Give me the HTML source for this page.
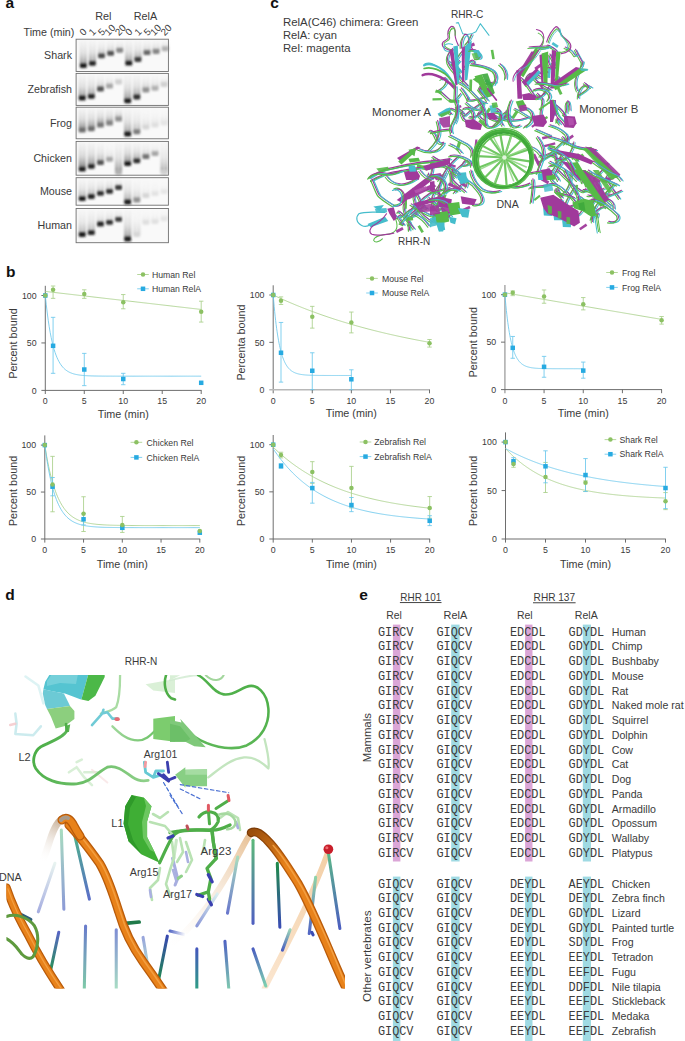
<!DOCTYPE html>
<html><head><meta charset="utf-8"><title>Figure</title><style>
html,body{margin:0;padding:0;background:#fff;}
body{width:685px;height:1041px;overflow:hidden;position:relative;font-family:"Liberation Sans", sans-serif;}
svg{position:absolute;left:0;top:0;display:block;}
svg text{font-family:"Liberation Sans", sans-serif;}
svg text.mono{font-family:"Liberation Mono",monospace;}
</style></head><body>
<svg width="685" height="1041" viewBox="0 0 685 1041">
<defs>
<filter id="gblur" x="-20%" y="-20%" width="140%" height="140%"><feGaussianBlur stdDeviation="0.8"/></filter>
<linearGradient id="smear" x1="0" y1="0" x2="0" y2="1"><stop offset="0" stop-color="#e0e0e0" stop-opacity="0.2"/><stop offset="0.5" stop-color="#c4c4c4" stop-opacity="0.55"/><stop offset="0.85" stop-color="#8c8c8c" stop-opacity="0.85"/><stop offset="1" stop-color="#555" stop-opacity="1"/></linearGradient>
</defs>
<text x="5.60" y="7.90" font-size="15.5" text-anchor="start" fill="#111" font-weight="bold" >a</text>
<text x="103.30" y="19.60" font-size="10.8" text-anchor="middle" fill="#3a3a3a" font-weight="normal" >Rel</text>
<text x="145.40" y="19.60" font-size="10.8" text-anchor="middle" fill="#3a3a3a" font-weight="normal" >RelA</text>
<text x="23.50" y="35.60" font-size="10.7" text-anchor="start" fill="#3a3a3a" font-weight="normal" textLength="50.8" lengthAdjust="spacingAndGlyphs">Time (min)</text>
<text transform="translate(83.60,36.2) rotate(-45)" font-size="9.8" fill="#3a3a3a">0</text>
<text transform="translate(92.75,36.2) rotate(-45)" font-size="9.8" fill="#3a3a3a">1</text>
<text transform="translate(101.90,36.2) rotate(-45)" font-size="9.8" fill="#3a3a3a">5</text>
<text transform="translate(108.45,36.2) rotate(-45)" font-size="9.8" fill="#3a3a3a">10</text>
<text transform="translate(119.00,36.2) rotate(-45)" font-size="9.8" fill="#3a3a3a">20</text>
<text transform="translate(129.35,36.2) rotate(-45)" font-size="9.8" fill="#3a3a3a">0</text>
<text transform="translate(138.50,36.2) rotate(-45)" font-size="9.8" fill="#3a3a3a">1</text>
<text transform="translate(147.65,36.2) rotate(-45)" font-size="9.8" fill="#3a3a3a">5</text>
<text transform="translate(154.20,36.2) rotate(-45)" font-size="9.8" fill="#3a3a3a">10</text>
<text transform="translate(164.75,36.2) rotate(-45)" font-size="9.8" fill="#3a3a3a">20</text>
<rect x="76.1" y="39.2" width="92.30000000000001" height="32.30" fill="#f9f9f9"/>
<g filter="url(#gblur)">
<rect x="79.90" y="40.20" width="6.8" height="25.35" fill="url(#smear)" opacity="0.75"/>
<rect x="79.90" y="40.20" width="1.3" height="25.35" fill="url(#smear)" opacity="0.75"/>
<rect x="85.40" y="40.20" width="1.3" height="25.35" fill="url(#smear)" opacity="0.75"/>
<rect x="79.90" y="63.15" width="6.8" height="4.8" rx="1.2" fill="rgb(30,30,30)"/>
<rect x="89.00" y="40.20" width="6.8" height="23.20" fill="url(#smear)" opacity="0.68"/>
<rect x="89.00" y="40.20" width="1.3" height="23.20" fill="url(#smear)" opacity="0.68"/>
<rect x="94.50" y="40.20" width="1.3" height="23.20" fill="url(#smear)" opacity="0.68"/>
<rect x="89.00" y="61.00" width="6.8" height="4.8" rx="1.2" fill="rgb(40,40,40)"/>
<rect x="98.10" y="40.20" width="6.8" height="15.70" fill="url(#smear)" opacity="0.48"/>
<rect x="98.10" y="40.20" width="1.3" height="15.70" fill="url(#smear)" opacity="0.48"/>
<rect x="103.60" y="40.20" width="1.3" height="15.70" fill="url(#smear)" opacity="0.48"/>
<rect x="98.10" y="53.50" width="6.8" height="4.8" rx="1.2" fill="rgb(72,72,72)"/>
<rect x="107.20" y="40.20" width="6.8" height="13.10" fill="url(#smear)" opacity="0.48"/>
<rect x="107.20" y="40.20" width="1.3" height="13.10" fill="url(#smear)" opacity="0.48"/>
<rect x="112.70" y="40.20" width="1.3" height="13.10" fill="url(#smear)" opacity="0.48"/>
<rect x="107.20" y="50.90" width="6.8" height="4.8" rx="1.2" fill="rgb(82,82,82)"/>
<rect x="116.30" y="40.20" width="6.8" height="10.20" fill="url(#smear)" opacity="0.38"/>
<rect x="116.30" y="40.20" width="1.3" height="10.20" fill="url(#smear)" opacity="0.38"/>
<rect x="121.80" y="40.20" width="1.3" height="10.20" fill="url(#smear)" opacity="0.38"/>
<rect x="116.30" y="48.00" width="6.8" height="4.8" rx="1.2" fill="rgb(135,135,135)"/>
<rect x="125.40" y="40.20" width="6.8" height="23.00" fill="url(#smear)" opacity="0.75"/>
<rect x="125.40" y="40.20" width="1.3" height="23.00" fill="url(#smear)" opacity="0.75"/>
<rect x="130.90" y="40.20" width="1.3" height="23.00" fill="url(#smear)" opacity="0.75"/>
<rect x="125.40" y="60.80" width="6.8" height="4.8" rx="1.2" fill="rgb(30,30,30)"/>
<rect x="134.50" y="40.20" width="6.8" height="19.30" fill="url(#smear)" opacity="0.63"/>
<rect x="134.50" y="40.20" width="1.3" height="19.30" fill="url(#smear)" opacity="0.63"/>
<rect x="140.00" y="40.20" width="1.3" height="19.30" fill="url(#smear)" opacity="0.63"/>
<rect x="134.50" y="57.10" width="6.8" height="4.8" rx="1.2" fill="rgb(61,61,61)"/>
<rect x="143.60" y="40.20" width="6.8" height="12.50" fill="url(#smear)" opacity="0.45"/>
<rect x="143.60" y="40.20" width="1.3" height="12.50" fill="url(#smear)" opacity="0.45"/>
<rect x="149.10" y="40.20" width="1.3" height="12.50" fill="url(#smear)" opacity="0.45"/>
<rect x="143.60" y="50.30" width="6.8" height="4.8" rx="1.2" fill="rgb(103,103,103)"/>
<rect x="152.70" y="40.20" width="6.8" height="11.30" fill="url(#smear)" opacity="0.45"/>
<rect x="152.70" y="40.20" width="1.3" height="11.30" fill="url(#smear)" opacity="0.45"/>
<rect x="158.20" y="40.20" width="1.3" height="11.30" fill="url(#smear)" opacity="0.45"/>
<rect x="152.70" y="49.10" width="6.8" height="4.8" rx="1.2" fill="rgb(135,135,135)"/>
<rect x="161.80" y="40.20" width="6.8" height="8.60" fill="url(#smear)" opacity="0.38"/>
<rect x="161.80" y="40.20" width="1.3" height="8.60" fill="url(#smear)" opacity="0.38"/>
<rect x="167.30" y="40.20" width="1.3" height="8.60" fill="url(#smear)" opacity="0.38"/>
<rect x="161.80" y="46.40" width="6.8" height="4.8" rx="1.2" fill="rgb(177,177,177)"/>
</g>
<rect x="76.1" y="39.2" width="92.30000000000001" height="32.30" fill="none" stroke="#6f6f6f" stroke-width="0.9"/>
<text x="72.00" y="59.05" font-size="10.7" text-anchor="end" fill="#3a3a3a" font-weight="normal" >Shark</text>
<rect x="76.1" y="73.4" width="92.30000000000001" height="32.00" fill="#f9f9f9"/>
<g filter="url(#gblur)">
<rect x="78.80" y="74.40" width="6.8" height="23.60" fill="url(#smear)" opacity="0.75"/>
<rect x="78.80" y="74.40" width="1.3" height="23.60" fill="url(#smear)" opacity="0.75"/>
<rect x="84.30" y="74.40" width="1.3" height="23.60" fill="url(#smear)" opacity="0.75"/>
<rect x="78.80" y="95.60" width="6.8" height="4.8" rx="1.2" fill="rgb(30,30,30)"/>
<rect x="87.90" y="74.40" width="6.8" height="21.90" fill="url(#smear)" opacity="0.68"/>
<rect x="87.90" y="74.40" width="1.3" height="21.90" fill="url(#smear)" opacity="0.68"/>
<rect x="93.40" y="74.40" width="1.3" height="21.90" fill="url(#smear)" opacity="0.68"/>
<rect x="87.90" y="93.90" width="6.8" height="4.8" rx="1.2" fill="rgb(40,40,40)"/>
<rect x="97.00" y="74.40" width="6.8" height="14.60" fill="url(#smear)" opacity="0.45"/>
<rect x="97.00" y="74.40" width="1.3" height="14.60" fill="url(#smear)" opacity="0.45"/>
<rect x="102.50" y="74.40" width="1.3" height="14.60" fill="url(#smear)" opacity="0.45"/>
<rect x="97.00" y="86.60" width="6.8" height="4.8" rx="1.2" fill="rgb(82,82,82)"/>
<rect x="106.10" y="74.40" width="6.8" height="11.80" fill="url(#smear)" opacity="0.30"/>
<rect x="106.10" y="74.40" width="1.3" height="11.80" fill="url(#smear)" opacity="0.30"/>
<rect x="111.60" y="74.40" width="1.3" height="11.80" fill="url(#smear)" opacity="0.30"/>
<rect x="106.10" y="83.80" width="6.8" height="4.8" rx="1.2" fill="rgb(166,166,166)"/>
<rect x="115.20" y="74.40" width="6.8" height="7.60" fill="url(#smear)" opacity="0.22"/>
<rect x="115.20" y="74.40" width="1.3" height="7.60" fill="url(#smear)" opacity="0.22"/>
<rect x="120.70" y="74.40" width="1.3" height="7.60" fill="url(#smear)" opacity="0.22"/>
<rect x="115.20" y="79.60" width="6.8" height="4.8" rx="1.2" fill="rgb(208,208,208)"/>
<rect x="124.30" y="74.40" width="6.8" height="26.40" fill="url(#smear)" opacity="0.75"/>
<rect x="124.30" y="74.40" width="1.3" height="26.40" fill="url(#smear)" opacity="0.75"/>
<rect x="129.80" y="74.40" width="1.3" height="26.40" fill="url(#smear)" opacity="0.75"/>
<rect x="124.30" y="98.40" width="6.8" height="4.8" rx="1.2" fill="rgb(30,30,30)"/>
<rect x="133.40" y="74.40" width="6.8" height="22.60" fill="url(#smear)" opacity="0.68"/>
<rect x="133.40" y="74.40" width="1.3" height="22.60" fill="url(#smear)" opacity="0.68"/>
<rect x="138.90" y="74.40" width="1.3" height="22.60" fill="url(#smear)" opacity="0.68"/>
<rect x="133.40" y="94.60" width="6.8" height="4.8" rx="1.2" fill="rgb(46,46,46)"/>
<rect x="142.50" y="74.40" width="6.8" height="15.60" fill="url(#smear)" opacity="0.38"/>
<rect x="142.50" y="74.40" width="1.3" height="15.60" fill="url(#smear)" opacity="0.38"/>
<rect x="148.00" y="74.40" width="1.3" height="15.60" fill="url(#smear)" opacity="0.38"/>
<rect x="142.50" y="87.60" width="6.8" height="4.8" rx="1.2" fill="rgb(145,145,145)"/>
<rect x="151.60" y="74.40" width="6.8" height="13.90" fill="url(#smear)" opacity="0.30"/>
<rect x="151.60" y="74.40" width="1.3" height="13.90" fill="url(#smear)" opacity="0.30"/>
<rect x="157.10" y="74.40" width="1.3" height="13.90" fill="url(#smear)" opacity="0.30"/>
<rect x="151.60" y="85.90" width="6.8" height="4.8" rx="1.2" fill="rgb(177,177,177)"/>
<rect x="160.70" y="74.40" width="6.8" height="10.10" fill="url(#smear)" opacity="0.22"/>
<rect x="160.70" y="74.40" width="1.3" height="10.10" fill="url(#smear)" opacity="0.22"/>
<rect x="166.20" y="74.40" width="1.3" height="10.10" fill="url(#smear)" opacity="0.22"/>
<rect x="160.70" y="82.10" width="6.8" height="4.8" rx="1.2" fill="rgb(208,208,208)"/>
</g>
<rect x="76.1" y="73.4" width="92.30000000000001" height="32.00" fill="none" stroke="#6f6f6f" stroke-width="0.9"/>
<text x="72.00" y="93.10" font-size="10.7" text-anchor="end" fill="#3a3a3a" font-weight="normal" >Zebrafish</text>
<rect x="76.1" y="107.2" width="92.30000000000001" height="31.60" fill="#f9f9f9"/>
<g filter="url(#gblur)">
<rect x="78.80" y="108.20" width="6.8" height="22.00" fill="url(#smear)" opacity="0.90"/>
<rect x="78.80" y="108.20" width="1.3" height="22.00" fill="url(#smear)" opacity="0.90"/>
<rect x="84.30" y="108.20" width="1.3" height="22.00" fill="url(#smear)" opacity="0.90"/>
<rect x="78.80" y="127.80" width="6.8" height="4.8" rx="1.2" fill="rgb(109,109,109)"/>
<rect x="87.90" y="108.20" width="6.8" height="20.60" fill="url(#smear)" opacity="0.83"/>
<rect x="87.90" y="108.20" width="1.3" height="20.60" fill="url(#smear)" opacity="0.83"/>
<rect x="93.40" y="108.20" width="1.3" height="20.60" fill="url(#smear)" opacity="0.83"/>
<rect x="87.90" y="126.40" width="6.8" height="4.8" rx="1.2" fill="rgb(109,109,109)"/>
<rect x="97.00" y="108.20" width="6.8" height="17.00" fill="url(#smear)" opacity="0.83"/>
<rect x="97.00" y="108.20" width="1.3" height="17.00" fill="url(#smear)" opacity="0.83"/>
<rect x="102.50" y="108.20" width="1.3" height="17.00" fill="url(#smear)" opacity="0.83"/>
<rect x="97.00" y="122.80" width="6.8" height="4.8" rx="1.2" fill="rgb(118,118,118)"/>
<rect x="106.10" y="108.20" width="6.8" height="15.00" fill="url(#smear)" opacity="0.75"/>
<rect x="106.10" y="108.20" width="1.3" height="15.00" fill="url(#smear)" opacity="0.75"/>
<rect x="111.60" y="108.20" width="1.3" height="15.00" fill="url(#smear)" opacity="0.75"/>
<rect x="106.10" y="120.80" width="6.8" height="4.8" rx="1.2" fill="rgb(130,130,130)"/>
<rect x="115.20" y="108.20" width="6.8" height="11.00" fill="url(#smear)" opacity="0.68"/>
<rect x="115.20" y="108.20" width="1.3" height="11.00" fill="url(#smear)" opacity="0.68"/>
<rect x="120.70" y="108.20" width="1.3" height="11.00" fill="url(#smear)" opacity="0.68"/>
<rect x="115.20" y="116.80" width="6.8" height="4.8" rx="1.2" fill="rgb(145,145,145)"/>
<rect x="124.30" y="108.20" width="6.8" height="25.80" fill="url(#smear)" opacity="0.68"/>
<rect x="124.30" y="108.20" width="1.3" height="25.80" fill="url(#smear)" opacity="0.68"/>
<rect x="129.80" y="108.20" width="1.3" height="25.80" fill="url(#smear)" opacity="0.68"/>
<rect x="124.30" y="131.60" width="6.8" height="4.8" rx="1.2" fill="rgb(30,30,30)"/>
<rect x="133.40" y="108.20" width="6.8" height="23.70" fill="url(#smear)" opacity="0.45"/>
<rect x="133.40" y="108.20" width="1.3" height="23.70" fill="url(#smear)" opacity="0.45"/>
<rect x="138.90" y="108.20" width="1.3" height="23.70" fill="url(#smear)" opacity="0.45"/>
<rect x="133.40" y="129.50" width="6.8" height="4.8" rx="1.2" fill="rgb(124,124,124)"/>
<rect x="142.50" y="108.20" width="6.8" height="19.00" fill="url(#smear)" opacity="0.18"/>
<rect x="142.50" y="108.20" width="1.3" height="19.00" fill="url(#smear)" opacity="0.18"/>
<rect x="148.00" y="108.20" width="1.3" height="19.00" fill="url(#smear)" opacity="0.18"/>
<rect x="142.50" y="124.80" width="6.8" height="4.8" rx="1.2" fill="rgb(214,214,214)"/>
<rect x="151.60" y="108.20" width="6.8" height="17.00" fill="url(#smear)" opacity="0.15"/>
<rect x="151.60" y="108.20" width="1.3" height="17.00" fill="url(#smear)" opacity="0.15"/>
<rect x="157.10" y="108.20" width="1.3" height="17.00" fill="url(#smear)" opacity="0.15"/>
<rect x="151.60" y="122.80" width="6.8" height="4.8" rx="1.2" fill="rgb(223,223,223)"/>
<rect x="160.70" y="108.20" width="6.8" height="15.00" fill="url(#smear)" opacity="0.15"/>
<rect x="160.70" y="108.20" width="1.3" height="15.00" fill="url(#smear)" opacity="0.15"/>
<rect x="166.20" y="108.20" width="1.3" height="15.00" fill="url(#smear)" opacity="0.15"/>
<rect x="160.70" y="120.80" width="6.8" height="4.8" rx="1.2" fill="rgb(229,229,229)"/>
</g>
<rect x="76.1" y="107.2" width="92.30000000000001" height="31.60" fill="none" stroke="#6f6f6f" stroke-width="0.9"/>
<text x="72.00" y="126.70" font-size="10.7" text-anchor="end" fill="#3a3a3a" font-weight="normal" >Frog</text>
<rect x="76.1" y="141.4" width="92.30000000000001" height="33.80" fill="#f9f9f9"/>
<g filter="url(#gblur)">
<rect x="78.80" y="142.40" width="6.8" height="26.70" fill="url(#smear)" opacity="1.00"/>
<rect x="78.80" y="142.40" width="1.3" height="26.70" fill="url(#smear)" opacity="1.00"/>
<rect x="84.30" y="142.40" width="1.3" height="26.70" fill="url(#smear)" opacity="1.00"/>
<rect x="78.80" y="166.70" width="6.8" height="4.8" rx="1.2" fill="rgb(30,30,30)"/>
<rect x="87.90" y="142.40" width="6.8" height="23.90" fill="url(#smear)" opacity="0.83"/>
<rect x="87.90" y="142.40" width="1.3" height="23.90" fill="url(#smear)" opacity="0.83"/>
<rect x="93.40" y="142.40" width="1.3" height="23.90" fill="url(#smear)" opacity="0.83"/>
<rect x="87.90" y="163.90" width="6.8" height="4.8" rx="1.2" fill="rgb(40,40,40)"/>
<rect x="97.00" y="142.40" width="6.8" height="20.20" fill="url(#smear)" opacity="0.52"/>
<rect x="97.00" y="142.40" width="1.3" height="20.20" fill="url(#smear)" opacity="0.52"/>
<rect x="102.50" y="142.40" width="1.3" height="20.20" fill="url(#smear)" opacity="0.52"/>
<rect x="97.00" y="160.20" width="6.8" height="4.8" rx="1.2" fill="rgb(82,82,82)"/>
<rect x="106.10" y="142.40" width="6.8" height="17.00" fill="url(#smear)" opacity="0.22"/>
<rect x="106.10" y="142.40" width="1.3" height="17.00" fill="url(#smear)" opacity="0.22"/>
<rect x="111.60" y="142.40" width="1.3" height="17.00" fill="url(#smear)" opacity="0.22"/>
<rect x="106.10" y="157.00" width="6.8" height="4.8" rx="1.2" fill="rgb(166,166,166)"/>
<rect x="115.20" y="142.40" width="6.8" height="30.00" fill="url(#smear)" opacity="0.68"/>
<rect x="115.20" y="142.40" width="1.3" height="30.00" fill="url(#smear)" opacity="0.68"/>
<rect x="120.70" y="142.40" width="1.3" height="30.00" fill="url(#smear)" opacity="0.68"/>
<rect x="115.20" y="170.00" width="6.8" height="4.8" rx="1.2" fill="rgb(177,177,177)"/>
<rect x="124.30" y="142.40" width="6.8" height="21.20" fill="url(#smear)" opacity="0.90"/>
<rect x="124.30" y="142.40" width="1.3" height="21.20" fill="url(#smear)" opacity="0.90"/>
<rect x="129.80" y="142.40" width="1.3" height="21.20" fill="url(#smear)" opacity="0.90"/>
<rect x="124.30" y="161.20" width="6.8" height="4.8" rx="1.2" fill="rgb(30,30,30)"/>
<rect x="133.40" y="142.40" width="6.8" height="18.40" fill="url(#smear)" opacity="0.68"/>
<rect x="133.40" y="142.40" width="1.3" height="18.40" fill="url(#smear)" opacity="0.68"/>
<rect x="138.90" y="142.40" width="1.3" height="18.40" fill="url(#smear)" opacity="0.68"/>
<rect x="133.40" y="158.40" width="6.8" height="4.8" rx="1.2" fill="rgb(46,46,46)"/>
<rect x="142.50" y="142.40" width="6.8" height="14.30" fill="url(#smear)" opacity="0.38"/>
<rect x="142.50" y="142.40" width="1.3" height="14.30" fill="url(#smear)" opacity="0.38"/>
<rect x="148.00" y="142.40" width="1.3" height="14.30" fill="url(#smear)" opacity="0.38"/>
<rect x="142.50" y="154.30" width="6.8" height="4.8" rx="1.2" fill="rgb(114,114,114)"/>
<rect x="151.60" y="142.40" width="6.8" height="11.20" fill="url(#smear)" opacity="0.22"/>
<rect x="151.60" y="142.40" width="1.3" height="11.20" fill="url(#smear)" opacity="0.22"/>
<rect x="157.10" y="142.40" width="1.3" height="11.20" fill="url(#smear)" opacity="0.22"/>
<rect x="151.60" y="151.20" width="6.8" height="4.8" rx="1.2" fill="rgb(166,166,166)"/>
<rect x="160.70" y="142.40" width="6.8" height="30.00" fill="url(#smear)" opacity="0.52"/>
<rect x="160.70" y="142.40" width="1.3" height="30.00" fill="url(#smear)" opacity="0.52"/>
<rect x="166.20" y="142.40" width="1.3" height="30.00" fill="url(#smear)" opacity="0.52"/>
<rect x="160.70" y="170.00" width="6.8" height="4.8" rx="1.2" fill="rgb(208,208,208)"/>
</g>
<rect x="76.1" y="141.4" width="92.30000000000001" height="33.80" fill="none" stroke="#6f6f6f" stroke-width="0.9"/>
<text x="72.00" y="162.00" font-size="10.7" text-anchor="end" fill="#3a3a3a" font-weight="normal" >Chicken</text>
<rect x="76.1" y="177.7" width="92.30000000000001" height="27.50" fill="#f9f9f9"/>
<g filter="url(#gblur)">
<rect x="78.80" y="178.70" width="6.8" height="19.90" fill="url(#smear)" opacity="0.60"/>
<rect x="78.80" y="178.70" width="1.3" height="19.90" fill="url(#smear)" opacity="0.60"/>
<rect x="84.30" y="178.70" width="1.3" height="19.90" fill="url(#smear)" opacity="0.60"/>
<rect x="78.80" y="196.20" width="6.8" height="4.8" rx="1.2" fill="rgb(30,30,30)"/>
<rect x="87.90" y="178.70" width="6.8" height="17.80" fill="url(#smear)" opacity="0.57"/>
<rect x="87.90" y="178.70" width="1.3" height="17.80" fill="url(#smear)" opacity="0.57"/>
<rect x="93.40" y="178.70" width="1.3" height="17.80" fill="url(#smear)" opacity="0.57"/>
<rect x="87.90" y="194.10" width="6.8" height="4.8" rx="1.2" fill="rgb(40,40,40)"/>
<rect x="97.00" y="178.70" width="6.8" height="14.70" fill="url(#smear)" opacity="0.52"/>
<rect x="97.00" y="178.70" width="1.3" height="14.70" fill="url(#smear)" opacity="0.52"/>
<rect x="102.50" y="178.70" width="1.3" height="14.70" fill="url(#smear)" opacity="0.52"/>
<rect x="97.00" y="191.00" width="6.8" height="4.8" rx="1.2" fill="rgb(46,46,46)"/>
<rect x="106.10" y="178.70" width="6.8" height="12.60" fill="url(#smear)" opacity="0.52"/>
<rect x="106.10" y="178.70" width="1.3" height="12.60" fill="url(#smear)" opacity="0.52"/>
<rect x="111.60" y="178.70" width="1.3" height="12.60" fill="url(#smear)" opacity="0.52"/>
<rect x="106.10" y="188.90" width="6.8" height="4.8" rx="1.2" fill="rgb(46,46,46)"/>
<rect x="115.20" y="178.70" width="6.8" height="8.80" fill="url(#smear)" opacity="0.45"/>
<rect x="115.20" y="178.70" width="1.3" height="8.80" fill="url(#smear)" opacity="0.45"/>
<rect x="120.70" y="178.70" width="1.3" height="8.80" fill="url(#smear)" opacity="0.45"/>
<rect x="115.20" y="185.10" width="6.8" height="4.8" rx="1.2" fill="rgb(61,61,61)"/>
<rect x="124.30" y="178.70" width="6.8" height="23.30" fill="url(#smear)" opacity="0.60"/>
<rect x="124.30" y="178.70" width="1.3" height="23.30" fill="url(#smear)" opacity="0.60"/>
<rect x="129.80" y="178.70" width="1.3" height="23.30" fill="url(#smear)" opacity="0.60"/>
<rect x="124.30" y="199.60" width="6.8" height="4.8" rx="1.2" fill="rgb(30,30,30)"/>
<rect x="133.40" y="178.70" width="6.8" height="21.30" fill="url(#smear)" opacity="0.30"/>
<rect x="133.40" y="178.70" width="1.3" height="21.30" fill="url(#smear)" opacity="0.30"/>
<rect x="138.90" y="178.70" width="1.3" height="21.30" fill="url(#smear)" opacity="0.30"/>
<rect x="133.40" y="197.60" width="6.8" height="4.8" rx="1.2" fill="rgb(145,145,145)"/>
<rect x="142.50" y="178.70" width="6.8" height="17.00" fill="url(#smear)" opacity="0.12"/>
<rect x="142.50" y="178.70" width="1.3" height="17.00" fill="url(#smear)" opacity="0.12"/>
<rect x="148.00" y="178.70" width="1.3" height="17.00" fill="url(#smear)" opacity="0.12"/>
<rect x="142.50" y="193.30" width="6.8" height="4.8" rx="1.2" fill="rgb(214,214,214)"/>
<rect x="151.60" y="178.70" width="6.8" height="15.00" fill="url(#smear)" opacity="0.08"/>
<rect x="151.60" y="178.70" width="1.3" height="15.00" fill="url(#smear)" opacity="0.08"/>
<rect x="157.10" y="178.70" width="1.3" height="15.00" fill="url(#smear)" opacity="0.08"/>
<rect x="151.60" y="191.30" width="6.8" height="4.8" rx="1.2" fill="rgb(227,227,227)"/>
<rect x="160.70" y="178.70" width="6.8" height="13.00" fill="url(#smear)" opacity="0.08"/>
<rect x="160.70" y="178.70" width="1.3" height="13.00" fill="url(#smear)" opacity="0.08"/>
<rect x="166.20" y="178.70" width="1.3" height="13.00" fill="url(#smear)" opacity="0.08"/>
<rect x="160.70" y="189.30" width="6.8" height="4.8" rx="1.2" fill="rgb(231,231,231)"/>
</g>
<rect x="76.1" y="177.7" width="92.30000000000001" height="27.50" fill="none" stroke="#6f6f6f" stroke-width="0.9"/>
<text x="72.00" y="195.15" font-size="10.7" text-anchor="end" fill="#3a3a3a" font-weight="normal" >Mouse</text>
<rect x="76.1" y="208.5" width="92.30000000000001" height="34.20" fill="#f9f9f9"/>
<g filter="url(#gblur)">
<rect x="78.80" y="209.50" width="6.8" height="25.00" fill="url(#smear)" opacity="0.52"/>
<rect x="78.80" y="209.50" width="1.3" height="25.00" fill="url(#smear)" opacity="0.52"/>
<rect x="84.30" y="209.50" width="1.3" height="25.00" fill="url(#smear)" opacity="0.52"/>
<rect x="78.80" y="232.10" width="6.8" height="4.8" rx="1.2" fill="rgb(30,30,30)"/>
<rect x="87.90" y="209.50" width="6.8" height="23.20" fill="url(#smear)" opacity="0.52"/>
<rect x="87.90" y="209.50" width="1.3" height="23.20" fill="url(#smear)" opacity="0.52"/>
<rect x="93.40" y="209.50" width="1.3" height="23.20" fill="url(#smear)" opacity="0.52"/>
<rect x="87.90" y="230.30" width="6.8" height="4.8" rx="1.2" fill="rgb(40,40,40)"/>
<rect x="97.00" y="209.50" width="6.8" height="14.50" fill="url(#smear)" opacity="0.38"/>
<rect x="97.00" y="209.50" width="1.3" height="14.50" fill="url(#smear)" opacity="0.38"/>
<rect x="102.50" y="209.50" width="1.3" height="14.50" fill="url(#smear)" opacity="0.38"/>
<rect x="97.00" y="221.60" width="6.8" height="4.8" rx="1.2" fill="rgb(40,40,40)"/>
<rect x="106.10" y="209.50" width="6.8" height="12.80" fill="url(#smear)" opacity="0.38"/>
<rect x="106.10" y="209.50" width="1.3" height="12.80" fill="url(#smear)" opacity="0.38"/>
<rect x="111.60" y="209.50" width="1.3" height="12.80" fill="url(#smear)" opacity="0.38"/>
<rect x="106.10" y="219.90" width="6.8" height="4.8" rx="1.2" fill="rgb(51,51,51)"/>
<rect x="115.20" y="209.50" width="6.8" height="9.80" fill="url(#smear)" opacity="0.38"/>
<rect x="115.20" y="209.50" width="1.3" height="9.80" fill="url(#smear)" opacity="0.38"/>
<rect x="120.70" y="209.50" width="1.3" height="9.80" fill="url(#smear)" opacity="0.38"/>
<rect x="115.20" y="216.90" width="6.8" height="4.8" rx="1.2" fill="rgb(61,61,61)"/>
<rect x="124.30" y="209.50" width="6.8" height="29.50" fill="url(#smear)" opacity="0.68"/>
<rect x="124.30" y="209.50" width="1.3" height="29.50" fill="url(#smear)" opacity="0.68"/>
<rect x="129.80" y="209.50" width="1.3" height="29.50" fill="url(#smear)" opacity="0.68"/>
<rect x="124.30" y="236.60" width="6.8" height="4.8" rx="1.2" fill="rgb(30,30,30)"/>
<rect x="133.40" y="209.50" width="6.8" height="25.00" fill="url(#smear)" opacity="0.22"/>
<rect x="133.40" y="209.50" width="1.3" height="25.00" fill="url(#smear)" opacity="0.22"/>
<rect x="138.90" y="209.50" width="1.3" height="25.00" fill="url(#smear)" opacity="0.22"/>
<rect x="133.40" y="232.10" width="6.8" height="4.8" rx="1.2" fill="rgb(214,214,214)"/>
<rect x="142.50" y="209.50" width="6.8" height="12.80" fill="url(#smear)" opacity="0.12"/>
<rect x="142.50" y="209.50" width="1.3" height="12.80" fill="url(#smear)" opacity="0.12"/>
<rect x="148.00" y="209.50" width="1.3" height="12.80" fill="url(#smear)" opacity="0.12"/>
<rect x="142.50" y="219.90" width="6.8" height="4.8" rx="1.2" fill="rgb(223,223,223)"/>
<rect x="151.60" y="209.50" width="6.8" height="12.10" fill="url(#smear)" opacity="0.12"/>
<rect x="151.60" y="209.50" width="1.3" height="12.10" fill="url(#smear)" opacity="0.12"/>
<rect x="157.10" y="209.50" width="1.3" height="12.10" fill="url(#smear)" opacity="0.12"/>
<rect x="151.60" y="219.20" width="6.8" height="4.8" rx="1.2" fill="rgb(225,225,225)"/>
<rect x="160.70" y="209.50" width="6.8" height="9.40" fill="url(#smear)" opacity="0.12"/>
<rect x="160.70" y="209.50" width="1.3" height="9.40" fill="url(#smear)" opacity="0.12"/>
<rect x="166.20" y="209.50" width="1.3" height="9.40" fill="url(#smear)" opacity="0.12"/>
<rect x="160.70" y="216.50" width="6.8" height="4.8" rx="1.2" fill="rgb(229,229,229)"/>
</g>
<rect x="76.1" y="208.5" width="92.30000000000001" height="34.20" fill="none" stroke="#6f6f6f" stroke-width="0.9"/>
<text x="72.00" y="229.30" font-size="10.7" text-anchor="end" fill="#3a3a3a" font-weight="normal" >Human</text>
<path d="M456.8,111.0 C445.6,102.7 449.4,116.2 451.7,113.1" transform="translate(1.3,0.9)" stroke="#45bdcc" stroke-width="1.05" fill="none" stroke-linecap="round"/><path d="M456.8,111.0 C445.6,102.7 449.4,116.2 451.7,113.1" transform="translate(-1.1,1.3)" stroke="#57ba48" stroke-width="1.05" fill="none" stroke-linecap="round"/><path d="M456.8,111.0 C445.6,102.7 449.4,116.2 451.7,113.1" transform="translate(0,0)" stroke="#a03a9b" stroke-width="1.05" fill="none" stroke-linecap="round"/><path d="M466.7,43.1 C464.3,44.3 466.5,46.1 471.9,34.2" transform="translate(1.3,0.9)" stroke="#45bdcc" stroke-width="1.05" fill="none" stroke-linecap="round"/><path d="M466.7,43.1 C464.3,44.3 466.5,46.1 471.9,34.2" transform="translate(0,0)" stroke="#a03a9b" stroke-width="1.05" fill="none" stroke-linecap="round"/><path d="M466.7,43.1 C464.3,44.3 466.5,46.1 471.9,34.2" transform="translate(-1.1,1.3)" stroke="#57ba48" stroke-width="1.05" fill="none" stroke-linecap="round"/><path d="M457.1,60.8 C459.6,59.4 453.6,68.2 459.6,60.5" transform="translate(0,0)" stroke="#a03a9b" stroke-width="1.05" fill="none" stroke-linecap="round"/><path d="M457.1,60.8 C459.6,59.4 453.6,68.2 459.6,60.5" transform="translate(1.3,0.9)" stroke="#45bdcc" stroke-width="1.05" fill="none" stroke-linecap="round"/><path d="M457.1,60.8 C459.6,59.4 453.6,68.2 459.6,60.5" transform="translate(-1.1,1.3)" stroke="#57ba48" stroke-width="1.05" fill="none" stroke-linecap="round"/><path d="M464.4,115.8 C471.3,109.4 485.7,97.9 483.2,105.7" transform="translate(-1.1,1.3)" stroke="#57ba48" stroke-width="1.05" fill="none" stroke-linecap="round"/><path d="M464.4,115.8 C471.3,109.4 485.7,97.9 483.2,105.7" transform="translate(1.3,0.9)" stroke="#45bdcc" stroke-width="1.05" fill="none" stroke-linecap="round"/><path d="M464.4,115.8 C471.3,109.4 485.7,97.9 483.2,105.7" transform="translate(0,0)" stroke="#a03a9b" stroke-width="1.05" fill="none" stroke-linecap="round"/><path d="M484.2,110.2 C479.4,105.7 479.3,114.6 466.3,102.4" transform="translate(0,0)" stroke="#a03a9b" stroke-width="1.05" fill="none" stroke-linecap="round"/><path d="M484.2,110.2 C479.4,105.7 479.3,114.6 466.3,102.4" transform="translate(-1.1,1.3)" stroke="#57ba48" stroke-width="1.05" fill="none" stroke-linecap="round"/><path d="M484.2,110.2 C479.4,105.7 479.3,114.6 466.3,102.4" transform="translate(1.3,0.9)" stroke="#45bdcc" stroke-width="1.05" fill="none" stroke-linecap="round"/><path d="M468.3,96.8 C466.7,103.3 478.3,98.7 491.5,94.3" transform="translate(1.3,0.9)" stroke="#45bdcc" stroke-width="1.05" fill="none" stroke-linecap="round"/><path d="M468.3,96.8 C466.7,103.3 478.3,98.7 491.5,94.3" transform="translate(0,0)" stroke="#a03a9b" stroke-width="1.05" fill="none" stroke-linecap="round"/><path d="M468.3,96.8 C466.7,103.3 478.3,98.7 491.5,94.3" transform="translate(-1.1,1.3)" stroke="#57ba48" stroke-width="1.05" fill="none" stroke-linecap="round"/><path d="M462.0,51.4 C455.6,58.5 452.6,71.0 452.5,61.0" transform="translate(0,0)" stroke="#a03a9b" stroke-width="1.05" fill="none" stroke-linecap="round"/><path d="M462.0,51.4 C455.6,58.5 452.6,71.0 452.5,61.0" transform="translate(-1.1,1.3)" stroke="#57ba48" stroke-width="1.05" fill="none" stroke-linecap="round"/><path d="M462.0,51.4 C455.6,58.5 452.6,71.0 452.5,61.0" transform="translate(1.3,0.9)" stroke="#45bdcc" stroke-width="1.05" fill="none" stroke-linecap="round"/><path d="M456.1,65.2 C467.7,78.9 457.2,69.2 449.2,61.2" transform="translate(-1.1,1.3)" stroke="#57ba48" stroke-width="1.05" fill="none" stroke-linecap="round"/><path d="M456.1,65.2 C467.7,78.9 457.2,69.2 449.2,61.2" transform="translate(0,0)" stroke="#a03a9b" stroke-width="1.05" fill="none" stroke-linecap="round"/><path d="M456.1,65.2 C467.7,78.9 457.2,69.2 449.2,61.2" transform="translate(1.3,0.9)" stroke="#45bdcc" stroke-width="1.05" fill="none" stroke-linecap="round"/><path d="M456.4,66.2 C458.4,79.8 464.1,80.2 467.7,85.5" transform="translate(-1.1,1.3)" stroke="#57ba48" stroke-width="1.05" fill="none" stroke-linecap="round"/><path d="M456.4,66.2 C458.4,79.8 464.1,80.2 467.7,85.5" transform="translate(1.3,0.9)" stroke="#45bdcc" stroke-width="1.05" fill="none" stroke-linecap="round"/><path d="M456.4,66.2 C458.4,79.8 464.1,80.2 467.7,85.5" transform="translate(0,0)" stroke="#a03a9b" stroke-width="1.05" fill="none" stroke-linecap="round"/><path d="M459.9,77.4 C447.5,65.5 442.8,58.4 452.7,48.3" transform="translate(1.3,0.9)" stroke="#45bdcc" stroke-width="1.05" fill="none" stroke-linecap="round"/><path d="M459.9,77.4 C447.5,65.5 442.8,58.4 452.7,48.3" transform="translate(-1.1,1.3)" stroke="#57ba48" stroke-width="1.05" fill="none" stroke-linecap="round"/><path d="M459.9,77.4 C447.5,65.5 442.8,58.4 452.7,48.3" transform="translate(0,0)" stroke="#a03a9b" stroke-width="1.05" fill="none" stroke-linecap="round"/><path d="M496.3,81.8 C485.7,83.1 471.5,83.9 485.9,94.8" transform="translate(0,0)" stroke="#a03a9b" stroke-width="1.05" fill="none" stroke-linecap="round"/><path d="M496.3,81.8 C485.7,83.1 471.5,83.9 485.9,94.8" transform="translate(1.3,0.9)" stroke="#45bdcc" stroke-width="1.05" fill="none" stroke-linecap="round"/><path d="M496.3,81.8 C485.7,83.1 471.5,83.9 485.9,94.8" transform="translate(-1.1,1.3)" stroke="#57ba48" stroke-width="1.05" fill="none" stroke-linecap="round"/><path d="M463.9,119.0 C459.6,110.7 460.8,110.8 464.9,114.2" transform="translate(1.3,0.9)" stroke="#45bdcc" stroke-width="1.05" fill="none" stroke-linecap="round"/><path d="M463.9,119.0 C459.6,110.7 460.8,110.8 464.9,114.2" transform="translate(-1.1,1.3)" stroke="#57ba48" stroke-width="1.05" fill="none" stroke-linecap="round"/><path d="M463.9,119.0 C459.6,110.7 460.8,110.8 464.9,114.2" transform="translate(0,0)" stroke="#a03a9b" stroke-width="1.05" fill="none" stroke-linecap="round"/><path d="M486.4,102.5 C478.2,103.0 473.8,88.9 459.7,82.3" transform="translate(-1.1,1.3)" stroke="#57ba48" stroke-width="1.05" fill="none" stroke-linecap="round"/><path d="M486.4,102.5 C478.2,103.0 473.8,88.9 459.7,82.3" transform="translate(0,0)" stroke="#a03a9b" stroke-width="1.05" fill="none" stroke-linecap="round"/><path d="M486.4,102.5 C478.2,103.0 473.8,88.9 459.7,82.3" transform="translate(1.3,0.9)" stroke="#45bdcc" stroke-width="1.05" fill="none" stroke-linecap="round"/><path d="M440.3,91.2 C452.3,101.4 451.7,106.0 460.7,93.5" transform="translate(1.3,0.9)" stroke="#45bdcc" stroke-width="1.05" fill="none" stroke-linecap="round"/><path d="M440.3,91.2 C452.3,101.4 451.7,106.0 460.7,93.5" transform="translate(0,0)" stroke="#a03a9b" stroke-width="1.05" fill="none" stroke-linecap="round"/><path d="M440.3,91.2 C452.3,101.4 451.7,106.0 460.7,93.5" transform="translate(-1.1,1.3)" stroke="#57ba48" stroke-width="1.05" fill="none" stroke-linecap="round"/><path d="M455.1,122.8 C461.8,112.9 450.7,102.4 462.8,111.6" transform="translate(-1.1,1.3)" stroke="#57ba48" stroke-width="1.05" fill="none" stroke-linecap="round"/><path d="M455.1,122.8 C461.8,112.9 450.7,102.4 462.8,111.6" transform="translate(1.3,0.9)" stroke="#45bdcc" stroke-width="1.05" fill="none" stroke-linecap="round"/><path d="M455.1,122.8 C461.8,112.9 450.7,102.4 462.8,111.6" transform="translate(0,0)" stroke="#a03a9b" stroke-width="1.05" fill="none" stroke-linecap="round"/><path d="M474.3,64.3 C475.8,53.3 461.2,67.4 465.7,68.2" transform="translate(-1.1,1.3)" stroke="#57ba48" stroke-width="1.05" fill="none" stroke-linecap="round"/><path d="M474.3,64.3 C475.8,53.3 461.2,67.4 465.7,68.2" transform="translate(1.3,0.9)" stroke="#45bdcc" stroke-width="1.05" fill="none" stroke-linecap="round"/><path d="M474.3,64.3 C475.8,53.3 461.2,67.4 465.7,68.2" transform="translate(0,0)" stroke="#a03a9b" stroke-width="1.05" fill="none" stroke-linecap="round"/><path d="M441.0,79.1 C448.9,73.9 450.2,83.9 437.0,91.1" transform="translate(0,0)" stroke="#a03a9b" stroke-width="1.05" fill="none" stroke-linecap="round"/><path d="M441.0,79.1 C448.9,73.9 450.2,83.9 437.0,91.1" transform="translate(-1.1,1.3)" stroke="#57ba48" stroke-width="1.05" fill="none" stroke-linecap="round"/><path d="M441.0,79.1 C448.9,73.9 450.2,83.9 437.0,91.1" transform="translate(1.3,0.9)" stroke="#45bdcc" stroke-width="1.05" fill="none" stroke-linecap="round"/><path d="M487.0,116.1 C476.0,105.6 476.3,116.8 484.6,120.1" transform="translate(1.3,0.9)" stroke="#45bdcc" stroke-width="1.05" fill="none" stroke-linecap="round"/><path d="M487.0,116.1 C476.0,105.6 476.3,116.8 484.6,120.1" transform="translate(-1.1,1.3)" stroke="#57ba48" stroke-width="1.05" fill="none" stroke-linecap="round"/><path d="M487.0,116.1 C476.0,105.6 476.3,116.8 484.6,120.1" transform="translate(0,0)" stroke="#a03a9b" stroke-width="1.05" fill="none" stroke-linecap="round"/><path d="M435.6,90.7 L441.7,93.1" stroke="#57ba48" stroke-width="2.7" fill="none" stroke-linecap="butt" opacity="0.95"/><path d="M461.2,106.1 L455.2,108.4" stroke="#a03a9b" stroke-width="2.4" fill="none" stroke-linecap="butt" opacity="0.95"/><path d="M482.9,79.8 L480.6,91.6" stroke="#a03a9b" stroke-width="2.6" fill="none" stroke-linecap="butt" opacity="0.95"/><path d="M470.9,79.5 L470.5,91.1" stroke="#57ba48" stroke-width="2.7" fill="none" stroke-linecap="butt" opacity="0.95"/><path d="M485.6,79.8 L492.8,86.9" stroke="#45bdcc" stroke-width="3.3" fill="none" stroke-linecap="butt" opacity="0.95"/><path d="M492.0,49.9 L493.5,59.1" stroke="#57ba48" stroke-width="2.6" fill="none" stroke-linecap="butt" opacity="0.95"/><path d="M474.5,44.0 L461.7,49.0" stroke="#a03a9b" stroke-width="3.0" fill="none" stroke-linecap="butt" opacity="0.95"/><path d="M441.8,99.2 L432.5,99.4" stroke="#57ba48" stroke-width="2.3" fill="none" stroke-linecap="butt" opacity="0.95"/><path d="M448.9,100.8 L459.3,101.4" stroke="#57ba48" stroke-width="3.0" fill="none" stroke-linecap="butt" opacity="0.95"/><path d="M559.5,78.4 C559.4,73.2 552.7,82.2 543.2,94.0" transform="translate(-1.1,1.3)" stroke="#57ba48" stroke-width="1.05" fill="none" stroke-linecap="round"/><path d="M559.5,78.4 C559.4,73.2 552.7,82.2 543.2,94.0" transform="translate(0,0)" stroke="#a03a9b" stroke-width="1.05" fill="none" stroke-linecap="round"/><path d="M559.5,78.4 C559.4,73.2 552.7,82.2 543.2,94.0" transform="translate(1.3,0.9)" stroke="#45bdcc" stroke-width="1.05" fill="none" stroke-linecap="round"/><path d="M552.7,61.9 C554.3,74.7 547.3,63.6 548.1,55.7" transform="translate(1.3,0.9)" stroke="#45bdcc" stroke-width="1.05" fill="none" stroke-linecap="round"/><path d="M552.7,61.9 C554.3,74.7 547.3,63.6 548.1,55.7" transform="translate(-1.1,1.3)" stroke="#57ba48" stroke-width="1.05" fill="none" stroke-linecap="round"/><path d="M552.7,61.9 C554.3,74.7 547.3,63.6 548.1,55.7" transform="translate(0,0)" stroke="#a03a9b" stroke-width="1.05" fill="none" stroke-linecap="round"/><path d="M536.7,47.0 C549.7,50.9 550.6,42.1 549.0,47.2" transform="translate(0,0)" stroke="#a03a9b" stroke-width="1.05" fill="none" stroke-linecap="round"/><path d="M536.7,47.0 C549.7,50.9 550.6,42.1 549.0,47.2" transform="translate(-1.1,1.3)" stroke="#57ba48" stroke-width="1.05" fill="none" stroke-linecap="round"/><path d="M536.7,47.0 C549.7,50.9 550.6,42.1 549.0,47.2" transform="translate(1.3,0.9)" stroke="#45bdcc" stroke-width="1.05" fill="none" stroke-linecap="round"/><path d="M557.0,121.9 C557.4,114.3 555.8,119.1 560.3,123.8" transform="translate(0,0)" stroke="#a03a9b" stroke-width="1.05" fill="none" stroke-linecap="round"/><path d="M557.0,121.9 C557.4,114.3 555.8,119.1 560.3,123.8" transform="translate(1.3,0.9)" stroke="#45bdcc" stroke-width="1.05" fill="none" stroke-linecap="round"/><path d="M557.0,121.9 C557.4,114.3 555.8,119.1 560.3,123.8" transform="translate(-1.1,1.3)" stroke="#57ba48" stroke-width="1.05" fill="none" stroke-linecap="round"/><path d="M566.9,112.7 C564.8,99.4 569.8,95.8 570.0,109.9" transform="translate(1.3,0.9)" stroke="#45bdcc" stroke-width="1.05" fill="none" stroke-linecap="round"/><path d="M566.9,112.7 C564.8,99.4 569.8,95.8 570.0,109.9" transform="translate(0,0)" stroke="#a03a9b" stroke-width="1.05" fill="none" stroke-linecap="round"/><path d="M566.9,112.7 C564.8,99.4 569.8,95.8 570.0,109.9" transform="translate(-1.1,1.3)" stroke="#57ba48" stroke-width="1.05" fill="none" stroke-linecap="round"/><path d="M542.3,122.6 C537.0,108.6 548.5,100.2 539.0,95.2" transform="translate(-1.1,1.3)" stroke="#57ba48" stroke-width="1.05" fill="none" stroke-linecap="round"/><path d="M542.3,122.6 C537.0,108.6 548.5,100.2 539.0,95.2" transform="translate(1.3,0.9)" stroke="#45bdcc" stroke-width="1.05" fill="none" stroke-linecap="round"/><path d="M542.3,122.6 C537.0,108.6 548.5,100.2 539.0,95.2" transform="translate(0,0)" stroke="#a03a9b" stroke-width="1.05" fill="none" stroke-linecap="round"/><path d="M526.9,85.2 C523.8,79.1 527.7,66.7 541.4,77.3" transform="translate(-1.1,1.3)" stroke="#57ba48" stroke-width="1.05" fill="none" stroke-linecap="round"/><path d="M526.9,85.2 C523.8,79.1 527.7,66.7 541.4,77.3" transform="translate(1.3,0.9)" stroke="#45bdcc" stroke-width="1.05" fill="none" stroke-linecap="round"/><path d="M526.9,85.2 C523.8,79.1 527.7,66.7 541.4,77.3" transform="translate(0,0)" stroke="#a03a9b" stroke-width="1.05" fill="none" stroke-linecap="round"/><path d="M578.4,97.7 C578.3,91.3 581.8,80.6 591.6,87.1" transform="translate(0,0)" stroke="#a03a9b" stroke-width="1.05" fill="none" stroke-linecap="round"/><path d="M578.4,97.7 C578.3,91.3 581.8,80.6 591.6,87.1" transform="translate(1.3,0.9)" stroke="#45bdcc" stroke-width="1.05" fill="none" stroke-linecap="round"/><path d="M578.4,97.7 C578.3,91.3 581.8,80.6 591.6,87.1" transform="translate(-1.1,1.3)" stroke="#57ba48" stroke-width="1.05" fill="none" stroke-linecap="round"/><path d="M563.5,113.9 C569.0,119.7 560.9,105.7 549.9,101.5" transform="translate(-1.1,1.3)" stroke="#57ba48" stroke-width="1.05" fill="none" stroke-linecap="round"/><path d="M563.5,113.9 C569.0,119.7 560.9,105.7 549.9,101.5" transform="translate(1.3,0.9)" stroke="#45bdcc" stroke-width="1.05" fill="none" stroke-linecap="round"/><path d="M563.5,113.9 C569.0,119.7 560.9,105.7 549.9,101.5" transform="translate(0,0)" stroke="#a03a9b" stroke-width="1.05" fill="none" stroke-linecap="round"/><path d="M584.4,82.5 C588.2,86.3 593.6,86.0 578.7,94.9" transform="translate(1.3,0.9)" stroke="#45bdcc" stroke-width="1.05" fill="none" stroke-linecap="round"/><path d="M584.4,82.5 C588.2,86.3 593.6,86.0 578.7,94.9" transform="translate(0,0)" stroke="#a03a9b" stroke-width="1.05" fill="none" stroke-linecap="round"/><path d="M584.4,82.5 C588.2,86.3 593.6,86.0 578.7,94.9" transform="translate(-1.1,1.3)" stroke="#57ba48" stroke-width="1.05" fill="none" stroke-linecap="round"/><path d="M575.5,49.3 C582.7,63.6 582.5,60.0 581.9,65.6" transform="translate(1.3,0.9)" stroke="#45bdcc" stroke-width="1.05" fill="none" stroke-linecap="round"/><path d="M575.5,49.3 C582.7,63.6 582.5,60.0 581.9,65.6" transform="translate(-1.1,1.3)" stroke="#57ba48" stroke-width="1.05" fill="none" stroke-linecap="round"/><path d="M575.5,49.3 C582.7,63.6 582.5,60.0 581.9,65.6" transform="translate(0,0)" stroke="#a03a9b" stroke-width="1.05" fill="none" stroke-linecap="round"/><path d="M537.3,93.2 C543.1,98.4 536.8,98.9 535.7,97.9" transform="translate(1.3,0.9)" stroke="#45bdcc" stroke-width="1.05" fill="none" stroke-linecap="round"/><path d="M537.3,93.2 C543.1,98.4 536.8,98.9 535.7,97.9" transform="translate(-1.1,1.3)" stroke="#57ba48" stroke-width="1.05" fill="none" stroke-linecap="round"/><path d="M537.3,93.2 C543.1,98.4 536.8,98.9 535.7,97.9" transform="translate(0,0)" stroke="#a03a9b" stroke-width="1.05" fill="none" stroke-linecap="round"/><path d="M521.3,77.6 C536.2,92.4 532.8,104.9 545.7,92.2" transform="translate(1.3,0.9)" stroke="#45bdcc" stroke-width="1.05" fill="none" stroke-linecap="round"/><path d="M521.3,77.6 C536.2,92.4 532.8,104.9 545.7,92.2" transform="translate(-1.1,1.3)" stroke="#57ba48" stroke-width="1.05" fill="none" stroke-linecap="round"/><path d="M521.3,77.6 C536.2,92.4 532.8,104.9 545.7,92.2" transform="translate(0,0)" stroke="#a03a9b" stroke-width="1.05" fill="none" stroke-linecap="round"/><path d="M577.0,54.6 C572.8,57.7 576.8,51.1 565.2,47.1" transform="translate(0,0)" stroke="#a03a9b" stroke-width="1.05" fill="none" stroke-linecap="round"/><path d="M577.0,54.6 C572.8,57.7 576.8,51.1 565.2,47.1" transform="translate(-1.1,1.3)" stroke="#57ba48" stroke-width="1.05" fill="none" stroke-linecap="round"/><path d="M577.0,54.6 C572.8,57.7 576.8,51.1 565.2,47.1" transform="translate(1.3,0.9)" stroke="#45bdcc" stroke-width="1.05" fill="none" stroke-linecap="round"/><path d="M547.7,45.0 C561.2,50.4 558.4,57.2 555.9,53.5" transform="translate(-1.1,1.3)" stroke="#57ba48" stroke-width="1.05" fill="none" stroke-linecap="round"/><path d="M547.7,45.0 C561.2,50.4 558.4,57.2 555.9,53.5" transform="translate(1.3,0.9)" stroke="#45bdcc" stroke-width="1.05" fill="none" stroke-linecap="round"/><path d="M547.7,45.0 C561.2,50.4 558.4,57.2 555.9,53.5" transform="translate(0,0)" stroke="#a03a9b" stroke-width="1.05" fill="none" stroke-linecap="round"/><path d="M545.9,66.9 C560.9,69.6 556.7,67.4 549.9,53.9" transform="translate(1.3,0.9)" stroke="#45bdcc" stroke-width="1.05" fill="none" stroke-linecap="round"/><path d="M545.9,66.9 C560.9,69.6 556.7,67.4 549.9,53.9" transform="translate(-1.1,1.3)" stroke="#57ba48" stroke-width="1.05" fill="none" stroke-linecap="round"/><path d="M545.9,66.9 C560.9,69.6 556.7,67.4 549.9,53.9" transform="translate(0,0)" stroke="#a03a9b" stroke-width="1.05" fill="none" stroke-linecap="round"/><path d="M537.1,78.0 C527.8,74.2 541.4,85.8 550.8,89.7" transform="translate(1.3,0.9)" stroke="#45bdcc" stroke-width="1.05" fill="none" stroke-linecap="round"/><path d="M537.1,78.0 C527.8,74.2 541.4,85.8 550.8,89.7" transform="translate(0,0)" stroke="#a03a9b" stroke-width="1.05" fill="none" stroke-linecap="round"/><path d="M537.1,78.0 C527.8,74.2 541.4,85.8 550.8,89.7" transform="translate(-1.1,1.3)" stroke="#57ba48" stroke-width="1.05" fill="none" stroke-linecap="round"/><path d="M577.5,90.6 C571.1,77.1 583.9,65.9 583.0,61.2" transform="translate(0,0)" stroke="#a03a9b" stroke-width="1.05" fill="none" stroke-linecap="round"/><path d="M577.5,90.6 C571.1,77.1 583.9,65.9 583.0,61.2" transform="translate(-1.1,1.3)" stroke="#57ba48" stroke-width="1.05" fill="none" stroke-linecap="round"/><path d="M577.5,90.6 C571.1,77.1 583.9,65.9 583.0,61.2" transform="translate(1.3,0.9)" stroke="#45bdcc" stroke-width="1.05" fill="none" stroke-linecap="round"/><path d="M540.0,82.4 L542.4,89.3" stroke="#a03a9b" stroke-width="2.1" fill="none" stroke-linecap="butt" opacity="0.95"/><path d="M556.6,106.3 L555.0,115.8" stroke="#45bdcc" stroke-width="3.4" fill="none" stroke-linecap="butt" opacity="0.95"/><path d="M552.3,43.1 L557.9,46.9" stroke="#45bdcc" stroke-width="2.8" fill="none" stroke-linecap="butt" opacity="0.95"/><path d="M541.5,64.6 L535.2,68.9" stroke="#a03a9b" stroke-width="3.0" fill="none" stroke-linecap="butt" opacity="0.95"/><path d="M549.3,68.9 L548.6,77.9" stroke="#45bdcc" stroke-width="3.1" fill="none" stroke-linecap="butt" opacity="0.95"/><path d="M556.3,84.0 L561.2,94.4" stroke="#57ba48" stroke-width="2.9" fill="none" stroke-linecap="butt" opacity="0.95"/><path d="M548.2,71.9 L535.5,73.8" stroke="#a03a9b" stroke-width="2.2" fill="none" stroke-linecap="butt" opacity="0.95"/><path d="M550.3,101.8 L539.1,109.7" stroke="#57ba48" stroke-width="2.0" fill="none" stroke-linecap="butt" opacity="0.95"/><path d="M547.5,117.1 L536.5,123.8" stroke="#57ba48" stroke-width="2.3" fill="none" stroke-linecap="butt" opacity="0.95"/><path d="M431.7,191.8 C417.9,200.3 409.9,212.9 414.3,207.0" transform="translate(-1.1,1.3)" stroke="#57ba48" stroke-width="1.05" fill="none" stroke-linecap="round"/><path d="M431.7,191.8 C417.9,200.3 409.9,212.9 414.3,207.0" transform="translate(1.3,0.9)" stroke="#45bdcc" stroke-width="1.05" fill="none" stroke-linecap="round"/><path d="M431.7,191.8 C417.9,200.3 409.9,212.9 414.3,207.0" transform="translate(0,0)" stroke="#a03a9b" stroke-width="1.05" fill="none" stroke-linecap="round"/><path d="M438.8,180.1 C446.7,168.0 440.8,181.3 431.5,174.2" transform="translate(1.3,0.9)" stroke="#45bdcc" stroke-width="1.05" fill="none" stroke-linecap="round"/><path d="M438.8,180.1 C446.7,168.0 440.8,181.3 431.5,174.2" transform="translate(0,0)" stroke="#a03a9b" stroke-width="1.05" fill="none" stroke-linecap="round"/><path d="M438.8,180.1 C446.7,168.0 440.8,181.3 431.5,174.2" transform="translate(-1.1,1.3)" stroke="#57ba48" stroke-width="1.05" fill="none" stroke-linecap="round"/><path d="M433.5,159.2 C425.9,173.0 432.1,167.2 417.7,167.2" transform="translate(0,0)" stroke="#a03a9b" stroke-width="1.05" fill="none" stroke-linecap="round"/><path d="M433.5,159.2 C425.9,173.0 432.1,167.2 417.7,167.2" transform="translate(1.3,0.9)" stroke="#45bdcc" stroke-width="1.05" fill="none" stroke-linecap="round"/><path d="M433.5,159.2 C425.9,173.0 432.1,167.2 417.7,167.2" transform="translate(-1.1,1.3)" stroke="#57ba48" stroke-width="1.05" fill="none" stroke-linecap="round"/><path d="M428.4,173.1 C428.2,179.0 434.8,174.9 431.7,160.1" transform="translate(-1.1,1.3)" stroke="#57ba48" stroke-width="1.05" fill="none" stroke-linecap="round"/><path d="M428.4,173.1 C428.2,179.0 434.8,174.9 431.7,160.1" transform="translate(0,0)" stroke="#a03a9b" stroke-width="1.05" fill="none" stroke-linecap="round"/><path d="M428.4,173.1 C428.2,179.0 434.8,174.9 431.7,160.1" transform="translate(1.3,0.9)" stroke="#45bdcc" stroke-width="1.05" fill="none" stroke-linecap="round"/><path d="M462.0,165.4 C475.6,165.3 466.2,157.0 463.7,161.9" transform="translate(1.3,0.9)" stroke="#45bdcc" stroke-width="1.05" fill="none" stroke-linecap="round"/><path d="M462.0,165.4 C475.6,165.3 466.2,157.0 463.7,161.9" transform="translate(0,0)" stroke="#a03a9b" stroke-width="1.05" fill="none" stroke-linecap="round"/><path d="M462.0,165.4 C475.6,165.3 466.2,157.0 463.7,161.9" transform="translate(-1.1,1.3)" stroke="#57ba48" stroke-width="1.05" fill="none" stroke-linecap="round"/><path d="M427.5,208.1 C418.1,206.6 424.4,201.0 412.8,188.4" transform="translate(-1.1,1.3)" stroke="#57ba48" stroke-width="1.05" fill="none" stroke-linecap="round"/><path d="M427.5,208.1 C418.1,206.6 424.4,201.0 412.8,188.4" transform="translate(1.3,0.9)" stroke="#45bdcc" stroke-width="1.05" fill="none" stroke-linecap="round"/><path d="M427.5,208.1 C418.1,206.6 424.4,201.0 412.8,188.4" transform="translate(0,0)" stroke="#a03a9b" stroke-width="1.05" fill="none" stroke-linecap="round"/><path d="M405.1,202.2 C405.8,201.2 400.2,208.0 410.3,222.5" transform="translate(-1.1,1.3)" stroke="#57ba48" stroke-width="1.05" fill="none" stroke-linecap="round"/><path d="M405.1,202.2 C405.8,201.2 400.2,208.0 410.3,222.5" transform="translate(0,0)" stroke="#a03a9b" stroke-width="1.05" fill="none" stroke-linecap="round"/><path d="M405.1,202.2 C405.8,201.2 400.2,208.0 410.3,222.5" transform="translate(1.3,0.9)" stroke="#45bdcc" stroke-width="1.05" fill="none" stroke-linecap="round"/><path d="M418.3,210.9 C417.6,214.9 410.0,218.7 407.2,214.9" transform="translate(-1.1,1.3)" stroke="#57ba48" stroke-width="1.05" fill="none" stroke-linecap="round"/><path d="M418.3,210.9 C417.6,214.9 410.0,218.7 407.2,214.9" transform="translate(0,0)" stroke="#a03a9b" stroke-width="1.05" fill="none" stroke-linecap="round"/><path d="M418.3,210.9 C417.6,214.9 410.0,218.7 407.2,214.9" transform="translate(1.3,0.9)" stroke="#45bdcc" stroke-width="1.05" fill="none" stroke-linecap="round"/><path d="M446.6,172.4 C441.6,186.0 427.9,193.4 433.6,206.1" transform="translate(-1.1,1.3)" stroke="#57ba48" stroke-width="1.05" fill="none" stroke-linecap="round"/><path d="M446.6,172.4 C441.6,186.0 427.9,193.4 433.6,206.1" transform="translate(0,0)" stroke="#a03a9b" stroke-width="1.05" fill="none" stroke-linecap="round"/><path d="M446.6,172.4 C441.6,186.0 427.9,193.4 433.6,206.1" transform="translate(1.3,0.9)" stroke="#45bdcc" stroke-width="1.05" fill="none" stroke-linecap="round"/><path d="M409.6,223.7 C408.4,232.2 411.3,232.6 408.1,222.4" transform="translate(-1.1,1.3)" stroke="#57ba48" stroke-width="1.05" fill="none" stroke-linecap="round"/><path d="M409.6,223.7 C408.4,232.2 411.3,232.6 408.1,222.4" transform="translate(0,0)" stroke="#a03a9b" stroke-width="1.05" fill="none" stroke-linecap="round"/><path d="M409.6,223.7 C408.4,232.2 411.3,232.6 408.1,222.4" transform="translate(1.3,0.9)" stroke="#45bdcc" stroke-width="1.05" fill="none" stroke-linecap="round"/><path d="M451.0,184.6 C452.3,174.4 450.1,162.6 437.3,166.3" transform="translate(1.3,0.9)" stroke="#45bdcc" stroke-width="1.05" fill="none" stroke-linecap="round"/><path d="M451.0,184.6 C452.3,174.4 450.1,162.6 437.3,166.3" transform="translate(-1.1,1.3)" stroke="#57ba48" stroke-width="1.05" fill="none" stroke-linecap="round"/><path d="M451.0,184.6 C452.3,174.4 450.1,162.6 437.3,166.3" transform="translate(0,0)" stroke="#a03a9b" stroke-width="1.05" fill="none" stroke-linecap="round"/><path d="M414.1,228.5 C404.8,215.4 397.3,207.8 398.1,212.3" transform="translate(-1.1,1.3)" stroke="#57ba48" stroke-width="1.05" fill="none" stroke-linecap="round"/><path d="M414.1,228.5 C404.8,215.4 397.3,207.8 398.1,212.3" transform="translate(1.3,0.9)" stroke="#45bdcc" stroke-width="1.05" fill="none" stroke-linecap="round"/><path d="M414.1,228.5 C404.8,215.4 397.3,207.8 398.1,212.3" transform="translate(0,0)" stroke="#a03a9b" stroke-width="1.05" fill="none" stroke-linecap="round"/><path d="M412.0,215.1 C425.4,203.3 428.3,206.9 419.8,202.9" transform="translate(1.3,0.9)" stroke="#45bdcc" stroke-width="1.05" fill="none" stroke-linecap="round"/><path d="M412.0,215.1 C425.4,203.3 428.3,206.9 419.8,202.9" transform="translate(-1.1,1.3)" stroke="#57ba48" stroke-width="1.05" fill="none" stroke-linecap="round"/><path d="M412.0,215.1 C425.4,203.3 428.3,206.9 419.8,202.9" transform="translate(0,0)" stroke="#a03a9b" stroke-width="1.05" fill="none" stroke-linecap="round"/><path d="M445.9,202.1 C437.0,187.5 431.9,192.8 422.4,187.2" transform="translate(1.3,0.9)" stroke="#45bdcc" stroke-width="1.05" fill="none" stroke-linecap="round"/><path d="M445.9,202.1 C437.0,187.5 431.9,192.8 422.4,187.2" transform="translate(-1.1,1.3)" stroke="#57ba48" stroke-width="1.05" fill="none" stroke-linecap="round"/><path d="M445.9,202.1 C437.0,187.5 431.9,192.8 422.4,187.2" transform="translate(0,0)" stroke="#a03a9b" stroke-width="1.05" fill="none" stroke-linecap="round"/><path d="M465.5,191.4 C452.4,179.5 449.3,181.0 453.5,168.7" transform="translate(-1.1,1.3)" stroke="#57ba48" stroke-width="1.05" fill="none" stroke-linecap="round"/><path d="M465.5,191.4 C452.4,179.5 449.3,181.0 453.5,168.7" transform="translate(1.3,0.9)" stroke="#45bdcc" stroke-width="1.05" fill="none" stroke-linecap="round"/><path d="M465.5,191.4 C452.4,179.5 449.3,181.0 453.5,168.7" transform="translate(0,0)" stroke="#a03a9b" stroke-width="1.05" fill="none" stroke-linecap="round"/><path d="M455.5,177.2 C449.0,171.4 462.6,165.8 464.6,161.5" transform="translate(-1.1,1.3)" stroke="#57ba48" stroke-width="1.05" fill="none" stroke-linecap="round"/><path d="M455.5,177.2 C449.0,171.4 462.6,165.8 464.6,161.5" transform="translate(0,0)" stroke="#a03a9b" stroke-width="1.05" fill="none" stroke-linecap="round"/><path d="M455.5,177.2 C449.0,171.4 462.6,165.8 464.6,161.5" transform="translate(1.3,0.9)" stroke="#45bdcc" stroke-width="1.05" fill="none" stroke-linecap="round"/><path d="M458.8,156.0 C444.0,168.0 441.7,177.6 438.9,189.1" transform="translate(-1.1,1.3)" stroke="#57ba48" stroke-width="1.05" fill="none" stroke-linecap="round"/><path d="M458.8,156.0 C444.0,168.0 441.7,177.6 438.9,189.1" transform="translate(0,0)" stroke="#a03a9b" stroke-width="1.05" fill="none" stroke-linecap="round"/><path d="M458.8,156.0 C444.0,168.0 441.7,177.6 438.9,189.1" transform="translate(1.3,0.9)" stroke="#45bdcc" stroke-width="1.05" fill="none" stroke-linecap="round"/><path d="M400.2,218.1 C397.2,220.3 410.0,227.4 400.1,222.8" transform="translate(1.3,0.9)" stroke="#45bdcc" stroke-width="1.05" fill="none" stroke-linecap="round"/><path d="M400.2,218.1 C397.2,220.3 410.0,227.4 400.1,222.8" transform="translate(-1.1,1.3)" stroke="#57ba48" stroke-width="1.05" fill="none" stroke-linecap="round"/><path d="M400.2,218.1 C397.2,220.3 410.0,227.4 400.1,222.8" transform="translate(0,0)" stroke="#a03a9b" stroke-width="1.05" fill="none" stroke-linecap="round"/><path d="M402.0,215.9 C393.7,213.1 404.1,223.0 394.6,214.5" transform="translate(-1.1,1.3)" stroke="#57ba48" stroke-width="1.05" fill="none" stroke-linecap="round"/><path d="M402.0,215.9 C393.7,213.1 404.1,223.0 394.6,214.5" transform="translate(0,0)" stroke="#a03a9b" stroke-width="1.05" fill="none" stroke-linecap="round"/><path d="M402.0,215.9 C393.7,213.1 404.1,223.0 394.6,214.5" transform="translate(1.3,0.9)" stroke="#45bdcc" stroke-width="1.05" fill="none" stroke-linecap="round"/><path d="M410.7,209.7 C422.6,195.9 424.5,203.6 410.6,213.8" transform="translate(-1.1,1.3)" stroke="#57ba48" stroke-width="1.05" fill="none" stroke-linecap="round"/><path d="M410.7,209.7 C422.6,195.9 424.5,203.6 410.6,213.8" transform="translate(1.3,0.9)" stroke="#45bdcc" stroke-width="1.05" fill="none" stroke-linecap="round"/><path d="M410.7,209.7 C422.6,195.9 424.5,203.6 410.6,213.8" transform="translate(0,0)" stroke="#a03a9b" stroke-width="1.05" fill="none" stroke-linecap="round"/><path d="M446.0,191.7 C449.8,185.8 447.4,188.3 445.1,193.1" transform="translate(0,0)" stroke="#a03a9b" stroke-width="1.05" fill="none" stroke-linecap="round"/><path d="M446.0,191.7 C449.8,185.8 447.4,188.3 445.1,193.1" transform="translate(-1.1,1.3)" stroke="#57ba48" stroke-width="1.05" fill="none" stroke-linecap="round"/><path d="M446.0,191.7 C449.8,185.8 447.4,188.3 445.1,193.1" transform="translate(1.3,0.9)" stroke="#45bdcc" stroke-width="1.05" fill="none" stroke-linecap="round"/><path d="M430.7,198.7 C440.3,208.8 449.6,205.8 436.6,201.6" transform="translate(-1.1,1.3)" stroke="#57ba48" stroke-width="1.05" fill="none" stroke-linecap="round"/><path d="M430.7,198.7 C440.3,208.8 449.6,205.8 436.6,201.6" transform="translate(0,0)" stroke="#a03a9b" stroke-width="1.05" fill="none" stroke-linecap="round"/><path d="M430.7,198.7 C440.3,208.8 449.6,205.8 436.6,201.6" transform="translate(1.3,0.9)" stroke="#45bdcc" stroke-width="1.05" fill="none" stroke-linecap="round"/><path d="M466.2,186.9 C470.9,173.2 459.8,185.8 454.3,192.4" transform="translate(1.3,0.9)" stroke="#45bdcc" stroke-width="1.05" fill="none" stroke-linecap="round"/><path d="M466.2,186.9 C470.9,173.2 459.8,185.8 454.3,192.4" transform="translate(-1.1,1.3)" stroke="#57ba48" stroke-width="1.05" fill="none" stroke-linecap="round"/><path d="M466.2,186.9 C470.9,173.2 459.8,185.8 454.3,192.4" transform="translate(0,0)" stroke="#a03a9b" stroke-width="1.05" fill="none" stroke-linecap="round"/><path d="M451.3,215.8 C437.1,202.8 440.5,208.5 428.8,197.5" transform="translate(0,0)" stroke="#a03a9b" stroke-width="1.05" fill="none" stroke-linecap="round"/><path d="M451.3,215.8 C437.1,202.8 440.5,208.5 428.8,197.5" transform="translate(-1.1,1.3)" stroke="#57ba48" stroke-width="1.05" fill="none" stroke-linecap="round"/><path d="M451.3,215.8 C437.1,202.8 440.5,208.5 428.8,197.5" transform="translate(1.3,0.9)" stroke="#45bdcc" stroke-width="1.05" fill="none" stroke-linecap="round"/><path d="M402.5,216.2 C415.4,203.2 411.0,210.9 400.7,222.8" transform="translate(0,0)" stroke="#a03a9b" stroke-width="1.05" fill="none" stroke-linecap="round"/><path d="M402.5,216.2 C415.4,203.2 411.0,210.9 400.7,222.8" transform="translate(-1.1,1.3)" stroke="#57ba48" stroke-width="1.05" fill="none" stroke-linecap="round"/><path d="M402.5,216.2 C415.4,203.2 411.0,210.9 400.7,222.8" transform="translate(1.3,0.9)" stroke="#45bdcc" stroke-width="1.05" fill="none" stroke-linecap="round"/><path d="M439.1,200.5 C434.9,211.7 436.5,214.1 448.0,202.3" transform="translate(0,0)" stroke="#a03a9b" stroke-width="1.05" fill="none" stroke-linecap="round"/><path d="M439.1,200.5 C434.9,211.7 436.5,214.1 448.0,202.3" transform="translate(1.3,0.9)" stroke="#45bdcc" stroke-width="1.05" fill="none" stroke-linecap="round"/><path d="M439.1,200.5 C434.9,211.7 436.5,214.1 448.0,202.3" transform="translate(-1.1,1.3)" stroke="#57ba48" stroke-width="1.05" fill="none" stroke-linecap="round"/><path d="M459.8,173.3 C456.1,169.3 445.5,164.3 432.9,156.2" transform="translate(1.3,0.9)" stroke="#45bdcc" stroke-width="1.05" fill="none" stroke-linecap="round"/><path d="M459.8,173.3 C456.1,169.3 445.5,164.3 432.9,156.2" transform="translate(0,0)" stroke="#a03a9b" stroke-width="1.05" fill="none" stroke-linecap="round"/><path d="M459.8,173.3 C456.1,169.3 445.5,164.3 432.9,156.2" transform="translate(-1.1,1.3)" stroke="#57ba48" stroke-width="1.05" fill="none" stroke-linecap="round"/><path d="M415.6,188.2 C409.9,202.1 421.0,215.0 432.9,222.0" transform="translate(1.3,0.9)" stroke="#45bdcc" stroke-width="1.05" fill="none" stroke-linecap="round"/><path d="M415.6,188.2 C409.9,202.1 421.0,215.0 432.9,222.0" transform="translate(0,0)" stroke="#a03a9b" stroke-width="1.05" fill="none" stroke-linecap="round"/><path d="M415.6,188.2 C409.9,202.1 421.0,215.0 432.9,222.0" transform="translate(-1.1,1.3)" stroke="#57ba48" stroke-width="1.05" fill="none" stroke-linecap="round"/><path d="M438.3,190.0 L440.6,198.1" stroke="#a03a9b" stroke-width="2.3" fill="none" stroke-linecap="butt" opacity="0.95"/><path d="M448.4,183.9 L460.7,189.5" stroke="#a03a9b" stroke-width="3.0" fill="none" stroke-linecap="butt" opacity="0.95"/><path d="M413.0,218.6 L406.6,219.3" stroke="#57ba48" stroke-width="3.2" fill="none" stroke-linecap="butt" opacity="0.95"/><path d="M445.5,194.6 L442.3,204.2" stroke="#57ba48" stroke-width="2.3" fill="none" stroke-linecap="butt" opacity="0.95"/><path d="M476.4,139.5 L475.4,148.7" stroke="#a03a9b" stroke-width="2.2" fill="none" stroke-linecap="butt" opacity="0.95"/><path d="M477.2,145.8 L473.3,156.4" stroke="#a03a9b" stroke-width="2.2" fill="none" stroke-linecap="butt" opacity="0.95"/><path d="M406.0,197.6 L405.7,208.8" stroke="#57ba48" stroke-width="2.2" fill="none" stroke-linecap="butt" opacity="0.95"/><path d="M416.9,165.9 L429.9,167.9" stroke="#57ba48" stroke-width="3.0" fill="none" stroke-linecap="butt" opacity="0.95"/><path d="M460.2,181.6 L465.4,186.1" stroke="#a03a9b" stroke-width="2.9" fill="none" stroke-linecap="butt" opacity="0.95"/><path d="M403.0,228.2 L396.3,231.8" stroke="#a03a9b" stroke-width="3.0" fill="none" stroke-linecap="butt" opacity="0.95"/><path d="M418.7,225.7 L422.7,232.4" stroke="#57ba48" stroke-width="2.7" fill="none" stroke-linecap="butt" opacity="0.95"/><path d="M470.0,206.9 L461.4,211.0" stroke="#a03a9b" stroke-width="2.8" fill="none" stroke-linecap="butt" opacity="0.95"/><path d="M459.7,141.8 L457.2,150.3" stroke="#57ba48" stroke-width="3.2" fill="none" stroke-linecap="butt" opacity="0.95"/><path d="M449.2,164.6 L455.6,166.7" stroke="#a03a9b" stroke-width="2.4" fill="none" stroke-linecap="butt" opacity="0.95"/><path d="M561.6,154.7 C557.2,167.6 543.6,175.4 555.9,183.5" transform="translate(0,0)" stroke="#a03a9b" stroke-width="1.05" fill="none" stroke-linecap="round"/><path d="M561.6,154.7 C557.2,167.6 543.6,175.4 555.9,183.5" transform="translate(1.3,0.9)" stroke="#45bdcc" stroke-width="1.05" fill="none" stroke-linecap="round"/><path d="M561.6,154.7 C557.2,167.6 543.6,175.4 555.9,183.5" transform="translate(-1.1,1.3)" stroke="#57ba48" stroke-width="1.05" fill="none" stroke-linecap="round"/><path d="M610.0,194.0 C596.0,191.4 594.1,199.6 589.5,205.7" transform="translate(1.3,0.9)" stroke="#45bdcc" stroke-width="1.05" fill="none" stroke-linecap="round"/><path d="M610.0,194.0 C596.0,191.4 594.1,199.6 589.5,205.7" transform="translate(0,0)" stroke="#a03a9b" stroke-width="1.05" fill="none" stroke-linecap="round"/><path d="M610.0,194.0 C596.0,191.4 594.1,199.6 589.5,205.7" transform="translate(-1.1,1.3)" stroke="#57ba48" stroke-width="1.05" fill="none" stroke-linecap="round"/><path d="M597.2,217.1 C599.4,210.7 597.5,211.4 591.1,218.9" transform="translate(1.3,0.9)" stroke="#45bdcc" stroke-width="1.05" fill="none" stroke-linecap="round"/><path d="M597.2,217.1 C599.4,210.7 597.5,211.4 591.1,218.9" transform="translate(-1.1,1.3)" stroke="#57ba48" stroke-width="1.05" fill="none" stroke-linecap="round"/><path d="M597.2,217.1 C599.4,210.7 597.5,211.4 591.1,218.9" transform="translate(0,0)" stroke="#a03a9b" stroke-width="1.05" fill="none" stroke-linecap="round"/><path d="M562.7,136.5 C568.5,146.3 582.6,149.1 596.3,149.5" transform="translate(1.3,0.9)" stroke="#45bdcc" stroke-width="1.05" fill="none" stroke-linecap="round"/><path d="M562.7,136.5 C568.5,146.3 582.6,149.1 596.3,149.5" transform="translate(0,0)" stroke="#a03a9b" stroke-width="1.05" fill="none" stroke-linecap="round"/><path d="M562.7,136.5 C568.5,146.3 582.6,149.1 596.3,149.5" transform="translate(-1.1,1.3)" stroke="#57ba48" stroke-width="1.05" fill="none" stroke-linecap="round"/><path d="M556.7,149.6 C562.7,149.6 551.0,153.7 538.4,162.3" transform="translate(1.3,0.9)" stroke="#45bdcc" stroke-width="1.05" fill="none" stroke-linecap="round"/><path d="M556.7,149.6 C562.7,149.6 551.0,153.7 538.4,162.3" transform="translate(0,0)" stroke="#a03a9b" stroke-width="1.05" fill="none" stroke-linecap="round"/><path d="M556.7,149.6 C562.7,149.6 551.0,153.7 538.4,162.3" transform="translate(-1.1,1.3)" stroke="#57ba48" stroke-width="1.05" fill="none" stroke-linecap="round"/><path d="M549.4,155.0 C561.4,155.0 557.8,166.5 549.8,165.3" transform="translate(1.3,0.9)" stroke="#45bdcc" stroke-width="1.05" fill="none" stroke-linecap="round"/><path d="M549.4,155.0 C561.4,155.0 557.8,166.5 549.8,165.3" transform="translate(0,0)" stroke="#a03a9b" stroke-width="1.05" fill="none" stroke-linecap="round"/><path d="M549.4,155.0 C561.4,155.0 557.8,166.5 549.8,165.3" transform="translate(-1.1,1.3)" stroke="#57ba48" stroke-width="1.05" fill="none" stroke-linecap="round"/><path d="M562.8,161.9 C552.4,172.2 557.3,179.5 547.4,177.6" transform="translate(-1.1,1.3)" stroke="#57ba48" stroke-width="1.05" fill="none" stroke-linecap="round"/><path d="M562.8,161.9 C552.4,172.2 557.3,179.5 547.4,177.6" transform="translate(0,0)" stroke="#a03a9b" stroke-width="1.05" fill="none" stroke-linecap="round"/><path d="M562.8,161.9 C552.4,172.2 557.3,179.5 547.4,177.6" transform="translate(1.3,0.9)" stroke="#45bdcc" stroke-width="1.05" fill="none" stroke-linecap="round"/><path d="M541.8,176.8 C553.4,169.0 544.2,163.0 550.2,173.3" transform="translate(1.3,0.9)" stroke="#45bdcc" stroke-width="1.05" fill="none" stroke-linecap="round"/><path d="M541.8,176.8 C553.4,169.0 544.2,163.0 550.2,173.3" transform="translate(-1.1,1.3)" stroke="#57ba48" stroke-width="1.05" fill="none" stroke-linecap="round"/><path d="M541.8,176.8 C553.4,169.0 544.2,163.0 550.2,173.3" transform="translate(0,0)" stroke="#a03a9b" stroke-width="1.05" fill="none" stroke-linecap="round"/><path d="M592.8,197.8 C604.1,202.0 606.6,193.9 597.1,182.6" transform="translate(0,0)" stroke="#a03a9b" stroke-width="1.05" fill="none" stroke-linecap="round"/><path d="M592.8,197.8 C604.1,202.0 606.6,193.9 597.1,182.6" transform="translate(-1.1,1.3)" stroke="#57ba48" stroke-width="1.05" fill="none" stroke-linecap="round"/><path d="M592.8,197.8 C604.1,202.0 606.6,193.9 597.1,182.6" transform="translate(1.3,0.9)" stroke="#45bdcc" stroke-width="1.05" fill="none" stroke-linecap="round"/><path d="M554.4,203.1 C566.3,195.3 563.3,201.7 553.0,212.2" transform="translate(0,0)" stroke="#a03a9b" stroke-width="1.05" fill="none" stroke-linecap="round"/><path d="M554.4,203.1 C566.3,195.3 563.3,201.7 553.0,212.2" transform="translate(-1.1,1.3)" stroke="#57ba48" stroke-width="1.05" fill="none" stroke-linecap="round"/><path d="M554.4,203.1 C566.3,195.3 563.3,201.7 553.0,212.2" transform="translate(1.3,0.9)" stroke="#45bdcc" stroke-width="1.05" fill="none" stroke-linecap="round"/><path d="M578.7,198.7 C589.9,210.6 584.7,195.9 594.7,208.1" transform="translate(1.3,0.9)" stroke="#45bdcc" stroke-width="1.05" fill="none" stroke-linecap="round"/><path d="M578.7,198.7 C589.9,210.6 584.7,195.9 594.7,208.1" transform="translate(-1.1,1.3)" stroke="#57ba48" stroke-width="1.05" fill="none" stroke-linecap="round"/><path d="M578.7,198.7 C589.9,210.6 584.7,195.9 594.7,208.1" transform="translate(0,0)" stroke="#a03a9b" stroke-width="1.05" fill="none" stroke-linecap="round"/><path d="M553.6,150.0 C560.1,163.5 551.1,159.0 561.5,157.7" transform="translate(-1.1,1.3)" stroke="#57ba48" stroke-width="1.05" fill="none" stroke-linecap="round"/><path d="M553.6,150.0 C560.1,163.5 551.1,159.0 561.5,157.7" transform="translate(1.3,0.9)" stroke="#45bdcc" stroke-width="1.05" fill="none" stroke-linecap="round"/><path d="M553.6,150.0 C560.1,163.5 551.1,159.0 561.5,157.7" transform="translate(0,0)" stroke="#a03a9b" stroke-width="1.05" fill="none" stroke-linecap="round"/><path d="M578.1,196.3 C588.0,197.0 585.3,210.4 576.6,215.9" transform="translate(-1.1,1.3)" stroke="#57ba48" stroke-width="1.05" fill="none" stroke-linecap="round"/><path d="M578.1,196.3 C588.0,197.0 585.3,210.4 576.6,215.9" transform="translate(0,0)" stroke="#a03a9b" stroke-width="1.05" fill="none" stroke-linecap="round"/><path d="M578.1,196.3 C588.0,197.0 585.3,210.4 576.6,215.9" transform="translate(1.3,0.9)" stroke="#45bdcc" stroke-width="1.05" fill="none" stroke-linecap="round"/><path d="M598.5,193.5 C602.7,186.1 599.1,173.0 586.4,185.4" transform="translate(0,0)" stroke="#a03a9b" stroke-width="1.05" fill="none" stroke-linecap="round"/><path d="M598.5,193.5 C602.7,186.1 599.1,173.0 586.4,185.4" transform="translate(1.3,0.9)" stroke="#45bdcc" stroke-width="1.05" fill="none" stroke-linecap="round"/><path d="M598.5,193.5 C602.7,186.1 599.1,173.0 586.4,185.4" transform="translate(-1.1,1.3)" stroke="#57ba48" stroke-width="1.05" fill="none" stroke-linecap="round"/><path d="M558.5,170.1 C572.1,184.2 587.0,198.0 585.8,188.0" transform="translate(1.3,0.9)" stroke="#45bdcc" stroke-width="1.05" fill="none" stroke-linecap="round"/><path d="M558.5,170.1 C572.1,184.2 587.0,198.0 585.8,188.0" transform="translate(-1.1,1.3)" stroke="#57ba48" stroke-width="1.05" fill="none" stroke-linecap="round"/><path d="M558.5,170.1 C572.1,184.2 587.0,198.0 585.8,188.0" transform="translate(0,0)" stroke="#a03a9b" stroke-width="1.05" fill="none" stroke-linecap="round"/><path d="M574.1,187.8 C565.9,201.7 561.5,205.9 571.0,215.4" transform="translate(0,0)" stroke="#a03a9b" stroke-width="1.05" fill="none" stroke-linecap="round"/><path d="M574.1,187.8 C565.9,201.7 561.5,205.9 571.0,215.4" transform="translate(-1.1,1.3)" stroke="#57ba48" stroke-width="1.05" fill="none" stroke-linecap="round"/><path d="M574.1,187.8 C565.9,201.7 561.5,205.9 571.0,215.4" transform="translate(1.3,0.9)" stroke="#45bdcc" stroke-width="1.05" fill="none" stroke-linecap="round"/><path d="M605.1,165.4 C609.7,160.0 609.3,163.7 596.8,175.6" transform="translate(-1.1,1.3)" stroke="#57ba48" stroke-width="1.05" fill="none" stroke-linecap="round"/><path d="M605.1,165.4 C609.7,160.0 609.3,163.7 596.8,175.6" transform="translate(1.3,0.9)" stroke="#45bdcc" stroke-width="1.05" fill="none" stroke-linecap="round"/><path d="M605.1,165.4 C609.7,160.0 609.3,163.7 596.8,175.6" transform="translate(0,0)" stroke="#a03a9b" stroke-width="1.05" fill="none" stroke-linecap="round"/><path d="M619.5,198.2 C612.0,186.2 601.2,178.2 609.5,173.6" transform="translate(1.3,0.9)" stroke="#45bdcc" stroke-width="1.05" fill="none" stroke-linecap="round"/><path d="M619.5,198.2 C612.0,186.2 601.2,178.2 609.5,173.6" transform="translate(-1.1,1.3)" stroke="#57ba48" stroke-width="1.05" fill="none" stroke-linecap="round"/><path d="M619.5,198.2 C612.0,186.2 601.2,178.2 609.5,173.6" transform="translate(0,0)" stroke="#a03a9b" stroke-width="1.05" fill="none" stroke-linecap="round"/><path d="M573.9,141.9 C573.6,141.8 574.8,152.7 560.0,162.9" transform="translate(0,0)" stroke="#a03a9b" stroke-width="1.05" fill="none" stroke-linecap="round"/><path d="M573.9,141.9 C573.6,141.8 574.8,152.7 560.0,162.9" transform="translate(-1.1,1.3)" stroke="#57ba48" stroke-width="1.05" fill="none" stroke-linecap="round"/><path d="M573.9,141.9 C573.6,141.8 574.8,152.7 560.0,162.9" transform="translate(1.3,0.9)" stroke="#45bdcc" stroke-width="1.05" fill="none" stroke-linecap="round"/><path d="M592.5,218.5 C588.8,216.0 602.6,203.3 606.7,207.4" transform="translate(1.3,0.9)" stroke="#45bdcc" stroke-width="1.05" fill="none" stroke-linecap="round"/><path d="M592.5,218.5 C588.8,216.0 602.6,203.3 606.7,207.4" transform="translate(-1.1,1.3)" stroke="#57ba48" stroke-width="1.05" fill="none" stroke-linecap="round"/><path d="M592.5,218.5 C588.8,216.0 602.6,203.3 606.7,207.4" transform="translate(0,0)" stroke="#a03a9b" stroke-width="1.05" fill="none" stroke-linecap="round"/><path d="M587.3,201.1 C600.3,196.0 614.7,196.3 614.2,208.2" transform="translate(1.3,0.9)" stroke="#45bdcc" stroke-width="1.05" fill="none" stroke-linecap="round"/><path d="M587.3,201.1 C600.3,196.0 614.7,196.3 614.2,208.2" transform="translate(-1.1,1.3)" stroke="#57ba48" stroke-width="1.05" fill="none" stroke-linecap="round"/><path d="M587.3,201.1 C600.3,196.0 614.7,196.3 614.2,208.2" transform="translate(0,0)" stroke="#a03a9b" stroke-width="1.05" fill="none" stroke-linecap="round"/><path d="M597.5,194.8 C592.7,205.6 588.7,204.9 589.4,213.0" transform="translate(-1.1,1.3)" stroke="#57ba48" stroke-width="1.05" fill="none" stroke-linecap="round"/><path d="M597.5,194.8 C592.7,205.6 588.7,204.9 589.4,213.0" transform="translate(1.3,0.9)" stroke="#45bdcc" stroke-width="1.05" fill="none" stroke-linecap="round"/><path d="M597.5,194.8 C592.7,205.6 588.7,204.9 589.4,213.0" transform="translate(0,0)" stroke="#a03a9b" stroke-width="1.05" fill="none" stroke-linecap="round"/><path d="M570.9,172.5 C572.5,182.3 566.3,192.1 563.4,192.2" transform="translate(0,0)" stroke="#a03a9b" stroke-width="1.05" fill="none" stroke-linecap="round"/><path d="M570.9,172.5 C572.5,182.3 566.3,192.1 563.4,192.2" transform="translate(-1.1,1.3)" stroke="#57ba48" stroke-width="1.05" fill="none" stroke-linecap="round"/><path d="M570.9,172.5 C572.5,182.3 566.3,192.1 563.4,192.2" transform="translate(1.3,0.9)" stroke="#45bdcc" stroke-width="1.05" fill="none" stroke-linecap="round"/><path d="M559.8,158.9 C562.4,163.0 570.9,149.2 577.6,160.7" transform="translate(1.3,0.9)" stroke="#45bdcc" stroke-width="1.05" fill="none" stroke-linecap="round"/><path d="M559.8,158.9 C562.4,163.0 570.9,149.2 577.6,160.7" transform="translate(0,0)" stroke="#a03a9b" stroke-width="1.05" fill="none" stroke-linecap="round"/><path d="M559.8,158.9 C562.4,163.0 570.9,149.2 577.6,160.7" transform="translate(-1.1,1.3)" stroke="#57ba48" stroke-width="1.05" fill="none" stroke-linecap="round"/><path d="M567.5,137.9 C553.8,147.6 553.1,155.6 539.9,155.6" transform="translate(0,0)" stroke="#a03a9b" stroke-width="1.05" fill="none" stroke-linecap="round"/><path d="M567.5,137.9 C553.8,147.6 553.1,155.6 539.9,155.6" transform="translate(1.3,0.9)" stroke="#45bdcc" stroke-width="1.05" fill="none" stroke-linecap="round"/><path d="M567.5,137.9 C553.8,147.6 553.1,155.6 539.9,155.6" transform="translate(-1.1,1.3)" stroke="#57ba48" stroke-width="1.05" fill="none" stroke-linecap="round"/><path d="M588.0,194.9 C593.9,197.8 599.3,189.2 604.3,188.0" transform="translate(1.3,0.9)" stroke="#45bdcc" stroke-width="1.05" fill="none" stroke-linecap="round"/><path d="M588.0,194.9 C593.9,197.8 599.3,189.2 604.3,188.0" transform="translate(-1.1,1.3)" stroke="#57ba48" stroke-width="1.05" fill="none" stroke-linecap="round"/><path d="M588.0,194.9 C593.9,197.8 599.3,189.2 604.3,188.0" transform="translate(0,0)" stroke="#a03a9b" stroke-width="1.05" fill="none" stroke-linecap="round"/><path d="M592.4,221.6 C590.0,209.6 602.9,195.0 614.1,184.2" transform="translate(0,0)" stroke="#a03a9b" stroke-width="1.05" fill="none" stroke-linecap="round"/><path d="M592.4,221.6 C590.0,209.6 602.9,195.0 614.1,184.2" transform="translate(-1.1,1.3)" stroke="#57ba48" stroke-width="1.05" fill="none" stroke-linecap="round"/><path d="M592.4,221.6 C590.0,209.6 602.9,195.0 614.1,184.2" transform="translate(1.3,0.9)" stroke="#45bdcc" stroke-width="1.05" fill="none" stroke-linecap="round"/><path d="M583.2,189.6 C595.7,189.5 596.3,199.3 604.5,196.9" transform="translate(0,0)" stroke="#a03a9b" stroke-width="1.05" fill="none" stroke-linecap="round"/><path d="M583.2,189.6 C595.7,189.5 596.3,199.3 604.5,196.9" transform="translate(1.3,0.9)" stroke="#45bdcc" stroke-width="1.05" fill="none" stroke-linecap="round"/><path d="M583.2,189.6 C595.7,189.5 596.3,199.3 604.5,196.9" transform="translate(-1.1,1.3)" stroke="#57ba48" stroke-width="1.05" fill="none" stroke-linecap="round"/><path d="M566.4,191.1 C579.5,205.5 578.8,202.9 566.8,207.2" transform="translate(1.3,0.9)" stroke="#45bdcc" stroke-width="1.05" fill="none" stroke-linecap="round"/><path d="M566.4,191.1 C579.5,205.5 578.8,202.9 566.8,207.2" transform="translate(-1.1,1.3)" stroke="#57ba48" stroke-width="1.05" fill="none" stroke-linecap="round"/><path d="M566.4,191.1 C579.5,205.5 578.8,202.9 566.8,207.2" transform="translate(0,0)" stroke="#a03a9b" stroke-width="1.05" fill="none" stroke-linecap="round"/><path d="M588.9,173.0 C574.2,178.1 588.8,188.8 580.4,177.4" transform="translate(-1.1,1.3)" stroke="#57ba48" stroke-width="1.05" fill="none" stroke-linecap="round"/><path d="M588.9,173.0 C574.2,178.1 588.8,188.8 580.4,177.4" transform="translate(0,0)" stroke="#a03a9b" stroke-width="1.05" fill="none" stroke-linecap="round"/><path d="M588.9,173.0 C574.2,178.1 588.8,188.8 580.4,177.4" transform="translate(1.3,0.9)" stroke="#45bdcc" stroke-width="1.05" fill="none" stroke-linecap="round"/><path d="M555.9,188.6 C554.4,195.9 567.1,191.9 574.5,197.7" transform="translate(1.3,0.9)" stroke="#45bdcc" stroke-width="1.05" fill="none" stroke-linecap="round"/><path d="M555.9,188.6 C554.4,195.9 567.1,191.9 574.5,197.7" transform="translate(-1.1,1.3)" stroke="#57ba48" stroke-width="1.05" fill="none" stroke-linecap="round"/><path d="M555.9,188.6 C554.4,195.9 567.1,191.9 574.5,197.7" transform="translate(0,0)" stroke="#a03a9b" stroke-width="1.05" fill="none" stroke-linecap="round"/><path d="M557.6,187.3 C557.5,192.4 569.2,204.8 555.8,190.8" transform="translate(1.3,0.9)" stroke="#45bdcc" stroke-width="1.05" fill="none" stroke-linecap="round"/><path d="M557.6,187.3 C557.5,192.4 569.2,204.8 555.8,190.8" transform="translate(-1.1,1.3)" stroke="#57ba48" stroke-width="1.05" fill="none" stroke-linecap="round"/><path d="M557.6,187.3 C557.5,192.4 569.2,204.8 555.8,190.8" transform="translate(0,0)" stroke="#a03a9b" stroke-width="1.05" fill="none" stroke-linecap="round"/><path d="M605.4,178.5 C613.7,177.0 606.9,184.7 601.9,178.1" transform="translate(0,0)" stroke="#a03a9b" stroke-width="1.05" fill="none" stroke-linecap="round"/><path d="M605.4,178.5 C613.7,177.0 606.9,184.7 601.9,178.1" transform="translate(1.3,0.9)" stroke="#45bdcc" stroke-width="1.05" fill="none" stroke-linecap="round"/><path d="M605.4,178.5 C613.7,177.0 606.9,184.7 601.9,178.1" transform="translate(-1.1,1.3)" stroke="#57ba48" stroke-width="1.05" fill="none" stroke-linecap="round"/><path d="M611.7,205.8 C597.2,195.4 607.2,197.9 621.5,190.3" transform="translate(0,0)" stroke="#a03a9b" stroke-width="1.05" fill="none" stroke-linecap="round"/><path d="M611.7,205.8 C597.2,195.4 607.2,197.9 621.5,190.3" transform="translate(-1.1,1.3)" stroke="#57ba48" stroke-width="1.05" fill="none" stroke-linecap="round"/><path d="M611.7,205.8 C597.2,195.4 607.2,197.9 621.5,190.3" transform="translate(1.3,0.9)" stroke="#45bdcc" stroke-width="1.05" fill="none" stroke-linecap="round"/><path d="M586.6,224.6 L579.8,229.3" stroke="#a03a9b" stroke-width="2.5" fill="none" stroke-linecap="butt" opacity="0.95"/><path d="M555.2,143.3 L543.5,146.3" stroke="#a03a9b" stroke-width="2.4" fill="none" stroke-linecap="butt" opacity="0.95"/><path d="M577.0,184.8 L575.8,194.6" stroke="#57ba48" stroke-width="2.3" fill="none" stroke-linecap="butt" opacity="0.95"/><path d="M593.7,177.2 L600.1,182.0" stroke="#a03a9b" stroke-width="3.1" fill="none" stroke-linecap="butt" opacity="0.95"/><path d="M573.2,135.6 L563.2,142.6" stroke="#a03a9b" stroke-width="2.6" fill="none" stroke-linecap="butt" opacity="0.95"/><path d="M579.0,154.5 L571.6,158.8" stroke="#57ba48" stroke-width="2.8" fill="none" stroke-linecap="butt" opacity="0.95"/><path d="M547.8,147.2 L557.6,153.4" stroke="#45bdcc" stroke-width="2.8" fill="none" stroke-linecap="butt" opacity="0.95"/><path d="M563.7,211.8 L556.6,215.2" stroke="#57ba48" stroke-width="2.5" fill="none" stroke-linecap="butt" opacity="0.95"/><path d="M540.0,195.6 L534.3,200.1" stroke="#57ba48" stroke-width="2.0" fill="none" stroke-linecap="butt" opacity="0.95"/><path d="M556.4,192.8 L563.7,195.0" stroke="#57ba48" stroke-width="2.7" fill="none" stroke-linecap="butt" opacity="0.95"/><path d="M583.3,154.8 L576.1,160.8" stroke="#57ba48" stroke-width="3.1" fill="none" stroke-linecap="butt" opacity="0.95"/><path d="M548.9,145.9 L555.1,147.5" stroke="#57ba48" stroke-width="2.5" fill="none" stroke-linecap="butt" opacity="0.95"/><path d="M596.3,179.6 L584.7,185.7" stroke="#57ba48" stroke-width="2.9" fill="none" stroke-linecap="butt" opacity="0.95"/><path d="M551.9,135.9 L542.2,138.3" stroke="#a03a9b" stroke-width="2.6" fill="none" stroke-linecap="butt" opacity="0.95"/><path d="M533.6,154.1 L539.6,166.0" stroke="#a03a9b" stroke-width="3.2" fill="none" stroke-linecap="butt" opacity="0.95"/><path d="M541.7,178.9 L548.5,182.9" stroke="#a03a9b" stroke-width="3.3" fill="none" stroke-linecap="butt" opacity="0.95"/><path d="M613.9,177.5 L601.9,180.8" stroke="#a03a9b" stroke-width="3.3" fill="none" stroke-linecap="butt" opacity="0.95"/><path d="M481.1,106.3 C487.5,107.9 476.8,119.0 469.8,116.4" transform="translate(1.3,0.9)" stroke="#45bdcc" stroke-width="1.05" fill="none" stroke-linecap="round"/><path d="M481.1,106.3 C487.5,107.9 476.8,119.0 469.8,116.4" transform="translate(-1.1,1.3)" stroke="#57ba48" stroke-width="1.05" fill="none" stroke-linecap="round"/><path d="M481.1,106.3 C487.5,107.9 476.8,119.0 469.8,116.4" transform="translate(0,0)" stroke="#a03a9b" stroke-width="1.05" fill="none" stroke-linecap="round"/><path d="M539.0,120.4 C530.3,119.7 523.9,112.4 514.9,108.4" transform="translate(-1.1,1.3)" stroke="#57ba48" stroke-width="1.05" fill="none" stroke-linecap="round"/><path d="M539.0,120.4 C530.3,119.7 523.9,112.4 514.9,108.4" transform="translate(0,0)" stroke="#a03a9b" stroke-width="1.05" fill="none" stroke-linecap="round"/><path d="M539.0,120.4 C530.3,119.7 523.9,112.4 514.9,108.4" transform="translate(1.3,0.9)" stroke="#45bdcc" stroke-width="1.05" fill="none" stroke-linecap="round"/><path d="M507.3,109.3 C505.3,121.6 496.9,123.8 486.0,114.2" transform="translate(1.3,0.9)" stroke="#45bdcc" stroke-width="1.05" fill="none" stroke-linecap="round"/><path d="M507.3,109.3 C505.3,121.6 496.9,123.8 486.0,114.2" transform="translate(-1.1,1.3)" stroke="#57ba48" stroke-width="1.05" fill="none" stroke-linecap="round"/><path d="M507.3,109.3 C505.3,121.6 496.9,123.8 486.0,114.2" transform="translate(0,0)" stroke="#a03a9b" stroke-width="1.05" fill="none" stroke-linecap="round"/><path d="M503.0,125.1 C496.0,115.6 505.9,111.7 495.8,107.8" transform="translate(1.3,0.9)" stroke="#45bdcc" stroke-width="1.05" fill="none" stroke-linecap="round"/><path d="M503.0,125.1 C496.0,115.6 505.9,111.7 495.8,107.8" transform="translate(0,0)" stroke="#a03a9b" stroke-width="1.05" fill="none" stroke-linecap="round"/><path d="M503.0,125.1 C496.0,115.6 505.9,111.7 495.8,107.8" transform="translate(-1.1,1.3)" stroke="#57ba48" stroke-width="1.05" fill="none" stroke-linecap="round"/><path d="M492.6,126.4 C506.7,113.6 502.4,105.9 512.3,118.3" transform="translate(0,0)" stroke="#a03a9b" stroke-width="1.05" fill="none" stroke-linecap="round"/><path d="M492.6,126.4 C506.7,113.6 502.4,105.9 512.3,118.3" transform="translate(1.3,0.9)" stroke="#45bdcc" stroke-width="1.05" fill="none" stroke-linecap="round"/><path d="M492.6,126.4 C506.7,113.6 502.4,105.9 512.3,118.3" transform="translate(-1.1,1.3)" stroke="#57ba48" stroke-width="1.05" fill="none" stroke-linecap="round"/><path d="M511.6,125.7 C505.3,113.9 512.2,112.3 498.0,121.4" transform="translate(1.3,0.9)" stroke="#45bdcc" stroke-width="1.05" fill="none" stroke-linecap="round"/><path d="M511.6,125.7 C505.3,113.9 512.2,112.3 498.0,121.4" transform="translate(-1.1,1.3)" stroke="#57ba48" stroke-width="1.05" fill="none" stroke-linecap="round"/><path d="M511.6,125.7 C505.3,113.9 512.2,112.3 498.0,121.4" transform="translate(0,0)" stroke="#a03a9b" stroke-width="1.05" fill="none" stroke-linecap="round"/><path d="M472.5,125.3 C473.7,117.2 465.5,122.2 464.4,119.1" transform="translate(-1.1,1.3)" stroke="#57ba48" stroke-width="1.05" fill="none" stroke-linecap="round"/><path d="M472.5,125.3 C473.7,117.2 465.5,122.2 464.4,119.1" transform="translate(1.3,0.9)" stroke="#45bdcc" stroke-width="1.05" fill="none" stroke-linecap="round"/><path d="M472.5,125.3 C473.7,117.2 465.5,122.2 464.4,119.1" transform="translate(0,0)" stroke="#a03a9b" stroke-width="1.05" fill="none" stroke-linecap="round"/><path d="M493.2,114.2 C503.4,120.7 513.7,122.6 528.3,117.2" transform="translate(-1.1,1.3)" stroke="#57ba48" stroke-width="1.05" fill="none" stroke-linecap="round"/><path d="M493.2,114.2 C503.4,120.7 513.7,122.6 528.3,117.2" transform="translate(0,0)" stroke="#a03a9b" stroke-width="1.05" fill="none" stroke-linecap="round"/><path d="M493.2,114.2 C503.4,120.7 513.7,122.6 528.3,117.2" transform="translate(1.3,0.9)" stroke="#45bdcc" stroke-width="1.05" fill="none" stroke-linecap="round"/><path d="M489.9,108.4 L485.2,115.8" stroke="#57ba48" stroke-width="2.9" fill="none" stroke-linecap="butt" opacity="0.95"/><path d="M479.3,120.4 L486.4,126.5" stroke="#57ba48" stroke-width="3.1" fill="none" stroke-linecap="butt" opacity="0.95"/><path d="M542.6,119.6 L531.8,126.9" stroke="#a03a9b" stroke-width="2.0" fill="none" stroke-linecap="butt" opacity="0.95"/><path d="M517.2,111.1 L512.8,118.0" stroke="#57ba48" stroke-width="3.1" fill="none" stroke-linecap="butt" opacity="0.95"/><g transform="translate(400,20) scale(0.14599)" fill="none" stroke-linecap="round" stroke-linejoin="round"><path d="M385,20 L400,18 L430,95 L460,100 L490,95 L520,80 L550,25 L610,105" stroke="#45bdcc" stroke-width="7" opacity="1"/><path d="M350,210 C315,200 285,190 290,160 C295,140 330,140 330,120 C325,90 330,60 350,45 C370,40 382,62 378,100 C376,130 395,160 400,175" stroke="#a03a9b" stroke-width="8" opacity="1"/><path d="M355,205 C322,195 298,185 302,162 C306,146 338,146 340,124 C336,96 342,68 357,55 C372,50 380,70 378,105" stroke="#57ba48" stroke-width="7" opacity="1"/><path d="M345,212 C310,222 292,200 305,175 C318,158 345,160 360,168" stroke="#45bdcc" stroke-width="7" opacity="1"/><path d="M420,190 C420,150 428,118 442,100 C458,92 472,110 470,140 C468,160 480,180 495,195" stroke="#a03a9b" stroke-width="8" opacity="1"/><path d="M430,185 C432,150 440,125 452,110 C465,104 476,120 474,145" stroke="#45bdcc" stroke-width="7" opacity="1"/><path d="M412,195 C410,160 418,130 435,112" stroke="#57ba48" stroke-width="7" opacity="1"/><path d="M330,95 C340,70 355,60 372,58" stroke="#57ba48" stroke-width="6" opacity="1"/><polygon points="338,205 365,198 397,440 380,450" fill="#a03a9b" stroke="none" opacity="1"/><polygon points="365,182 396,175 407,430 392,440" fill="#45bdcc" stroke="none" opacity="1"/><polygon points="423,208 445,195 441,420 425,426" fill="#a03a9b" stroke="none" opacity="1"/><polygon points="445,182 492,140 462,410 445,416" fill="#45bdcc" stroke="none" opacity="1"/><path d="M165,310 C200,295 250,308 300,348 C330,378 358,418 380,460" stroke="#45bdcc" stroke-width="15" opacity="1"/><path d="M165,332 C210,320 260,335 310,370 C340,395 365,430 380,465" stroke="#57ba48" stroke-width="11" opacity="1"/><path d="M155,378 C200,360 260,380 310,410 C340,430 360,450 375,470" stroke="#a03a9b" stroke-width="17" opacity="1"/><path d="M170,300 C200,290 230,300 250,320" stroke="#45bdcc" stroke-width="7" opacity="1"/><path d="M480,205 C500,195 530,205 545,230 C560,255 545,265 520,260" stroke="#a03a9b" stroke-width="9.2" transform="translate(0,0)"/><path d="M480,205 C500,195 530,205 545,230 C560,255 545,265 520,260" stroke="#45bdcc" stroke-width="9.2" transform="translate(11,7)"/><path d="M480,205 C500,195 530,205 545,230 C560,255 545,265 520,260" stroke="#57ba48" stroke-width="9.2" transform="translate(-9,10)"/><polygon points="500,210 540,205 560,250 520,262" fill="#45bdcc" stroke="none" opacity="0.9"/><polygon points="490,230 525,225 540,260 505,268" fill="#57ba48" stroke="none" opacity="0.8"/><path d="M490,300 C540,305 600,315 640,345 C668,372 662,415 640,440" stroke="#a03a9b" stroke-width="9.2" transform="translate(0,0)"/><path d="M490,300 C540,305 600,315 640,345 C668,372 662,415 640,440" stroke="#45bdcc" stroke-width="9.2" transform="translate(11,7)"/><path d="M490,300 C540,305 600,315 640,345 C668,372 662,415 640,440" stroke="#57ba48" stroke-width="9.2" transform="translate(-9,10)"/><polygon points="510,385 560,372 625,520 592,532" fill="#57ba48" stroke="none" opacity="1"/><polygon points="498,405 548,378 532,432" fill="#57ba48" stroke="none" opacity="1"/><polygon points="560,372 600,365 650,500 625,520" fill="#3ea83c" stroke="none" opacity="0.9"/><path d="M600,470 C620,500 640,520 660,548" stroke="#a03a9b" stroke-width="12" opacity="1"/><path d="M380,450 C385,480 375,510 380,548" stroke="#a03a9b" stroke-width="8.0" transform="translate(0,0)"/><path d="M380,450 C385,480 375,510 380,548" stroke="#45bdcc" stroke-width="8.0" transform="translate(11,7)"/><path d="M380,450 C385,480 375,510 380,548" stroke="#57ba48" stroke-width="8.0" transform="translate(-9,10)"/><path d="M420,465 C440,490 460,515 470,548" stroke="#a03a9b" stroke-width="8.0" transform="translate(0,0)"/><path d="M420,465 C440,490 460,515 470,548" stroke="#45bdcc" stroke-width="8.0" transform="translate(11,7)"/><path d="M420,465 C440,490 460,515 470,548" stroke="#57ba48" stroke-width="8.0" transform="translate(-9,10)"/><path d="M540,470 C560,500 580,520 600,548" stroke="#a03a9b" stroke-width="8.0" transform="translate(0,0)"/><path d="M540,470 C560,500 580,520 600,548" stroke="#45bdcc" stroke-width="8.0" transform="translate(11,7)"/><path d="M540,470 C560,500 580,520 600,548" stroke="#57ba48" stroke-width="8.0" transform="translate(-9,10)"/></g><g transform="translate(500,20) scale(0.14599)" fill="none" stroke-linecap="round" stroke-linejoin="round"><path d="M250,65 C280,70 300,90 300,120 C298,150 285,170 270,185" stroke="#a03a9b" stroke-width="8" opacity="1"/><path d="M262,90 C290,100 305,130 295,160 C290,175 282,185 275,192" stroke="#57ba48" stroke-width="7" opacity="1"/><path d="M320,150 C330,110 360,60 385,45 C400,45 410,70 420,100 C440,130 480,140 485,175 C488,205 460,225 420,230" stroke="#a03a9b" stroke-width="8" opacity="1"/><path d="M330,155 C340,115 365,72 390,60 C402,62 412,85 425,110 C445,138 472,150 474,180 C474,205 450,218 415,222" stroke="#57ba48" stroke-width="7" opacity="1"/><path d="M338,160 C348,122 372,82 395,72 C405,76 414,95 430,118 C448,142 465,160 462,185" stroke="#45bdcc" stroke-width="6" opacity="1"/><path d="M410,60 L420,110" stroke="#45bdcc" stroke-width="7" opacity="1"/><polygon points="130,370 240,195 270,205 160,392" fill="#57ba48" stroke="none" opacity="1"/><polygon points="120,370 215,215 240,215 140,385" fill="#a03a9b" stroke="none" opacity="0.95"/><polygon points="112,345 140,345 152,540 120,540" fill="#a03a9b" stroke="none" opacity="1"/><polygon points="150,425 250,330 266,345 170,452" fill="#a03a9b" stroke="none" opacity="1"/><polygon points="180,430 265,345 280,358 195,448" fill="#45bdcc" stroke="none" opacity="1"/><polygon points="270,240 290,235 300,450 285,455" fill="#a03a9b" stroke="none" opacity="1"/><polygon points="285,230 330,215 325,440 300,445" fill="#57ba48" stroke="none" opacity="1"/><polygon points="355,205 385,210 372,470 346,470" fill="#a03a9b" stroke="none" opacity="1"/><polygon points="385,220 415,215 397,420 377,425" fill="#57ba48" stroke="none" opacity="1"/><polygon points="360,450 540,330 605,335 380,482" fill="#57ba48" stroke="none" opacity="1"/><polygon points="350,440 520,322 548,328 365,462" fill="#a03a9b" stroke="none" opacity="1"/><polygon points="540,330 605,335 600,350 560,350" fill="#45bdcc" stroke="none" opacity="0.8"/><path d="M90,420 C80,380 120,340 180,300 C220,270 250,230 270,200" stroke="#a03a9b" stroke-width="7" opacity="1"/><path d="M100,412 C100,372 140,342 190,312 C228,284 255,245 278,210" stroke="#45bdcc" stroke-width="6" opacity="1"/><path d="M200,185 C250,175 300,185 340,175" stroke="#a03a9b" stroke-width="8.0" transform="translate(0,0)"/><path d="M200,185 C250,175 300,185 340,175" stroke="#45bdcc" stroke-width="8.0" transform="translate(11,7)"/><path d="M200,185 C250,175 300,185 340,175" stroke="#57ba48" stroke-width="8.0" transform="translate(-9,10)"/><path d="M250,430 C280,420 320,432 360,442 C400,452 430,442 460,432" stroke="#a03a9b" stroke-width="8.0" transform="translate(0,0)"/><path d="M250,430 C280,420 320,432 360,442 C400,452 430,442 460,432" stroke="#45bdcc" stroke-width="8.0" transform="translate(11,7)"/><path d="M250,430 C280,420 320,432 360,442 C400,452 430,442 460,432" stroke="#57ba48" stroke-width="8.0" transform="translate(-9,10)"/><path d="M230,480 C260,460 300,470 330,490 C350,510 340,535 330,548" stroke="#a03a9b" stroke-width="8.0" transform="translate(0,0)"/><path d="M230,480 C260,460 300,470 330,490 C350,510 340,535 330,548" stroke="#45bdcc" stroke-width="8.0" transform="translate(11,7)"/><path d="M230,480 C260,460 300,470 330,490 C350,510 340,535 330,548" stroke="#57ba48" stroke-width="8.0" transform="translate(-9,10)"/><polygon points="150,510 200,500 250,520 240,548 160,548" fill="#a03a9b" stroke="none" opacity="1"/><path d="M0,300 C30,320 50,360 40,400" stroke="#a03a9b" stroke-width="8.0" transform="translate(0,0)"/><path d="M0,300 C30,320 50,360 40,400" stroke="#45bdcc" stroke-width="8.0" transform="translate(11,7)"/><path d="M0,300 C30,320 50,360 40,400" stroke="#57ba48" stroke-width="8.0" transform="translate(-9,10)"/></g><g transform="translate(350,100) scale(0.14599)" fill="none" stroke-linecap="round" stroke-linejoin="round"><polygon points="600,95 660,58 685,52 685,82 640,112 610,112" fill="#45bdcc" stroke="none" opacity="1"/><polygon points="610,100 685,70 685,90 625,118" fill="#57ba48" stroke="none" opacity="0.9"/><polygon points="610,125 685,110 685,185 640,190 615,160" fill="#a03a9b" stroke="none" opacity="0.9"/><path d="M545,210 C560,198 582,228 592,258 C602,288 622,300 642,290" stroke="#a03a9b" stroke-width="8.0" transform="translate(0,0)"/><path d="M545,210 C560,198 582,228 592,258 C602,288 622,300 642,290" stroke="#45bdcc" stroke-width="8.0" transform="translate(11,7)"/><path d="M545,210 C560,198 582,228 592,258 C602,288 622,300 642,290" stroke="#57ba48" stroke-width="8.0" transform="translate(-9,10)"/><path d="M600,140 C612,180 622,220 602,260 C582,300 562,320 540,340" stroke="#a03a9b" stroke-width="8.0" transform="translate(0,0)"/><path d="M600,140 C612,180 622,220 602,260 C582,300 562,320 540,340" stroke="#45bdcc" stroke-width="8.0" transform="translate(11,7)"/><path d="M600,140 C612,180 622,220 602,260 C582,300 562,320 540,340" stroke="#57ba48" stroke-width="8.0" transform="translate(-9,10)"/><path d="M640,300 C620,330 600,350 560,352 C520,352 490,342 470,332" stroke="#a03a9b" stroke-width="8.0" transform="translate(0,0)"/><path d="M640,300 C620,330 600,350 560,352 C520,352 490,342 470,332" stroke="#45bdcc" stroke-width="8.0" transform="translate(11,7)"/><path d="M640,300 C620,330 600,350 560,352 C520,352 490,342 470,332" stroke="#57ba48" stroke-width="8.0" transform="translate(-9,10)"/><path d="M560,220 C600,210 640,200 685,200" stroke="#a03a9b" stroke-width="8.0" transform="translate(0,0)"/><path d="M560,220 C600,210 640,200 685,200" stroke="#45bdcc" stroke-width="8.0" transform="translate(11,7)"/><path d="M560,220 C600,210 640,200 685,200" stroke="#57ba48" stroke-width="8.0" transform="translate(-9,10)"/><polygon points="322,398 460,318 482,326 342,416" fill="#a03a9b" stroke="none" opacity="1"/><polygon points="330,422 410,352 400,340 452,330 442,386 426,375 352,442" fill="#57ba48" stroke="none" opacity="1"/><path d="M140,525 C180,500 220,478 260,470 C310,460 360,448 400,440 C450,432 500,422 560,418 C610,414 650,408 685,402" stroke="#a03a9b" stroke-width="9.2" transform="translate(0,0)"/><path d="M140,525 C180,500 220,478 260,470 C310,460 360,448 400,440 C450,432 500,422 560,418 C610,414 650,408 685,402" stroke="#45bdcc" stroke-width="9.2" transform="translate(11,7)"/><path d="M140,525 C180,500 220,478 260,470 C310,460 360,448 400,440 C450,432 500,422 560,418 C610,414 650,408 685,402" stroke="#57ba48" stroke-width="9.2" transform="translate(-9,10)"/><path d="M150,548 C200,520 250,500 300,492 C360,482 420,470 480,462" stroke="#a03a9b" stroke-width="8.0" transform="translate(0,0)"/><path d="M150,548 C200,520 250,500 300,492 C360,482 420,470 480,462" stroke="#45bdcc" stroke-width="8.0" transform="translate(11,7)"/><path d="M150,548 C200,520 250,500 300,492 C360,482 420,470 480,462" stroke="#57ba48" stroke-width="8.0" transform="translate(-9,10)"/><polygon points="370,495 450,470 480,520 470,548 385,548" fill="#a03a9b" stroke="none" opacity="1"/><polygon points="500,452 685,400 685,440 520,485" fill="#a03a9b" stroke="none" opacity="1"/><polygon points="400,452 445,448 455,490 408,492" fill="#45bdcc" stroke="none" opacity="1"/><polygon points="400,402 470,395 480,420 410,428" fill="#57ba48" stroke="none" opacity="1"/><polygon points="180,470 260,458 270,480 200,492" fill="#57ba48" stroke="none" opacity="0.9"/></g><g transform="translate(450,100) scale(0.14599)" fill="none" stroke-linecap="round" stroke-linejoin="round"><path d="M40,0 C62,50 52,100 22,150 C2,180 2,200 12,222" stroke="#a03a9b" stroke-width="9.2" transform="translate(0,0)"/><path d="M40,0 C62,50 52,100 22,150 C2,180 2,200 12,222" stroke="#45bdcc" stroke-width="9.2" transform="translate(11,7)"/><path d="M40,0 C62,50 52,100 22,150 C2,180 2,200 12,222" stroke="#57ba48" stroke-width="9.2" transform="translate(-9,10)"/><path d="M90,60 C120,40 150,50 160,90 C170,130 150,160 120,170" stroke="#a03a9b" stroke-width="8.0" transform="translate(0,0)"/><path d="M90,60 C120,40 150,50 160,90 C170,130 150,160 120,170" stroke="#45bdcc" stroke-width="8.0" transform="translate(11,7)"/><path d="M90,60 C120,40 150,50 160,90 C170,130 150,160 120,170" stroke="#57ba48" stroke-width="8.0" transform="translate(-9,10)"/><polygon points="100,140 160,130 220,170 210,205 150,200 110,185" fill="#a03a9b" stroke="none" opacity="1"/><polygon points="140,150 180,145 200,180 160,190" fill="#a03a9b" stroke="none" opacity="0.9"/><path d="M200,0 C230,40 250,80 242,130 C236,170 262,192 292,182 C322,172 342,152 352,122 C356,92 342,72 302,82" stroke="#a03a9b" stroke-width="8.0" transform="translate(0,0)"/><path d="M200,0 C230,40 250,80 242,130 C236,170 262,192 292,182 C322,172 342,152 352,122 C356,92 342,72 302,82" stroke="#45bdcc" stroke-width="8.0" transform="translate(11,7)"/><path d="M200,0 C230,40 250,80 242,130 C236,170 262,192 292,182 C322,172 342,152 352,122 C356,92 342,72 302,82" stroke="#57ba48" stroke-width="8.0" transform="translate(-9,10)"/><polygon points="250,90 300,85 330,130 270,135" fill="#a03a9b" stroke="none" opacity="1"/><polygon points="270,40 310,30 320,80 280,90" fill="#45bdcc" stroke="none" opacity="0.9"/><polygon points="285,20 320,15 330,50 292,55" fill="#57ba48" stroke="none" opacity="0.9"/><path d="M420,0 C400,40 395,90 405,140 C420,180 450,192 480,172" stroke="#a03a9b" stroke-width="8.0" transform="translate(0,0)"/><path d="M420,0 C400,40 395,90 405,140 C420,180 450,192 480,172" stroke="#45bdcc" stroke-width="8.0" transform="translate(11,7)"/><path d="M420,0 C400,40 395,90 405,140 C420,180 450,192 480,172" stroke="#57ba48" stroke-width="8.0" transform="translate(-9,10)"/><path d="M480,60 C520,40 560,60 566,100 C570,140 542,170 512,182" stroke="#a03a9b" stroke-width="8.0" transform="translate(0,0)"/><path d="M480,60 C520,40 560,60 566,100 C570,140 542,170 512,182" stroke="#45bdcc" stroke-width="8.0" transform="translate(11,7)"/><path d="M480,60 C520,40 560,60 566,100 C570,140 542,170 512,182" stroke="#57ba48" stroke-width="8.0" transform="translate(-9,10)"/><polygon points="450,10 500,0 520,40 470,60" fill="#57ba48" stroke="none" opacity="1"/><polygon points="470,40 520,30 530,70 480,80" fill="#a03a9b" stroke="none" opacity="0.9"/><polygon points="560,110 640,100 665,150 640,185 580,180" fill="#a03a9b" stroke="none" opacity="1"/><polygon points="600,120 650,115 660,160 620,170" fill="#a03a9b" stroke="none" opacity="0.9"/><path d="M0,240 C40,260 80,282 120,302 C150,322 160,352 150,382" stroke="#a03a9b" stroke-width="8.0" transform="translate(0,0)"/><path d="M0,240 C40,260 80,282 120,302 C150,322 160,352 150,382" stroke="#45bdcc" stroke-width="8.0" transform="translate(11,7)"/><path d="M0,240 C40,260 80,282 120,302 C150,322 160,352 150,382" stroke="#57ba48" stroke-width="8.0" transform="translate(-9,10)"/><path d="M0,380 C40,370 80,382 120,402 C140,412 150,430 150,450" stroke="#a03a9b" stroke-width="8.0" transform="translate(0,0)"/><path d="M0,380 C40,370 80,382 120,402 C140,412 150,430 150,450" stroke="#45bdcc" stroke-width="8.0" transform="translate(11,7)"/><path d="M0,380 C40,370 80,382 120,402 C140,412 150,430 150,450" stroke="#57ba48" stroke-width="8.0" transform="translate(-9,10)"/><path d="M0,300 C30,310 60,330 80,360" stroke="#a03a9b" stroke-width="6.9" transform="translate(0,0)"/><path d="M0,300 C30,310 60,330 80,360" stroke="#45bdcc" stroke-width="6.9" transform="translate(11,7)"/><path d="M0,300 C30,310 60,330 80,360" stroke="#57ba48" stroke-width="6.9" transform="translate(-9,10)"/><path d="M600,250 C630,290 650,330 640,380 C630,420 610,452 600,500" stroke="#a03a9b" stroke-width="8.0" transform="translate(0,0)"/><path d="M600,250 C630,290 650,330 640,380 C630,420 610,452 600,500" stroke="#45bdcc" stroke-width="8.0" transform="translate(11,7)"/><path d="M600,250 C630,290 650,330 640,380 C630,420 610,452 600,500" stroke="#57ba48" stroke-width="8.0" transform="translate(-9,10)"/><path d="M590,200 C620,210 650,230 685,240" stroke="#a03a9b" stroke-width="8.0" transform="translate(0,0)"/><path d="M590,200 C620,210 650,230 685,240" stroke="#45bdcc" stroke-width="8.0" transform="translate(11,7)"/><path d="M590,200 C620,210 650,230 685,240" stroke="#57ba48" stroke-width="8.0" transform="translate(-9,10)"/><path d="M560,320 C590,330 620,360 640,400" stroke="#a03a9b" stroke-width="6.9" transform="translate(0,0)"/><path d="M560,320 C590,330 620,360 640,400" stroke="#45bdcc" stroke-width="6.9" transform="translate(11,7)"/><path d="M560,320 C590,330 620,360 640,400" stroke="#57ba48" stroke-width="6.9" transform="translate(-9,10)"/><polygon points="50,500 110,495 115,548 55,548" fill="#45bdcc" stroke="none" opacity="1"/><polygon points="620,480 685,470 685,548 640,548" fill="#a03a9b" stroke="none" opacity="1"/><polygon points="600,505 640,500 640,548 605,548" fill="#45bdcc" stroke="none" opacity="1"/><path d="M0,450 C30,470 60,490 80,520" stroke="#a03a9b" stroke-width="8.0" transform="translate(0,0)"/><path d="M0,450 C30,470 60,490 80,520" stroke="#45bdcc" stroke-width="8.0" transform="translate(11,7)"/><path d="M0,450 C30,470 60,490 80,520" stroke="#57ba48" stroke-width="8.0" transform="translate(-9,10)"/></g><g transform="translate(550,100) scale(0.14599)" fill="none" stroke-linecap="round" stroke-linejoin="round"><polygon points="0,0 40,0 45,60 20,150 0,150" fill="#a03a9b" stroke="none" opacity="1"/><path d="M20,0 C30,40 40,80 60,110 C80,130 100,150 110,170" stroke="#57ba48" stroke-width="8.0" transform="translate(0,0)"/><path d="M20,0 C30,40 40,80 60,110 C80,130 100,150 110,170" stroke="#45bdcc" stroke-width="8.0" transform="translate(11,7)"/><path d="M20,0 C30,40 40,80 60,110 C80,130 100,150 110,170" stroke="#a03a9b" stroke-width="8.0" transform="translate(-9,10)"/><polygon points="95,108 170,113 182,160 162,192 100,186" fill="#a03a9b" stroke="none" opacity="1"/><polygon points="120,120 160,125 165,170 130,175" fill="#b85ab3" stroke="none" opacity="0.7"/><path d="M0,170 C40,180 80,200 110,230 C130,260 120,290 100,300" stroke="#a03a9b" stroke-width="8.0" transform="translate(0,0)"/><path d="M0,170 C40,180 80,200 110,230 C130,260 120,290 100,300" stroke="#45bdcc" stroke-width="8.0" transform="translate(11,7)"/><path d="M0,170 C40,180 80,200 110,230 C130,260 120,290 100,300" stroke="#57ba48" stroke-width="8.0" transform="translate(-9,10)"/><path d="M0,250 C50,260 100,280 140,300 C180,320 220,330 262,330" stroke="#a03a9b" stroke-width="8.0" transform="translate(0,0)"/><path d="M0,250 C50,260 100,280 140,300 C180,320 220,330 262,330" stroke="#45bdcc" stroke-width="8.0" transform="translate(11,7)"/><path d="M0,250 C50,260 100,280 140,300 C180,320 220,330 262,330" stroke="#57ba48" stroke-width="8.0" transform="translate(-9,10)"/><polygon points="230,330 282,320 472,528 432,540" fill="#57ba48" stroke="none" opacity="1"/><polygon points="240,318 300,330 482,510 470,530" fill="#a03a9b" stroke="none" opacity="0.9"/><polygon points="230,340 260,335 440,540 420,548" fill="#57ba48" stroke="none" opacity="0.9"/><polygon points="40,340 200,370 302,420 282,442 180,402 50,372" fill="#a03a9b" stroke="none" opacity="1"/><polygon points="80,420 140,430 232,548 190,548" fill="#a03a9b" stroke="none" opacity="1"/><polygon points="150,430 190,425 262,548 222,548" fill="#57ba48" stroke="none" opacity="1"/><path d="M0,420 C50,440 100,470 140,500 C170,520 180,540 190,548" stroke="#a03a9b" stroke-width="8.0" transform="translate(0,0)"/><path d="M0,420 C50,440 100,470 140,500 C170,520 180,540 190,548" stroke="#45bdcc" stroke-width="8.0" transform="translate(11,7)"/><path d="M0,420 C50,440 100,470 140,500 C170,520 180,540 190,548" stroke="#57ba48" stroke-width="8.0" transform="translate(-9,10)"/><path d="M0,330 C40,340 80,360 122,400 C150,430 160,470 170,500" stroke="#a03a9b" stroke-width="6.9" transform="translate(0,0)"/><path d="M0,330 C40,340 80,360 122,400 C150,430 160,470 170,500" stroke="#45bdcc" stroke-width="6.9" transform="translate(11,7)"/><path d="M0,330 C40,340 80,360 122,400 C150,430 160,470 170,500" stroke="#57ba48" stroke-width="6.9" transform="translate(-9,10)"/><path d="M300,420 C340,450 380,480 430,500 C460,512 480,530 490,548" stroke="#a03a9b" stroke-width="6.9" transform="translate(0,0)"/><path d="M300,420 C340,450 380,480 430,500 C460,512 480,530 490,548" stroke="#45bdcc" stroke-width="6.9" transform="translate(11,7)"/><path d="M300,420 C340,450 380,480 430,500 C460,512 480,530 490,548" stroke="#57ba48" stroke-width="6.9" transform="translate(-9,10)"/><path d="M0,480 C30,500 50,520 60,548" stroke="#a03a9b" stroke-width="8.0" transform="translate(0,0)"/><path d="M0,480 C30,500 50,520 60,548" stroke="#45bdcc" stroke-width="8.0" transform="translate(11,7)"/><path d="M0,480 C30,500 50,520 60,548" stroke="#57ba48" stroke-width="8.0" transform="translate(-9,10)"/></g><g transform="translate(350,170) scale(0.14599)" fill="none" stroke-linecap="round" stroke-linejoin="round"><path d="M130,52 C150,22 200,12 250,22 C290,32 320,22 352,2" stroke="#a03a9b" stroke-width="8.0" transform="translate(0,0)"/><path d="M130,52 C150,22 200,12 250,22 C290,32 320,22 352,2" stroke="#45bdcc" stroke-width="8.0" transform="translate(11,7)"/><path d="M130,52 C150,22 200,12 250,22 C290,32 320,22 352,2" stroke="#57ba48" stroke-width="8.0" transform="translate(-9,10)"/><path d="M150,62 C170,100 180,140 200,170 C230,200 270,222 300,242" stroke="#a03a9b" stroke-width="8.0" transform="translate(0,0)"/><path d="M150,62 C170,100 180,140 200,170 C230,200 270,222 300,242" stroke="#45bdcc" stroke-width="8.0" transform="translate(11,7)"/><path d="M150,62 C170,100 180,140 200,170 C230,200 270,222 300,242" stroke="#57ba48" stroke-width="8.0" transform="translate(-9,10)"/><path d="M250,40 C270,70 300,90 340,95 C380,100 420,80 450,60" stroke="#a03a9b" stroke-width="6.9" transform="translate(0,0)"/><path d="M250,40 C270,70 300,90 340,95 C380,100 420,80 450,60" stroke="#45bdcc" stroke-width="6.9" transform="translate(11,7)"/><path d="M250,40 C270,70 300,90 340,95 C380,100 420,80 450,60" stroke="#57ba48" stroke-width="6.9" transform="translate(-9,10)"/><polygon points="320,205 540,40 582,55 362,228" fill="#a03a9b" stroke="none" opacity="1"/><polygon points="380,182 570,92 592,112 402,202" fill="#a03a9b" stroke="none" opacity="0.95"/><polygon points="430,232 640,172 652,197 447,257" fill="#a03a9b" stroke="none" opacity="1"/><polygon points="560,30 620,20 640,60 590,70" fill="#a03a9b" stroke="none" opacity="0.9"/><polygon points="440,140 520,110 530,130 450,160" fill="#b85ab3" stroke="none" opacity="0.8"/><path d="M300,130 C340,110 372,150 362,200 C352,230 332,242 300,242" stroke="#57ba48" stroke-width="8.0" transform="translate(0,0)"/><path d="M300,130 C340,110 372,150 362,200 C352,230 332,242 300,242" stroke="#a03a9b" stroke-width="8.0" transform="translate(11,7)"/><path d="M300,130 C340,110 372,150 362,200 C352,230 332,242 300,242" stroke="#45bdcc" stroke-width="8.0" transform="translate(-9,10)"/><polygon points="120,370 240,320 262,350 142,392" fill="#45bdcc" stroke="none" opacity="1"/><polygon points="160,250 232,240 202,282" fill="#45bdcc" stroke="none" opacity="1"/><polygon points="170,265 250,260 255,290 180,295" fill="#45bdcc" stroke="none" opacity="0.9"/><path d="M240,290 C180,290 100,280 60,300 C40,320 40,360 80,380 C110,395 130,380 140,370" stroke="#45bdcc" stroke-width="8" opacity="1"/><path d="M280,262 C300,300 322,340 322,382 C322,422 282,442 242,442 C202,447 162,462 162,482 C172,502 202,492 222,472" stroke="#57ba48" stroke-width="7" opacity="1"/><path d="M250,300 C230,330 200,360 160,380 C130,400 130,430 150,440 C180,452 250,442 300,432" stroke="#a03a9b" stroke-width="8" opacity="1"/><polygon points="255,265 300,255 320,330 300,350 270,300" fill="#a03a9b" stroke="none" opacity="1"/><polygon points="570,300 640,280 662,350 600,382 560,340" fill="#57ba48" stroke="none" opacity="1"/><polygon points="590,350 640,340 652,410 612,422" fill="#45bdcc" stroke="none" opacity="1"/><polygon points="620,260 685,250 685,330 650,330" fill="#a03a9b" stroke="none" opacity="0.9"/><path d="M420,232 C460,262 500,282 540,302 C580,322 620,312 685,292" stroke="#a03a9b" stroke-width="8.0" transform="translate(0,0)"/><path d="M420,232 C460,262 500,282 540,302 C580,322 620,312 685,292" stroke="#45bdcc" stroke-width="8.0" transform="translate(11,7)"/><path d="M420,232 C460,262 500,282 540,302 C580,322 620,312 685,292" stroke="#57ba48" stroke-width="8.0" transform="translate(-9,10)"/><path d="M450,300 C490,320 520,350 542,382" stroke="#a03a9b" stroke-width="8.0" transform="translate(0,0)"/><path d="M450,300 C490,320 520,350 542,382" stroke="#45bdcc" stroke-width="8.0" transform="translate(11,7)"/><path d="M450,300 C490,320 520,350 542,382" stroke="#57ba48" stroke-width="8.0" transform="translate(-9,10)"/><polygon points="450,250 560,230 600,280 480,290" fill="#a03a9b" stroke="none" opacity="0.85"/><path d="M560,150 C600,140 640,130 685,120" stroke="#a03a9b" stroke-width="8.0" transform="translate(0,0)"/><path d="M560,150 C600,140 640,130 685,120" stroke="#45bdcc" stroke-width="8.0" transform="translate(11,7)"/><path d="M560,150 C600,140 640,130 685,120" stroke="#57ba48" stroke-width="8.0" transform="translate(-9,10)"/><path d="M480,0 C500,30 520,50 560,60" stroke="#a03a9b" stroke-width="6.9" transform="translate(0,0)"/><path d="M480,0 C500,30 520,50 560,60" stroke="#45bdcc" stroke-width="6.9" transform="translate(11,7)"/><path d="M480,0 C500,30 520,50 560,60" stroke="#57ba48" stroke-width="6.9" transform="translate(-9,10)"/></g><g transform="translate(430,170) scale(0.14599)" fill="none" stroke-linecap="round" stroke-linejoin="round"><path d="M150,0 C200,40 250,60 300,100 C330,140 360,160 360,200 C360,230 330,242 300,232" stroke="#a03a9b" stroke-width="8.0" transform="translate(0,0)"/><path d="M150,0 C200,40 250,60 300,100 C330,140 360,160 360,200 C360,230 330,242 300,232" stroke="#45bdcc" stroke-width="8.0" transform="translate(11,7)"/><path d="M150,0 C200,40 250,60 300,100 C330,140 360,160 360,200 C360,230 330,242 300,232" stroke="#57ba48" stroke-width="8.0" transform="translate(-9,10)"/><path d="M280,0 C290,50 320,100 360,130 C400,150 450,150 480,140" stroke="#a03a9b" stroke-width="8.0" transform="translate(0,0)"/><path d="M280,0 C290,50 320,100 360,130 C400,150 450,150 480,140" stroke="#45bdcc" stroke-width="8.0" transform="translate(11,7)"/><path d="M280,0 C290,50 320,100 360,130 C400,150 450,150 480,140" stroke="#57ba48" stroke-width="8.0" transform="translate(-9,10)"/><path d="M560,110 C600,120 640,110 685,90" stroke="#a03a9b" stroke-width="8.0" transform="translate(0,0)"/><path d="M560,110 C600,120 640,110 685,90" stroke="#45bdcc" stroke-width="8.0" transform="translate(11,7)"/><path d="M560,110 C600,120 640,110 685,90" stroke="#57ba48" stroke-width="8.0" transform="translate(-9,10)"/><polygon points="180,40 240,30 272,80 212,97" fill="#45bdcc" stroke="none" opacity="1"/><path d="M0,40 C40,20 80,40 100,80 C120,120 100,160 60,182" stroke="#a03a9b" stroke-width="8.0" transform="translate(0,0)"/><path d="M0,40 C40,20 80,40 100,80 C120,120 100,160 60,182" stroke="#45bdcc" stroke-width="8.0" transform="translate(11,7)"/><path d="M0,40 C40,20 80,40 100,80 C120,120 100,160 60,182" stroke="#57ba48" stroke-width="8.0" transform="translate(-9,10)"/><path d="M100,150 C130,130 170,120 200,140" stroke="#a03a9b" stroke-width="8.0" transform="translate(0,0)"/><path d="M100,150 C130,130 170,120 200,140" stroke="#45bdcc" stroke-width="8.0" transform="translate(11,7)"/><path d="M100,150 C130,130 170,120 200,140" stroke="#57ba48" stroke-width="8.0" transform="translate(-9,10)"/><polygon points="0,80 30,75 35,140 0,145" fill="#a03a9b" stroke="none" opacity="1"/><polygon points="50,180 150,200 140,262 60,252" fill="#a03a9b" stroke="none" opacity="1"/><polygon points="210,180 320,200 300,242 220,232" fill="#a03a9b" stroke="none" opacity="1"/><polygon points="120,230 200,220 212,300 140,312" fill="#57ba48" stroke="none" opacity="1"/><polygon points="190,260 272,270 262,327 220,322" fill="#45bdcc" stroke="none" opacity="1"/><polygon points="130,320 182,330 172,372 140,362" fill="#45bdcc" stroke="none" opacity="1"/><polygon points="30,300 120,280 132,352 50,372" fill="#57ba48" stroke="none" opacity="1"/><polygon points="40,360 100,360 90,422 60,422" fill="#45bdcc" stroke="none" opacity="1"/><polygon points="0,250 60,240 70,300 0,310" fill="#a03a9b" stroke="none" opacity="0.9"/><polygon points="0,330 40,320 45,380 0,390" fill="#45bdcc" stroke="none" opacity="0.9"/><path d="M0,200 C40,190 80,200 110,220" stroke="#a03a9b" stroke-width="6.9" transform="translate(0,0)"/><path d="M0,200 C40,190 80,200 110,220" stroke="#45bdcc" stroke-width="6.9" transform="translate(11,7)"/><path d="M0,200 C40,190 80,200 110,220" stroke="#57ba48" stroke-width="6.9" transform="translate(-9,10)"/></g><g transform="translate(530,170) scale(0.14599)" fill="none" stroke-linecap="round" stroke-linejoin="round"><polygon points="300,0 382,0 522,232 482,252" fill="#57ba48" stroke="none" opacity="1"/><polygon points="360,0 422,20 542,200 512,222" fill="#a03a9b" stroke="none" opacity="0.95"/><polygon points="430,0 470,0 560,150 540,160" fill="#57ba48" stroke="none" opacity="0.9"/><path d="M0,120 C40,100 80,120 120,100 C160,80 200,100 240,140" stroke="#a03a9b" stroke-width="8.0" transform="translate(0,0)"/><path d="M0,120 C40,100 80,120 120,100 C160,80 200,100 240,140" stroke="#45bdcc" stroke-width="8.0" transform="translate(11,7)"/><path d="M0,120 C40,100 80,120 120,100 C160,80 200,100 240,140" stroke="#57ba48" stroke-width="8.0" transform="translate(-9,10)"/><path d="M440,200 C500,220 560,262 600,302 C620,342 580,362 540,352" stroke="#a03a9b" stroke-width="8.0" transform="translate(0,0)"/><path d="M440,200 C500,220 560,262 600,302 C620,342 580,362 540,352" stroke="#45bdcc" stroke-width="8.0" transform="translate(11,7)"/><path d="M440,200 C500,220 560,262 600,302 C620,342 580,362 540,352" stroke="#57ba48" stroke-width="8.0" transform="translate(-9,10)"/><path d="M450,300 C460,340 460,380 470,422" stroke="#57ba48" stroke-width="6.9" transform="translate(0,0)"/><path d="M450,300 C460,340 460,380 470,422" stroke="#57ba48" stroke-width="6.9" transform="translate(11,7)"/><path d="M450,300 C460,340 460,380 470,422" stroke="#45bdcc" stroke-width="6.9" transform="translate(-9,10)"/><path d="M0,20 C40,10 80,0 120,10" stroke="#a03a9b" stroke-width="8.0" transform="translate(0,0)"/><path d="M0,20 C40,10 80,0 120,10" stroke="#45bdcc" stroke-width="8.0" transform="translate(11,7)"/><path d="M0,20 C40,10 80,0 120,10" stroke="#57ba48" stroke-width="8.0" transform="translate(-9,10)"/><path d="M240,0 C260,40 272,80 302,122 C330,160 340,190 330,220" stroke="#a03a9b" stroke-width="8.0" transform="translate(0,0)"/><path d="M240,0 C260,40 272,80 302,122 C330,160 340,190 330,220" stroke="#45bdcc" stroke-width="8.0" transform="translate(11,7)"/><path d="M240,0 C260,40 272,80 302,122 C330,160 340,190 330,220" stroke="#57ba48" stroke-width="8.0" transform="translate(-9,10)"/><path d="M400,0 C450,40 520,60 602,100" stroke="#a03a9b" stroke-width="8.0" transform="translate(0,0)"/><path d="M400,0 C450,40 520,60 602,100" stroke="#45bdcc" stroke-width="8.0" transform="translate(11,7)"/><path d="M400,0 C450,40 520,60 602,100" stroke="#57ba48" stroke-width="8.0" transform="translate(-9,10)"/><path d="M20,60 C30,100 20,160 10,220" stroke="#a03a9b" stroke-width="8.0" transform="translate(0,0)"/><path d="M20,60 C30,100 20,160 10,220" stroke="#45bdcc" stroke-width="8.0" transform="translate(11,7)"/><path d="M20,60 C30,100 20,160 10,220" stroke="#57ba48" stroke-width="8.0" transform="translate(-9,10)"/><polygon points="80,0 150,0 155,60 90,72" fill="#a03a9b" stroke="none" opacity="1"/><polygon points="110,40 170,35 175,65 115,70" fill="#57ba48" stroke="none" opacity="1"/><polygon points="90,100 150,95 160,140 100,150" fill="#45bdcc" stroke="none" opacity="0.8"/><polygon points="90,262 152,262 150,315 95,312" fill="#45bdcc" stroke="none" opacity="1"/><polygon points="160,300 222,300 220,345 165,345" fill="#45bdcc" stroke="none" opacity="1"/><polygon points="220,340 282,342 280,392 225,390" fill="#45bdcc" stroke="none" opacity="1"/><polygon points="70,190 160,170 250,230 332,280 342,362 302,387 242,352 182,322 122,302 92,262" fill="#a03a9b" stroke="none" opacity="1"/><polygon points="120,240 150,250 150,300 125,300" fill="#57ba48" stroke="none" opacity="0.9"/><polygon points="190,280 215,285 215,330 192,330" fill="#57ba48" stroke="none" opacity="0.9"/><polygon points="250,320 275,325 275,370 250,370" fill="#57ba48" stroke="none" opacity="0.9"/><polygon points="290,222 370,197 432,212 452,312 422,322 362,282 302,262" fill="#57ba48" stroke="none" opacity="1"/><polygon points="330,230 370,220 380,280 340,270" fill="#3ea83c" stroke="none" opacity="0.9"/></g><line x1="529.7" y1="161.3" x2="504.4" y2="157.5" stroke="#62c253" stroke-width="2.2" opacity="0.9"/><line x1="525.9" y1="172.5" x2="504.4" y2="157.5" stroke="#62c253" stroke-width="2.2" opacity="0.9"/><line x1="517.7" y1="181.0" x2="504.4" y2="157.5" stroke="#62c253" stroke-width="2.2" opacity="0.9"/><line x1="506.6" y1="185.0" x2="504.4" y2="157.5" stroke="#62c253" stroke-width="2.2" opacity="0.9"/><line x1="494.9" y1="183.8" x2="504.4" y2="157.5" stroke="#62c253" stroke-width="2.2" opacity="0.9"/><line x1="484.8" y1="177.7" x2="504.4" y2="157.5" stroke="#62c253" stroke-width="2.2" opacity="0.9"/><line x1="478.4" y1="167.8" x2="504.4" y2="157.5" stroke="#62c253" stroke-width="2.2" opacity="0.9"/><line x1="476.9" y1="156.1" x2="504.4" y2="157.5" stroke="#62c253" stroke-width="2.2" opacity="0.9"/><line x1="480.7" y1="144.9" x2="504.4" y2="157.5" stroke="#62c253" stroke-width="2.2" opacity="0.9"/><line x1="488.9" y1="136.4" x2="504.4" y2="157.5" stroke="#62c253" stroke-width="2.2" opacity="0.9"/><line x1="500.0" y1="132.4" x2="504.4" y2="157.5" stroke="#62c253" stroke-width="2.2" opacity="0.9"/><line x1="511.7" y1="133.6" x2="504.4" y2="157.5" stroke="#62c253" stroke-width="2.2" opacity="0.9"/><line x1="521.8" y1="139.7" x2="504.4" y2="157.5" stroke="#62c253" stroke-width="2.2" opacity="0.9"/><line x1="528.2" y1="149.6" x2="504.4" y2="157.5" stroke="#62c253" stroke-width="2.2" opacity="0.9"/><line x1="526.8" y1="167.3" x2="504.4" y2="157.5" stroke="#8dd57f" stroke-width="1.5" opacity="0.85"/><line x1="513.8" y1="181.4" x2="504.4" y2="157.5" stroke="#8dd57f" stroke-width="1.5" opacity="0.85"/><line x1="494.7" y1="182.2" x2="504.4" y2="157.5" stroke="#8dd57f" stroke-width="1.5" opacity="0.85"/><line x1="480.6" y1="169.2" x2="504.4" y2="157.5" stroke="#8dd57f" stroke-width="1.5" opacity="0.85"/><line x1="479.8" y1="150.1" x2="504.4" y2="157.5" stroke="#8dd57f" stroke-width="1.5" opacity="0.85"/><line x1="492.8" y1="136.0" x2="504.4" y2="157.5" stroke="#8dd57f" stroke-width="1.5" opacity="0.85"/><line x1="511.9" y1="135.2" x2="504.4" y2="157.5" stroke="#8dd57f" stroke-width="1.5" opacity="0.85"/><line x1="526.0" y1="148.2" x2="504.4" y2="157.5" stroke="#8dd57f" stroke-width="1.5" opacity="0.85"/><circle cx="504.4" cy="157.5" r="2.2" fill="#ffffff" opacity="0.75"/><ellipse cx="503.3" cy="158.7" rx="28.6" ry="28.0" fill="none" stroke="#57ba48" stroke-width="2.6"/><ellipse cx="503.8" cy="159.5" rx="27.2" ry="26.8" fill="none" stroke="#3ea83c" stroke-width="2.2"/><ellipse cx="502.8" cy="159.2" rx="29.8" ry="29.2" fill="none" stroke="#46b03f" stroke-width="1.8"/><ellipse cx="504.3" cy="160.2" rx="26.0" ry="25.6" fill="none" stroke="#5fc051" stroke-width="1.6"/><ellipse cx="503.3" cy="158.2" rx="30.4" ry="29.8" fill="none" stroke="#62c054" stroke-width="1.2"/><ellipse cx="502.3" cy="159.7" rx="28.0" ry="27.6" fill="none" stroke="#3fa53a" stroke-width="1.4"/>
<text x="270.30" y="8.00" font-size="15.5" text-anchor="start" fill="#111" font-weight="bold" >c</text>
<text x="282.90" y="25.80" font-size="11.0" text-anchor="start" fill="#3a3a3a" font-weight="normal" textLength="135.5" lengthAdjust="spacingAndGlyphs">RelA(C46) chimera: Green</text>
<text x="282.90" y="38.90" font-size="11.0" text-anchor="start" fill="#3a3a3a" font-weight="normal" textLength="54.1" lengthAdjust="spacingAndGlyphs">RelA: cyan</text>
<text x="282.90" y="52.00" font-size="11.0" text-anchor="start" fill="#3a3a3a" font-weight="normal" textLength="67.6" lengthAdjust="spacingAndGlyphs">Rel: magenta</text>
<text x="450.90" y="18.20" font-size="11.3" text-anchor="start" fill="#3a3a3a" font-weight="normal" textLength="32.5" lengthAdjust="spacingAndGlyphs">RHR-C</text>
<text x="372.00" y="115.80" font-size="11.0" text-anchor="start" fill="#3a3a3a" font-weight="normal" textLength="59.0" lengthAdjust="spacingAndGlyphs">Monomer A</text>
<text x="579.30" y="112.75" font-size="11.0" text-anchor="start" fill="#3a3a3a" font-weight="normal" textLength="59.0" lengthAdjust="spacingAndGlyphs">Monomer B</text>
<text x="496.50" y="207.70" font-size="11.0" text-anchor="start" fill="#3a3a3a" font-weight="normal" textLength="22.3" lengthAdjust="spacingAndGlyphs">DNA</text>
<text x="398.00" y="245.10" font-size="11.0" text-anchor="start" fill="#3a3a3a" font-weight="normal" textLength="32.3" lengthAdjust="spacingAndGlyphs">RHR-N</text>
<text x="6.00" y="277.20" font-size="15.5" text-anchor="start" fill="#111" font-weight="bold" >b</text>
<line x1="45.30" y1="285.80" x2="45.30" y2="394.00" stroke="#666" stroke-width="0.95"/>
<line x1="41.40" y1="390.40" x2="201.60" y2="390.40" stroke="#666" stroke-width="0.95"/>
<line x1="41.40" y1="342.95" x2="45.30" y2="342.95" stroke="#666" stroke-width="0.95"/>
<line x1="41.40" y1="295.50" x2="45.30" y2="295.50" stroke="#666" stroke-width="0.95"/>
<text x="36.60" y="393.60" font-size="8.8" text-anchor="end" fill="#3a3a3a" font-weight="normal" >0</text>
<text x="36.60" y="346.15" font-size="8.8" text-anchor="end" fill="#3a3a3a" font-weight="normal" >50</text>
<text x="36.60" y="298.70" font-size="8.8" text-anchor="end" fill="#3a3a3a" font-weight="normal" >100</text>
<line x1="84.28" y1="390.40" x2="84.28" y2="394.00" stroke="#666" stroke-width="0.95"/>
<line x1="123.25" y1="390.40" x2="123.25" y2="394.00" stroke="#666" stroke-width="0.95"/>
<line x1="162.22" y1="390.40" x2="162.22" y2="394.00" stroke="#666" stroke-width="0.95"/>
<line x1="201.20" y1="390.40" x2="201.20" y2="394.00" stroke="#666" stroke-width="0.95"/>
<text x="45.30" y="404.40" font-size="8.8" text-anchor="middle" fill="#3a3a3a" font-weight="normal" >0</text>
<text x="84.28" y="404.40" font-size="8.8" text-anchor="middle" fill="#3a3a3a" font-weight="normal" >5</text>
<text x="123.25" y="404.40" font-size="8.8" text-anchor="middle" fill="#3a3a3a" font-weight="normal" >10</text>
<text x="162.22" y="404.40" font-size="8.8" text-anchor="middle" fill="#3a3a3a" font-weight="normal" >15</text>
<text x="201.20" y="404.40" font-size="8.8" text-anchor="middle" fill="#3a3a3a" font-weight="normal" >20</text>
<text x="123.25" y="417.70" font-size="10.4" text-anchor="middle" fill="#3a3a3a" font-weight="normal" textLength="51" lengthAdjust="spacingAndGlyphs">Time (min)</text>
<text transform="translate(17.30,343.50) rotate(-90)" font-size="10.6" text-anchor="middle" fill="#3a3a3a" textLength="70.5" lengthAdjust="spacingAndGlyphs">Percent bound</text>
<polyline points="45.30,291.42 46.27,291.53 47.25,291.64 48.22,291.76 49.20,291.87 50.17,291.98 51.15,292.10 52.12,292.21 53.09,292.32 54.07,292.43 55.04,292.55 56.02,292.66 56.99,292.77 57.97,292.88 58.94,293.00 59.92,293.11 60.89,293.22 61.86,293.34 62.84,293.45 63.81,293.56 64.79,293.67 65.76,293.79 66.74,293.90 67.71,294.01 68.69,294.12 69.66,294.24 70.63,294.35 71.61,294.46 72.58,294.57 73.56,294.69 74.53,294.80 75.51,294.91 76.48,295.03 77.45,295.14 78.43,295.25 79.40,295.36 80.38,295.48 81.35,295.59 82.33,295.70 83.30,295.81 84.28,295.93 85.25,296.04 86.22,296.15 87.20,296.27 88.17,296.38 89.15,296.49 90.12,296.60 91.10,296.72 92.07,296.83 93.04,296.94 94.02,297.05 94.99,297.17 95.97,297.28 96.94,297.39 97.92,297.50 98.89,297.62 99.86,297.73 100.84,297.84 101.81,297.96 102.79,298.07 103.76,298.18 104.74,298.29 105.71,298.41 106.69,298.52 107.66,298.63 108.63,298.74 109.61,298.86 110.58,298.97 111.56,299.08 112.53,299.20 113.51,299.31 114.48,299.42 115.45,299.53 116.43,299.65 117.40,299.76 118.38,299.87 119.35,299.98 120.33,300.10 121.30,300.21 122.28,300.32 123.25,300.43 124.22,300.55 125.20,300.66 126.17,300.77 127.15,300.89 128.12,301.00 129.10,301.11 130.07,301.22 131.05,301.34 132.02,301.45 132.99,301.56 133.97,301.67 134.94,301.79 135.92,301.90 136.89,302.01 137.87,302.13 138.84,302.24 139.81,302.35 140.79,302.46 141.76,302.58 142.74,302.69 143.71,302.80 144.69,302.91 145.66,303.03 146.63,303.14 147.61,303.25 148.58,303.36 149.56,303.48 150.53,303.59 151.51,303.70 152.48,303.82 153.46,303.93 154.43,304.04 155.40,304.15 156.38,304.27 157.35,304.38 158.33,304.49 159.30,304.60 160.28,304.72 161.25,304.83 162.22,304.94 163.20,305.06 164.17,305.17 165.15,305.28 166.12,305.39 167.10,305.51 168.07,305.62 169.05,305.73 170.02,305.84 170.99,305.96 171.97,306.07 172.94,306.18 173.92,306.29 174.89,306.41 175.87,306.52 176.84,306.63 177.81,306.75 178.79,306.86 179.76,306.97 180.74,307.08 181.71,307.20 182.69,307.31 183.66,307.42 184.64,307.53 185.61,307.65 186.58,307.76 187.56,307.87 188.53,307.99 189.51,308.10 190.48,308.21 191.46,308.32 192.43,308.44 193.40,308.55 194.38,308.66 195.35,308.77 196.33,308.89 197.30,309.00 198.28,309.11 199.25,309.22 200.23,309.34 201.20,309.45" fill="none" stroke="#a9d08a" stroke-width="0.85"/>
<line x1="53.09" y1="298.35" x2="53.09" y2="286.01" stroke="#a9d08a" stroke-width="0.85"/>
<line x1="50.89" y1="298.35" x2="55.30" y2="298.35" stroke="#a9d08a" stroke-width="0.85"/>
<line x1="50.89" y1="286.01" x2="55.30" y2="286.01" stroke="#a9d08a" stroke-width="0.85"/>
<line x1="84.28" y1="298.35" x2="84.28" y2="289.81" stroke="#a9d08a" stroke-width="0.85"/>
<line x1="82.08" y1="298.35" x2="86.48" y2="298.35" stroke="#a9d08a" stroke-width="0.85"/>
<line x1="82.08" y1="289.81" x2="86.48" y2="289.81" stroke="#a9d08a" stroke-width="0.85"/>
<line x1="123.25" y1="308.79" x2="123.25" y2="294.55" stroke="#a9d08a" stroke-width="0.85"/>
<line x1="121.05" y1="308.79" x2="125.45" y2="308.79" stroke="#a9d08a" stroke-width="0.85"/>
<line x1="121.05" y1="294.55" x2="125.45" y2="294.55" stroke="#a9d08a" stroke-width="0.85"/>
<line x1="201.20" y1="322.07" x2="201.20" y2="301.19" stroke="#a9d08a" stroke-width="0.85"/>
<line x1="199.00" y1="322.07" x2="203.40" y2="322.07" stroke="#a9d08a" stroke-width="0.85"/>
<line x1="199.00" y1="301.19" x2="203.40" y2="301.19" stroke="#a9d08a" stroke-width="0.85"/>
<polyline points="45.30,295.50 46.27,304.77 47.25,312.98 48.22,320.24 49.20,326.67 50.17,332.36 51.15,337.40 52.12,341.86 53.09,345.80 54.07,349.29 55.04,352.38 56.02,355.11 56.99,357.53 57.97,359.68 58.94,361.57 59.92,363.25 60.89,364.73 61.86,366.05 62.84,367.21 63.81,368.24 64.79,369.15 65.76,369.96 66.74,370.67 67.71,371.30 68.69,371.86 69.66,372.36 70.63,372.79 71.61,373.18 72.58,373.52 73.56,373.83 74.53,374.10 75.51,374.33 76.48,374.55 77.45,374.73 78.43,374.90 79.40,375.04 80.38,375.17 81.35,375.29 82.33,375.39 83.30,375.48 84.28,375.56 85.25,375.63 86.22,375.69 87.20,375.74 88.17,375.79 89.15,375.83 90.12,375.87 91.10,375.91 92.07,375.94 93.04,375.96 94.02,375.99 94.99,376.01 95.97,376.02 96.94,376.04 97.92,376.05 98.89,376.07 99.86,376.08 100.84,376.09 101.81,376.10 102.79,376.11 103.76,376.11 104.74,376.12 105.71,376.12 106.69,376.13 107.66,376.13 108.63,376.14 109.61,376.14 110.58,376.14 111.56,376.15 112.53,376.15 113.51,376.15 114.48,376.15 115.45,376.15 116.43,376.15 117.40,376.16 118.38,376.16 119.35,376.16 120.33,376.16 121.30,376.16 122.28,376.16 123.25,376.16 124.22,376.16 125.20,376.16 126.17,376.16 127.15,376.16 128.12,376.16 129.10,376.16 130.07,376.16 131.05,376.16 132.02,376.16 132.99,376.16 133.97,376.16 134.94,376.16 135.92,376.16 136.89,376.16 137.87,376.16 138.84,376.16 139.81,376.16 140.79,376.16 141.76,376.16 142.74,376.16 143.71,376.16 144.69,376.16 145.66,376.16 146.63,376.16 147.61,376.16 148.58,376.16 149.56,376.16 150.53,376.16 151.51,376.16 152.48,376.16 153.46,376.16 154.43,376.16 155.40,376.16 156.38,376.16 157.35,376.16 158.33,376.16 159.30,376.16 160.28,376.16 161.25,376.16 162.22,376.16 163.20,376.16 164.17,376.16 165.15,376.16 166.12,376.16 167.10,376.16 168.07,376.16 169.05,376.16 170.02,376.16 170.99,376.16 171.97,376.16 172.94,376.16 173.92,376.16 174.89,376.16 175.87,376.16 176.84,376.16 177.81,376.16 178.79,376.16 179.76,376.16 180.74,376.16 181.71,376.16 182.69,376.16 183.66,376.16 184.64,376.16 185.61,376.16 186.58,376.16 187.56,376.16 188.53,376.16 189.51,376.16 190.48,376.16 191.46,376.16 192.43,376.16 193.40,376.16 194.38,376.16 195.35,376.16 196.33,376.16 197.30,376.16 198.28,376.16 199.25,376.16 200.23,376.16 201.20,376.16" fill="none" stroke="#6cc8ec" stroke-width="0.85"/>
<line x1="53.09" y1="373.32" x2="53.09" y2="317.33" stroke="#6cc8ec" stroke-width="0.85"/>
<line x1="50.89" y1="373.32" x2="55.30" y2="373.32" stroke="#6cc8ec" stroke-width="0.85"/>
<line x1="50.89" y1="317.33" x2="55.30" y2="317.33" stroke="#6cc8ec" stroke-width="0.85"/>
<line x1="84.28" y1="385.65" x2="84.28" y2="353.39" stroke="#6cc8ec" stroke-width="0.85"/>
<line x1="82.08" y1="385.65" x2="86.48" y2="385.65" stroke="#6cc8ec" stroke-width="0.85"/>
<line x1="82.08" y1="353.39" x2="86.48" y2="353.39" stroke="#6cc8ec" stroke-width="0.85"/>
<line x1="123.25" y1="384.71" x2="123.25" y2="373.32" stroke="#6cc8ec" stroke-width="0.85"/>
<line x1="121.05" y1="384.71" x2="125.45" y2="384.71" stroke="#6cc8ec" stroke-width="0.85"/>
<line x1="121.05" y1="373.32" x2="125.45" y2="373.32" stroke="#6cc8ec" stroke-width="0.85"/>
<rect x="43.05" y="293.25" width="4.5" height="4.5" fill="#27aae1"/>
<rect x="50.84" y="343.55" width="4.5" height="4.5" fill="#27aae1"/>
<rect x="82.03" y="367.27" width="4.5" height="4.5" fill="#27aae1"/>
<rect x="121.00" y="376.76" width="4.5" height="4.5" fill="#27aae1"/>
<rect x="198.95" y="380.56" width="4.5" height="4.5" fill="#27aae1"/>
<circle cx="45.30" cy="295.50" r="2.25" fill="#8cc163"/>
<circle cx="53.09" cy="289.81" r="2.25" fill="#8cc163"/>
<circle cx="84.28" cy="294.08" r="2.25" fill="#8cc163"/>
<circle cx="123.25" cy="302.14" r="2.25" fill="#8cc163"/>
<circle cx="201.20" cy="311.63" r="2.25" fill="#8cc163"/>
<line x1="137.20" y1="274.50" x2="148.80" y2="274.50" stroke="#a9d08a" stroke-width="0.85"/>
<circle cx="143.00" cy="274.50" r="2.25" fill="#8cc163"/>
<text x="151.90" y="277.70" font-size="8.7" text-anchor="start" fill="#3a3a3a" font-weight="normal" >Human Rel</text>
<line x1="137.20" y1="288.80" x2="148.80" y2="288.80" stroke="#6cc8ec" stroke-width="0.85"/>
<rect x="140.75" y="286.55" width="4.5" height="4.5" fill="#27aae1"/>
<text x="151.90" y="292.00" font-size="8.7" text-anchor="start" fill="#3a3a3a" font-weight="normal" >Human RelA</text>
<line x1="273.20" y1="285.30" x2="273.20" y2="393.30" stroke="#666" stroke-width="0.95"/>
<line x1="269.30" y1="389.70" x2="429.90" y2="389.70" stroke="#b8b8b8" stroke-width="1.6"/>
<line x1="269.30" y1="342.35" x2="273.20" y2="342.35" stroke="#666" stroke-width="0.95"/>
<line x1="269.30" y1="295.00" x2="273.20" y2="295.00" stroke="#666" stroke-width="0.95"/>
<text x="264.50" y="392.90" font-size="8.8" text-anchor="end" fill="#3a3a3a" font-weight="normal" >0</text>
<text x="264.50" y="345.55" font-size="8.8" text-anchor="end" fill="#3a3a3a" font-weight="normal" >50</text>
<text x="264.50" y="298.20" font-size="8.8" text-anchor="end" fill="#3a3a3a" font-weight="normal" >100</text>
<line x1="312.27" y1="389.70" x2="312.27" y2="393.30" stroke="#666" stroke-width="0.95"/>
<line x1="351.35" y1="389.70" x2="351.35" y2="393.30" stroke="#666" stroke-width="0.95"/>
<line x1="390.43" y1="389.70" x2="390.43" y2="393.30" stroke="#666" stroke-width="0.95"/>
<line x1="429.50" y1="389.70" x2="429.50" y2="393.30" stroke="#666" stroke-width="0.95"/>
<text x="273.20" y="403.70" font-size="8.8" text-anchor="middle" fill="#3a3a3a" font-weight="normal" >0</text>
<text x="312.27" y="403.70" font-size="8.8" text-anchor="middle" fill="#3a3a3a" font-weight="normal" >5</text>
<text x="351.35" y="403.70" font-size="8.8" text-anchor="middle" fill="#3a3a3a" font-weight="normal" >10</text>
<text x="390.43" y="403.70" font-size="8.8" text-anchor="middle" fill="#3a3a3a" font-weight="normal" >15</text>
<text x="429.50" y="403.70" font-size="8.8" text-anchor="middle" fill="#3a3a3a" font-weight="normal" >20</text>
<text x="351.35" y="417.00" font-size="10.4" text-anchor="middle" fill="#3a3a3a" font-weight="normal" textLength="51" lengthAdjust="spacingAndGlyphs">Time (min)</text>
<text transform="translate(244.50,342.60) rotate(-90)" font-size="10.6" text-anchor="middle" fill="#3a3a3a" textLength="76" lengthAdjust="spacingAndGlyphs">Percenta bound</text>
<polyline points="273.20,295.00 274.18,295.46 275.15,295.92 276.13,296.38 277.11,296.83 278.08,297.28 279.06,297.73 280.04,298.18 281.01,298.62 281.99,299.06 282.97,299.50 283.95,299.94 284.92,300.37 285.90,300.80 286.88,301.23 287.85,301.65 288.83,302.07 289.81,302.49 290.78,302.91 291.76,303.32 292.74,303.73 293.71,304.14 294.69,304.55 295.67,304.96 296.64,305.36 297.62,305.76 298.60,306.15 299.58,306.55 300.55,306.94 301.53,307.33 302.51,307.72 303.48,308.10 304.46,308.48 305.44,308.86 306.41,309.24 307.39,309.62 308.37,309.99 309.34,310.36 310.32,310.73 311.30,311.10 312.27,311.46 313.25,311.82 314.23,312.18 315.21,312.54 316.18,312.90 317.16,313.25 318.14,313.60 319.11,313.95 320.09,314.30 321.07,314.64 322.04,314.99 323.02,315.33 324.00,315.66 324.97,316.00 325.95,316.34 326.93,316.67 327.90,317.00 328.88,317.33 329.86,317.65 330.84,317.98 331.81,318.30 332.79,318.62 333.77,318.94 334.74,319.25 335.72,319.57 336.70,319.88 337.67,320.19 338.65,320.50 339.63,320.81 340.60,321.11 341.58,321.42 342.56,321.72 343.53,322.02 344.51,322.31 345.49,322.61 346.47,322.90 347.44,323.20 348.42,323.49 349.40,323.78 350.37,324.06 351.35,324.35 352.33,324.63 353.30,324.91 354.28,325.19 355.26,325.47 356.23,325.75 357.21,326.02 358.19,326.30 359.16,326.57 360.14,326.84 361.12,327.10 362.10,327.37 363.07,327.64 364.05,327.90 365.03,328.16 366.00,328.42 366.98,328.68 367.96,328.94 368.93,329.19 369.91,329.45 370.89,329.70 371.86,329.95 372.84,330.20 373.82,330.45 374.79,330.69 375.77,330.94 376.75,331.18 377.73,331.42 378.70,331.66 379.68,331.90 380.66,332.14 381.63,332.37 382.61,332.61 383.59,332.84 384.56,333.07 385.54,333.30 386.52,333.53 387.49,333.76 388.47,333.98 389.45,334.21 390.43,334.43 391.40,334.65 392.38,334.87 393.36,335.09 394.33,335.31 395.31,335.53 396.29,335.74 397.26,335.96 398.24,336.17 399.22,336.38 400.19,336.59 401.17,336.80 402.15,337.01 403.12,337.21 404.10,337.42 405.08,337.62 406.06,337.82 407.03,338.02 408.01,338.22 408.99,338.42 409.96,338.62 410.94,338.82 411.92,339.01 412.89,339.21 413.87,339.40 414.85,339.59 415.82,339.78 416.80,339.97 417.78,340.16 418.75,340.34 419.73,340.53 420.71,340.72 421.69,340.90 422.66,341.08 423.64,341.26 424.62,341.44 425.59,341.62 426.57,341.80 427.55,341.98 428.52,342.15 429.50,342.33" fill="none" stroke="#a9d08a" stroke-width="0.85"/>
<line x1="281.01" y1="304.47" x2="281.01" y2="296.89" stroke="#a9d08a" stroke-width="0.85"/>
<line x1="278.81" y1="304.47" x2="283.21" y2="304.47" stroke="#a9d08a" stroke-width="0.85"/>
<line x1="278.81" y1="296.89" x2="283.21" y2="296.89" stroke="#a9d08a" stroke-width="0.85"/>
<line x1="312.27" y1="328.14" x2="312.27" y2="306.36" stroke="#a9d08a" stroke-width="0.85"/>
<line x1="310.07" y1="328.14" x2="314.47" y2="328.14" stroke="#a9d08a" stroke-width="0.85"/>
<line x1="310.07" y1="306.36" x2="314.47" y2="306.36" stroke="#a9d08a" stroke-width="0.85"/>
<line x1="351.35" y1="332.88" x2="351.35" y2="312.05" stroke="#a9d08a" stroke-width="0.85"/>
<line x1="349.15" y1="332.88" x2="353.55" y2="332.88" stroke="#a9d08a" stroke-width="0.85"/>
<line x1="349.15" y1="312.05" x2="353.55" y2="312.05" stroke="#a9d08a" stroke-width="0.85"/>
<line x1="429.50" y1="347.08" x2="429.50" y2="339.51" stroke="#a9d08a" stroke-width="0.85"/>
<line x1="427.30" y1="347.08" x2="431.70" y2="347.08" stroke="#a9d08a" stroke-width="0.85"/>
<line x1="427.30" y1="339.51" x2="431.70" y2="339.51" stroke="#a9d08a" stroke-width="0.85"/>
<polyline points="273.20,295.00 273.69,300.91 274.18,306.39 274.67,311.46 275.15,316.16 275.64,320.52 276.13,324.55 276.62,328.29 277.11,331.76 277.60,334.97 278.08,337.94 278.57,340.70 279.06,343.26 279.55,345.62 280.04,347.82 280.53,349.85 281.01,351.73 281.50,353.48 281.99,355.09 282.48,356.59 282.97,357.98 283.46,359.26 283.95,360.46 284.43,361.56 284.92,362.58 285.41,363.53 285.90,364.41 286.39,365.22 286.88,365.98 287.36,366.68 287.85,367.32 288.34,367.92 288.83,368.48 289.32,368.99 289.81,369.47 290.30,369.91 290.78,370.32 291.27,370.70 291.76,371.05 292.25,371.38 292.74,371.68 293.23,371.96 293.71,372.22 294.20,372.46 294.69,372.68 295.18,372.89 295.67,373.08 296.16,373.26 296.64,373.42 297.13,373.58 297.62,373.72 298.11,373.85 298.60,373.97 299.09,374.08 299.58,374.18 300.06,374.28 300.55,374.37 301.04,374.45 301.53,374.53 302.02,374.60 302.51,374.67 302.99,374.73 303.48,374.78 303.97,374.84 304.46,374.88 304.95,374.93 305.44,374.97 305.93,375.01 306.41,375.04 306.90,375.08 307.39,375.11 307.88,375.14 308.37,375.16 308.86,375.19 309.34,375.21 309.83,375.23 310.32,375.25 310.81,375.27 311.30,375.28 311.79,375.30 312.27,375.31 312.76,375.33 313.25,375.34 313.74,375.35 314.23,375.36 314.72,375.37 315.21,375.38 315.69,375.39 316.18,375.40 316.67,375.40 317.16,375.41 317.65,375.42 318.14,375.42 318.62,375.43 319.11,375.43 319.60,375.44 320.09,375.44 320.58,375.45 321.07,375.45 321.56,375.45 322.04,375.46 322.53,375.46 323.02,375.46 323.51,375.46 324.00,375.47 324.49,375.47 324.97,375.47 325.46,375.47 325.95,375.47 326.44,375.48 326.93,375.48 327.42,375.48 327.90,375.48 328.39,375.48 328.88,375.48 329.37,375.48 329.86,375.48 330.35,375.48 330.84,375.49 331.32,375.49 331.81,375.49 332.30,375.49 332.79,375.49 333.28,375.49 333.77,375.49 334.25,375.49 334.74,375.49 335.23,375.49 335.72,375.49 336.21,375.49 336.70,375.49 337.19,375.49 337.67,375.49 338.16,375.49 338.65,375.49 339.14,375.49 339.63,375.49 340.12,375.49 340.60,375.49 341.09,375.49 341.58,375.49 342.07,375.49 342.56,375.49 343.05,375.49 343.53,375.49 344.02,375.49 344.51,375.49 345.00,375.49 345.49,375.49 345.98,375.49 346.47,375.49 346.95,375.49 347.44,375.49 347.93,375.49 348.42,375.49 348.91,375.49 349.40,375.49 349.88,375.49 350.37,375.49 350.86,375.49 351.35,375.49" fill="none" stroke="#6cc8ec" stroke-width="0.85"/>
<line x1="281.01" y1="382.12" x2="281.01" y2="322.46" stroke="#6cc8ec" stroke-width="0.85"/>
<line x1="278.81" y1="382.12" x2="283.21" y2="382.12" stroke="#6cc8ec" stroke-width="0.85"/>
<line x1="278.81" y1="322.46" x2="283.21" y2="322.46" stroke="#6cc8ec" stroke-width="0.85"/>
<line x1="312.27" y1="389.70" x2="312.27" y2="352.77" stroke="#6cc8ec" stroke-width="0.85"/>
<line x1="310.07" y1="389.70" x2="314.47" y2="389.70" stroke="#6cc8ec" stroke-width="0.85"/>
<line x1="310.07" y1="352.77" x2="314.47" y2="352.77" stroke="#6cc8ec" stroke-width="0.85"/>
<line x1="351.35" y1="389.70" x2="351.35" y2="369.81" stroke="#6cc8ec" stroke-width="0.85"/>
<line x1="349.15" y1="389.70" x2="353.55" y2="389.70" stroke="#6cc8ec" stroke-width="0.85"/>
<line x1="349.15" y1="369.81" x2="353.55" y2="369.81" stroke="#6cc8ec" stroke-width="0.85"/>
<rect x="270.95" y="292.75" width="4.5" height="4.5" fill="#27aae1"/>
<rect x="278.76" y="350.52" width="4.5" height="4.5" fill="#27aae1"/>
<rect x="310.02" y="368.51" width="4.5" height="4.5" fill="#27aae1"/>
<rect x="349.10" y="377.03" width="4.5" height="4.5" fill="#27aae1"/>
<circle cx="273.20" cy="295.00" r="2.25" fill="#8cc163"/>
<circle cx="281.01" cy="300.68" r="2.25" fill="#8cc163"/>
<circle cx="312.27" cy="316.78" r="2.25" fill="#8cc163"/>
<circle cx="351.35" cy="322.46" r="2.25" fill="#8cc163"/>
<circle cx="429.50" cy="343.30" r="2.25" fill="#8cc163"/>
<line x1="366.20" y1="278.40" x2="377.80" y2="278.40" stroke="#a9d08a" stroke-width="0.85"/>
<circle cx="372.00" cy="278.40" r="2.25" fill="#8cc163"/>
<text x="382.00" y="281.60" font-size="8.7" text-anchor="start" fill="#3a3a3a" font-weight="normal" >Mouse Rel</text>
<line x1="366.20" y1="293.00" x2="377.80" y2="293.00" stroke="#6cc8ec" stroke-width="0.85"/>
<rect x="369.75" y="290.75" width="4.5" height="4.5" fill="#27aae1"/>
<text x="382.00" y="296.20" font-size="8.7" text-anchor="start" fill="#3a3a3a" font-weight="normal" >Mouse RelA</text>
<line x1="504.90" y1="285.00" x2="504.90" y2="393.20" stroke="#b0b0b0" stroke-width="1.6"/>
<line x1="501.00" y1="389.60" x2="662.00" y2="389.60" stroke="#666" stroke-width="0.95"/>
<line x1="501.00" y1="342.15" x2="504.90" y2="342.15" stroke="#666" stroke-width="0.95"/>
<line x1="501.00" y1="294.70" x2="504.90" y2="294.70" stroke="#666" stroke-width="0.95"/>
<text x="496.20" y="392.80" font-size="8.8" text-anchor="end" fill="#3a3a3a" font-weight="normal" >0</text>
<text x="496.20" y="345.35" font-size="8.8" text-anchor="end" fill="#3a3a3a" font-weight="normal" >50</text>
<text x="496.20" y="297.90" font-size="8.8" text-anchor="end" fill="#3a3a3a" font-weight="normal" >100</text>
<line x1="544.07" y1="389.60" x2="544.07" y2="393.20" stroke="#666" stroke-width="0.95"/>
<line x1="583.25" y1="389.60" x2="583.25" y2="393.20" stroke="#666" stroke-width="0.95"/>
<line x1="622.42" y1="389.60" x2="622.42" y2="393.20" stroke="#666" stroke-width="0.95"/>
<line x1="661.60" y1="389.60" x2="661.60" y2="393.20" stroke="#666" stroke-width="0.95"/>
<text x="504.90" y="403.60" font-size="8.8" text-anchor="middle" fill="#3a3a3a" font-weight="normal" >0</text>
<text x="544.07" y="403.60" font-size="8.8" text-anchor="middle" fill="#3a3a3a" font-weight="normal" >5</text>
<text x="583.25" y="403.60" font-size="8.8" text-anchor="middle" fill="#3a3a3a" font-weight="normal" >10</text>
<text x="622.42" y="403.60" font-size="8.8" text-anchor="middle" fill="#3a3a3a" font-weight="normal" >15</text>
<text x="661.60" y="403.60" font-size="8.8" text-anchor="middle" fill="#3a3a3a" font-weight="normal" >20</text>
<text x="583.25" y="416.90" font-size="10.4" text-anchor="middle" fill="#3a3a3a" font-weight="normal" textLength="51" lengthAdjust="spacingAndGlyphs">Time (min)</text>
<text transform="translate(476.80,342.30) rotate(-90)" font-size="10.6" text-anchor="middle" fill="#3a3a3a" textLength="70.5" lengthAdjust="spacingAndGlyphs">Percent bound</text>
<polyline points="504.90,292.80 505.88,292.97 506.86,293.13 507.84,293.30 508.82,293.47 509.80,293.63 510.78,293.80 511.76,293.96 512.74,294.13 513.71,294.30 514.69,294.46 515.67,294.63 516.65,294.79 517.63,294.96 518.61,295.13 519.59,295.29 520.57,295.46 521.55,295.63 522.53,295.79 523.51,295.96 524.49,296.12 525.47,296.29 526.45,296.46 527.43,296.62 528.40,296.79 529.38,296.95 530.36,297.12 531.34,297.29 532.32,297.45 533.30,297.62 534.28,297.78 535.26,297.95 536.24,298.12 537.22,298.28 538.20,298.45 539.18,298.61 540.16,298.78 541.14,298.95 542.12,299.11 543.10,299.28 544.07,299.45 545.05,299.61 546.03,299.78 547.01,299.94 547.99,300.11 548.97,300.28 549.95,300.44 550.93,300.61 551.91,300.77 552.89,300.94 553.87,301.11 554.85,301.27 555.83,301.44 556.81,301.60 557.79,301.77 558.77,301.94 559.75,302.10 560.72,302.27 561.70,302.43 562.68,302.60 563.66,302.77 564.64,302.93 565.62,303.10 566.60,303.26 567.58,303.43 568.56,303.60 569.54,303.76 570.52,303.93 571.50,304.10 572.48,304.26 573.46,304.43 574.44,304.59 575.41,304.76 576.39,304.93 577.37,305.09 578.35,305.26 579.33,305.42 580.31,305.59 581.29,305.76 582.27,305.92 583.25,306.09 584.23,306.25 585.21,306.42 586.19,306.59 587.17,306.75 588.15,306.92 589.13,307.08 590.11,307.25 591.09,307.42 592.06,307.58 593.04,307.75 594.02,307.91 595.00,308.08 595.98,308.25 596.96,308.41 597.94,308.58 598.92,308.75 599.90,308.91 600.88,309.08 601.86,309.24 602.84,309.41 603.82,309.58 604.80,309.74 605.78,309.91 606.75,310.07 607.73,310.24 608.71,310.41 609.69,310.57 610.67,310.74 611.65,310.90 612.63,311.07 613.61,311.24 614.59,311.40 615.57,311.57 616.55,311.73 617.53,311.90 618.51,312.07 619.49,312.23 620.47,312.40 621.45,312.56 622.42,312.73 623.40,312.90 624.38,313.06 625.36,313.23 626.34,313.40 627.32,313.56 628.30,313.73 629.28,313.89 630.26,314.06 631.24,314.23 632.22,314.39 633.20,314.56 634.18,314.72 635.16,314.89 636.14,315.06 637.12,315.22 638.10,315.39 639.07,315.55 640.05,315.72 641.03,315.89 642.01,316.05 642.99,316.22 643.97,316.38 644.95,316.55 645.93,316.72 646.91,316.88 647.89,317.05 648.87,317.22 649.85,317.38 650.83,317.55 651.81,317.71 652.79,317.88 653.76,318.05 654.74,318.21 655.72,318.38 656.70,318.54 657.68,318.71 658.66,318.88 659.64,319.04 660.62,319.21 661.60,319.37" fill="none" stroke="#a9d08a" stroke-width="0.85"/>
<line x1="512.74" y1="295.65" x2="512.74" y2="290.90" stroke="#a9d08a" stroke-width="0.85"/>
<line x1="510.54" y1="295.65" x2="514.94" y2="295.65" stroke="#a9d08a" stroke-width="0.85"/>
<line x1="510.54" y1="290.90" x2="514.94" y2="290.90" stroke="#a9d08a" stroke-width="0.85"/>
<line x1="544.07" y1="303.24" x2="544.07" y2="289.96" stroke="#a9d08a" stroke-width="0.85"/>
<line x1="541.87" y1="303.24" x2="546.27" y2="303.24" stroke="#a9d08a" stroke-width="0.85"/>
<line x1="541.87" y1="289.96" x2="546.27" y2="289.96" stroke="#a9d08a" stroke-width="0.85"/>
<line x1="583.25" y1="309.88" x2="583.25" y2="297.55" stroke="#a9d08a" stroke-width="0.85"/>
<line x1="581.05" y1="309.88" x2="585.45" y2="309.88" stroke="#a9d08a" stroke-width="0.85"/>
<line x1="581.05" y1="297.55" x2="585.45" y2="297.55" stroke="#a9d08a" stroke-width="0.85"/>
<line x1="661.60" y1="324.12" x2="661.60" y2="316.53" stroke="#a9d08a" stroke-width="0.85"/>
<line x1="659.40" y1="324.12" x2="663.80" y2="324.12" stroke="#a9d08a" stroke-width="0.85"/>
<line x1="659.40" y1="316.53" x2="663.80" y2="316.53" stroke="#a9d08a" stroke-width="0.85"/>
<polyline points="504.90,294.70 505.39,300.33 505.88,305.53 506.37,310.34 506.86,314.78 507.35,318.89 507.84,322.68 508.33,326.18 508.82,329.42 509.31,332.41 509.80,335.17 510.29,337.72 510.78,340.08 511.27,342.26 511.76,344.27 512.25,346.13 512.74,347.85 513.22,349.44 513.71,350.91 514.20,352.26 514.69,353.51 515.18,354.67 515.67,355.74 516.16,356.73 516.65,357.64 517.14,358.48 517.63,359.26 518.12,359.98 518.61,360.65 519.10,361.26 519.59,361.83 520.08,362.35 520.57,362.84 521.06,363.28 521.55,363.70 522.04,364.08 522.53,364.43 523.02,364.76 523.51,365.06 524.00,365.34 524.49,365.60 524.98,365.83 525.47,366.05 525.96,366.26 526.45,366.44 526.94,366.62 527.43,366.78 527.92,366.93 528.40,367.06 528.89,367.19 529.38,367.31 529.87,367.41 530.36,367.51 530.85,367.60 531.34,367.69 531.83,367.77 532.32,367.84 532.81,367.91 533.30,367.97 533.79,368.03 534.28,368.08 534.77,368.13 535.26,368.17 535.75,368.22 536.24,368.25 536.73,368.29 537.22,368.32 537.71,368.35 538.20,368.38 538.69,368.41 539.18,368.43 539.67,368.45 540.16,368.47 540.65,368.49 541.14,368.51 541.63,368.53 542.12,368.54 542.61,368.55 543.10,368.57 543.59,368.58 544.07,368.59 544.56,368.60 545.05,368.61 545.54,368.62 546.03,368.63 546.52,368.63 547.01,368.64 547.50,368.65 547.99,368.65 548.48,368.66 548.97,368.66 549.46,368.67 549.95,368.67 550.44,368.67 550.93,368.68 551.42,368.68 551.91,368.68 552.40,368.69 552.89,368.69 553.38,368.69 553.87,368.69 554.36,368.70 554.85,368.70 555.34,368.70 555.83,368.70 556.32,368.70 556.81,368.71 557.30,368.71 557.79,368.71 558.28,368.71 558.77,368.71 559.26,368.71 559.75,368.71 560.23,368.71 560.72,368.71 561.21,368.71 561.70,368.71 562.19,368.71 562.68,368.72 563.17,368.72 563.66,368.72 564.15,368.72 564.64,368.72 565.13,368.72 565.62,368.72 566.11,368.72 566.60,368.72 567.09,368.72 567.58,368.72 568.07,368.72 568.56,368.72 569.05,368.72 569.54,368.72 570.03,368.72 570.52,368.72 571.01,368.72 571.50,368.72 571.99,368.72 572.48,368.72 572.97,368.72 573.46,368.72 573.95,368.72 574.44,368.72 574.93,368.72 575.41,368.72 575.90,368.72 576.39,368.72 576.88,368.72 577.37,368.72 577.86,368.72 578.35,368.72 578.84,368.72 579.33,368.72 579.82,368.72 580.31,368.72 580.80,368.72 581.29,368.72 581.78,368.72 582.27,368.72 582.76,368.72 583.25,368.72" fill="none" stroke="#6cc8ec" stroke-width="0.85"/>
<line x1="512.74" y1="358.28" x2="512.74" y2="336.46" stroke="#6cc8ec" stroke-width="0.85"/>
<line x1="510.54" y1="358.28" x2="514.94" y2="358.28" stroke="#6cc8ec" stroke-width="0.85"/>
<line x1="510.54" y1="336.46" x2="514.94" y2="336.46" stroke="#6cc8ec" stroke-width="0.85"/>
<line x1="544.07" y1="377.26" x2="544.07" y2="356.39" stroke="#6cc8ec" stroke-width="0.85"/>
<line x1="541.87" y1="377.26" x2="546.27" y2="377.26" stroke="#6cc8ec" stroke-width="0.85"/>
<line x1="541.87" y1="356.39" x2="546.27" y2="356.39" stroke="#6cc8ec" stroke-width="0.85"/>
<line x1="583.25" y1="378.21" x2="583.25" y2="362.08" stroke="#6cc8ec" stroke-width="0.85"/>
<line x1="581.05" y1="378.21" x2="585.45" y2="378.21" stroke="#6cc8ec" stroke-width="0.85"/>
<line x1="581.05" y1="362.08" x2="585.45" y2="362.08" stroke="#6cc8ec" stroke-width="0.85"/>
<rect x="502.65" y="292.45" width="4.5" height="4.5" fill="#27aae1"/>
<rect x="510.49" y="345.59" width="4.5" height="4.5" fill="#27aae1"/>
<rect x="541.82" y="364.57" width="4.5" height="4.5" fill="#27aae1"/>
<rect x="581.00" y="368.37" width="4.5" height="4.5" fill="#27aae1"/>
<circle cx="504.90" cy="294.70" r="2.25" fill="#8cc163"/>
<circle cx="512.74" cy="292.80" r="2.25" fill="#8cc163"/>
<circle cx="544.07" cy="296.60" r="2.25" fill="#8cc163"/>
<circle cx="583.25" cy="304.19" r="2.25" fill="#8cc163"/>
<circle cx="661.60" cy="320.32" r="2.25" fill="#8cc163"/>
<line x1="606.20" y1="272.50" x2="617.80" y2="272.50" stroke="#a9d08a" stroke-width="0.85"/>
<circle cx="612.00" cy="272.50" r="2.25" fill="#8cc163"/>
<text x="622.00" y="275.70" font-size="8.7" text-anchor="start" fill="#3a3a3a" font-weight="normal" >Frog Rel</text>
<line x1="606.20" y1="287.40" x2="617.80" y2="287.40" stroke="#6cc8ec" stroke-width="0.85"/>
<rect x="609.75" y="285.15" width="4.5" height="4.5" fill="#27aae1"/>
<text x="622.00" y="290.60" font-size="8.7" text-anchor="start" fill="#3a3a3a" font-weight="normal" >Frog RelA</text>
<line x1="44.80" y1="435.40" x2="44.80" y2="542.60" stroke="#666" stroke-width="0.95"/>
<line x1="40.90" y1="539.00" x2="200.20" y2="539.00" stroke="#666" stroke-width="0.95"/>
<line x1="40.90" y1="492.05" x2="44.80" y2="492.05" stroke="#666" stroke-width="0.95"/>
<line x1="40.90" y1="445.10" x2="44.80" y2="445.10" stroke="#666" stroke-width="0.95"/>
<text x="36.10" y="542.20" font-size="8.8" text-anchor="end" fill="#3a3a3a" font-weight="normal" >0</text>
<text x="36.10" y="495.25" font-size="8.8" text-anchor="end" fill="#3a3a3a" font-weight="normal" >50</text>
<text x="36.10" y="448.30" font-size="8.8" text-anchor="end" fill="#3a3a3a" font-weight="normal" >100</text>
<line x1="83.55" y1="539.00" x2="83.55" y2="542.60" stroke="#666" stroke-width="0.95"/>
<line x1="122.30" y1="539.00" x2="122.30" y2="542.60" stroke="#666" stroke-width="0.95"/>
<line x1="161.05" y1="539.00" x2="161.05" y2="542.60" stroke="#666" stroke-width="0.95"/>
<line x1="199.80" y1="539.00" x2="199.80" y2="542.60" stroke="#666" stroke-width="0.95"/>
<text x="44.80" y="553.00" font-size="8.8" text-anchor="middle" fill="#3a3a3a" font-weight="normal" >0</text>
<text x="83.55" y="553.00" font-size="8.8" text-anchor="middle" fill="#3a3a3a" font-weight="normal" >5</text>
<text x="122.30" y="553.00" font-size="8.8" text-anchor="middle" fill="#3a3a3a" font-weight="normal" >10</text>
<text x="161.05" y="553.00" font-size="8.8" text-anchor="middle" fill="#3a3a3a" font-weight="normal" >15</text>
<text x="199.80" y="553.00" font-size="8.8" text-anchor="middle" fill="#3a3a3a" font-weight="normal" >20</text>
<text x="122.30" y="567.80" font-size="10.4" text-anchor="middle" fill="#3a3a3a" font-weight="normal" textLength="51" lengthAdjust="spacingAndGlyphs">Time (min)</text>
<text transform="translate(16.80,491.00) rotate(-90)" font-size="10.6" text-anchor="middle" fill="#3a3a3a" textLength="70.5" lengthAdjust="spacingAndGlyphs">Percent bound</text>
<polyline points="44.80,445.10 45.77,451.10 46.74,456.65 47.71,461.79 48.67,466.55 49.64,470.95 50.61,475.02 51.58,478.79 52.55,482.28 53.52,485.51 54.49,488.50 55.46,491.26 56.42,493.82 57.39,496.19 58.36,498.38 59.33,500.41 60.30,502.28 61.27,504.02 62.24,505.63 63.21,507.12 64.17,508.49 65.14,509.77 66.11,510.94 67.08,512.04 68.05,513.04 69.02,513.98 69.99,514.84 70.96,515.64 71.92,516.38 72.89,517.07 73.86,517.70 74.83,518.29 75.80,518.83 76.77,519.34 77.74,519.80 78.71,520.23 79.67,520.63 80.64,521.00 81.61,521.34 82.58,521.65 83.55,521.95 84.52,522.22 85.49,522.47 86.46,522.70 87.42,522.91 88.39,523.11 89.36,523.30 90.33,523.46 91.30,523.62 92.27,523.77 93.24,523.90 94.21,524.03 95.17,524.14 96.14,524.25 97.11,524.35 98.08,524.44 99.05,524.52 100.02,524.60 100.99,524.67 101.96,524.74 102.92,524.80 103.89,524.86 104.86,524.91 105.83,524.96 106.80,525.01 107.77,525.05 108.74,525.09 109.71,525.13 110.67,525.16 111.64,525.19 112.61,525.22 113.58,525.24 114.55,525.27 115.52,525.29 116.49,525.31 117.46,525.33 118.42,525.35 119.39,525.37 120.36,525.38 121.33,525.40 122.30,525.41 123.27,525.42 124.24,525.43 125.21,525.44 126.17,525.45 127.14,525.46 128.11,525.47 129.08,525.48 130.05,525.48 131.02,525.49 131.99,525.50 132.96,525.50 133.93,525.51 134.89,525.51 135.86,525.52 136.83,525.52 137.80,525.53 138.77,525.53 139.74,525.53 140.71,525.53 141.68,525.54 142.64,525.54 143.61,525.54 144.58,525.54 145.55,525.55 146.52,525.55 147.49,525.55 148.46,525.55 149.43,525.55 150.39,525.56 151.36,525.56 152.33,525.56 153.30,525.56 154.27,525.56 155.24,525.56 156.21,525.56 157.18,525.56 158.14,525.56 159.11,525.56 160.08,525.56 161.05,525.56 162.02,525.57 162.99,525.57 163.96,525.57 164.93,525.57 165.89,525.57 166.86,525.57 167.83,525.57 168.80,525.57 169.77,525.57 170.74,525.57 171.71,525.57 172.68,525.57 173.64,525.57 174.61,525.57 175.58,525.57 176.55,525.57 177.52,525.57 178.49,525.57 179.46,525.57 180.43,525.57 181.39,525.57 182.36,525.57 183.33,525.57 184.30,525.57 185.27,525.57 186.24,525.57 187.21,525.57 188.18,525.57 189.14,525.57 190.11,525.57 191.08,525.57 192.05,525.57 193.02,525.57 193.99,525.57 194.96,525.57 195.93,525.57 196.89,525.57 197.86,525.57 198.83,525.57 199.80,525.57" fill="none" stroke="#a9d08a" stroke-width="0.85"/>
<line x1="52.55" y1="511.77" x2="52.55" y2="456.37" stroke="#a9d08a" stroke-width="0.85"/>
<line x1="50.35" y1="511.77" x2="54.75" y2="511.77" stroke="#a9d08a" stroke-width="0.85"/>
<line x1="50.35" y1="456.37" x2="54.75" y2="456.37" stroke="#a9d08a" stroke-width="0.85"/>
<line x1="83.55" y1="531.49" x2="83.55" y2="496.75" stroke="#a9d08a" stroke-width="0.85"/>
<line x1="81.35" y1="531.49" x2="85.75" y2="531.49" stroke="#a9d08a" stroke-width="0.85"/>
<line x1="81.35" y1="496.75" x2="85.75" y2="496.75" stroke="#a9d08a" stroke-width="0.85"/>
<line x1="122.30" y1="532.43" x2="122.30" y2="516.46" stroke="#a9d08a" stroke-width="0.85"/>
<line x1="120.10" y1="532.43" x2="124.50" y2="532.43" stroke="#a9d08a" stroke-width="0.85"/>
<line x1="120.10" y1="516.46" x2="124.50" y2="516.46" stroke="#a9d08a" stroke-width="0.85"/>
<polyline points="44.80,445.10 45.77,452.20 46.74,458.70 47.71,464.63 48.67,470.05 49.64,475.01 50.61,479.54 51.58,483.68 52.55,487.46 53.52,490.92 54.49,494.08 55.46,496.97 56.42,499.61 57.39,502.02 58.36,504.23 59.33,506.24 60.30,508.08 61.27,509.77 62.24,511.30 63.21,512.71 64.17,513.99 65.14,515.17 66.11,516.24 67.08,517.22 68.05,518.12 69.02,518.94 69.99,519.69 70.96,520.37 71.92,521.00 72.89,521.57 73.86,522.09 74.83,522.57 75.80,523.00 76.77,523.40 77.74,523.77 78.71,524.10 79.67,524.41 80.64,524.68 81.61,524.94 82.58,525.17 83.55,525.38 84.52,525.58 85.49,525.75 86.46,525.92 87.42,526.06 88.39,526.20 89.36,526.32 90.33,526.44 91.30,526.54 92.27,526.63 93.24,526.72 94.21,526.80 95.17,526.87 96.14,526.94 97.11,527.00 98.08,527.05 99.05,527.10 100.02,527.15 100.99,527.19 101.96,527.23 102.92,527.27 103.89,527.30 104.86,527.33 105.83,527.35 106.80,527.38 107.77,527.40 108.74,527.42 109.71,527.44 110.67,527.46 111.64,527.47 112.61,527.49 113.58,527.50 114.55,527.51 115.52,527.52 116.49,527.53 117.46,527.54 118.42,527.55 119.39,527.56 120.36,527.56 121.33,527.57 122.30,527.58 123.27,527.58 124.24,527.59 125.21,527.59 126.17,527.60 127.14,527.60 128.11,527.60 129.08,527.61 130.05,527.61 131.02,527.61 131.99,527.61 132.96,527.62 133.93,527.62 134.89,527.62 135.86,527.62 136.83,527.62 137.80,527.62 138.77,527.62 139.74,527.63 140.71,527.63 141.68,527.63 142.64,527.63 143.61,527.63 144.58,527.63 145.55,527.63 146.52,527.63 147.49,527.63 148.46,527.63 149.43,527.63 150.39,527.63 151.36,527.63 152.33,527.63 153.30,527.63 154.27,527.63 155.24,527.64 156.21,527.64 157.18,527.64 158.14,527.64 159.11,527.64 160.08,527.64 161.05,527.64 162.02,527.64 162.99,527.64 163.96,527.64 164.93,527.64 165.89,527.64 166.86,527.64 167.83,527.64 168.80,527.64 169.77,527.64 170.74,527.64 171.71,527.64 172.68,527.64 173.64,527.64 174.61,527.64 175.58,527.64 176.55,527.64 177.52,527.64 178.49,527.64 179.46,527.64 180.43,527.64 181.39,527.64 182.36,527.64 183.33,527.64 184.30,527.64 185.27,527.64 186.24,527.64 187.21,527.64 188.18,527.64 189.14,527.64 190.11,527.64 191.08,527.64 192.05,527.64 193.02,527.64 193.99,527.64 194.96,527.64 195.93,527.64 196.89,527.64 197.86,527.64 198.83,527.64 199.80,527.64" fill="none" stroke="#6cc8ec" stroke-width="0.85"/>
<line x1="52.55" y1="495.81" x2="52.55" y2="477.50" stroke="#6cc8ec" stroke-width="0.85"/>
<line x1="50.35" y1="495.81" x2="54.75" y2="495.81" stroke="#6cc8ec" stroke-width="0.85"/>
<line x1="50.35" y1="477.50" x2="54.75" y2="477.50" stroke="#6cc8ec" stroke-width="0.85"/>
<line x1="83.55" y1="524.91" x2="83.55" y2="513.65" stroke="#6cc8ec" stroke-width="0.85"/>
<line x1="81.35" y1="524.91" x2="85.75" y2="524.91" stroke="#6cc8ec" stroke-width="0.85"/>
<line x1="81.35" y1="513.65" x2="85.75" y2="513.65" stroke="#6cc8ec" stroke-width="0.85"/>
<line x1="122.30" y1="529.61" x2="122.30" y2="525.85" stroke="#6cc8ec" stroke-width="0.85"/>
<line x1="120.10" y1="529.61" x2="124.50" y2="529.61" stroke="#6cc8ec" stroke-width="0.85"/>
<line x1="120.10" y1="525.85" x2="124.50" y2="525.85" stroke="#6cc8ec" stroke-width="0.85"/>
<rect x="42.55" y="442.85" width="4.5" height="4.5" fill="#27aae1"/>
<rect x="50.30" y="484.45" width="4.5" height="4.5" fill="#27aae1"/>
<rect x="81.30" y="517.03" width="4.5" height="4.5" fill="#27aae1"/>
<rect x="120.05" y="525.48" width="4.5" height="4.5" fill="#27aae1"/>
<rect x="197.55" y="530.46" width="4.5" height="4.5" fill="#27aae1"/>
<circle cx="44.80" cy="445.10" r="2.25" fill="#8cc163"/>
<circle cx="52.55" cy="484.54" r="2.25" fill="#8cc163"/>
<circle cx="83.55" cy="513.65" r="2.25" fill="#8cc163"/>
<circle cx="122.30" cy="524.91" r="2.25" fill="#8cc163"/>
<circle cx="199.80" cy="530.92" r="2.25" fill="#8cc163"/>
<line x1="130.60" y1="442.30" x2="142.20" y2="442.30" stroke="#a9d08a" stroke-width="0.85"/>
<circle cx="136.40" cy="442.30" r="2.25" fill="#8cc163"/>
<text x="146.60" y="445.50" font-size="8.7" text-anchor="start" fill="#3a3a3a" font-weight="normal" >Chicken Rel</text>
<line x1="130.60" y1="457.40" x2="142.20" y2="457.40" stroke="#6cc8ec" stroke-width="0.85"/>
<rect x="134.15" y="455.15" width="4.5" height="4.5" fill="#27aae1"/>
<text x="146.60" y="460.60" font-size="8.7" text-anchor="start" fill="#3a3a3a" font-weight="normal" >Chicken RelA</text>
<line x1="273.20" y1="435.00" x2="273.20" y2="542.60" stroke="#666" stroke-width="0.95"/>
<line x1="269.30" y1="539.00" x2="430.10" y2="539.00" stroke="#666" stroke-width="0.95"/>
<line x1="269.30" y1="491.85" x2="273.20" y2="491.85" stroke="#666" stroke-width="0.95"/>
<line x1="269.30" y1="444.70" x2="273.20" y2="444.70" stroke="#666" stroke-width="0.95"/>
<text x="264.50" y="542.20" font-size="8.8" text-anchor="end" fill="#3a3a3a" font-weight="normal" >0</text>
<text x="264.50" y="495.05" font-size="8.8" text-anchor="end" fill="#3a3a3a" font-weight="normal" >50</text>
<text x="264.50" y="447.90" font-size="8.8" text-anchor="end" fill="#3a3a3a" font-weight="normal" >100</text>
<line x1="312.32" y1="539.00" x2="312.32" y2="542.60" stroke="#666" stroke-width="0.95"/>
<line x1="351.45" y1="539.00" x2="351.45" y2="542.60" stroke="#666" stroke-width="0.95"/>
<line x1="390.57" y1="539.00" x2="390.57" y2="542.60" stroke="#666" stroke-width="0.95"/>
<line x1="429.70" y1="539.00" x2="429.70" y2="542.60" stroke="#666" stroke-width="0.95"/>
<text x="273.20" y="553.00" font-size="8.8" text-anchor="middle" fill="#3a3a3a" font-weight="normal" >0</text>
<text x="312.32" y="553.00" font-size="8.8" text-anchor="middle" fill="#3a3a3a" font-weight="normal" >5</text>
<text x="351.45" y="553.00" font-size="8.8" text-anchor="middle" fill="#3a3a3a" font-weight="normal" >10</text>
<text x="390.57" y="553.00" font-size="8.8" text-anchor="middle" fill="#3a3a3a" font-weight="normal" >15</text>
<text x="429.70" y="553.00" font-size="8.8" text-anchor="middle" fill="#3a3a3a" font-weight="normal" >20</text>
<text x="351.45" y="567.80" font-size="10.4" text-anchor="middle" fill="#3a3a3a" font-weight="normal" textLength="51" lengthAdjust="spacingAndGlyphs">Time (min)</text>
<text transform="translate(245.10,491.00) rotate(-90)" font-size="10.6" text-anchor="middle" fill="#3a3a3a" textLength="70.5" lengthAdjust="spacingAndGlyphs">Percent bound</text>
<polyline points="273.20,447.15 274.18,448.10 275.16,449.04 276.13,449.96 277.11,450.87 278.09,451.77 279.07,452.65 280.05,453.53 281.02,454.39 282.00,455.23 282.98,456.07 283.96,456.90 284.94,457.71 285.92,458.51 286.89,459.30 287.87,460.08 288.85,460.85 289.83,461.61 290.81,462.36 291.78,463.10 292.76,463.83 293.74,464.54 294.72,465.25 295.70,465.95 296.68,466.64 297.65,467.31 298.63,467.98 299.61,468.64 300.59,469.29 301.57,469.93 302.54,470.57 303.52,471.19 304.50,471.80 305.48,472.41 306.46,473.01 307.43,473.60 308.41,474.18 309.39,474.75 310.37,475.32 311.35,475.88 312.32,476.43 313.30,476.97 314.28,477.50 315.26,478.03 316.24,478.55 317.22,479.06 318.19,479.57 319.17,480.07 320.15,480.56 321.13,481.04 322.11,481.52 323.08,481.99 324.06,482.46 325.04,482.92 326.02,483.37 327.00,483.81 327.97,484.25 328.95,484.69 329.93,485.11 330.91,485.54 331.89,485.95 332.87,486.36 333.84,486.76 334.82,487.16 335.80,487.56 336.78,487.94 337.76,488.33 338.73,488.70 339.71,489.07 340.69,489.44 341.67,489.80 342.65,490.16 343.62,490.51 344.60,490.86 345.58,491.20 346.56,491.53 347.54,491.87 348.52,492.19 349.49,492.52 350.47,492.83 351.45,493.15 352.43,493.46 353.41,493.76 354.38,494.07 355.36,494.36 356.34,494.65 357.32,494.94 358.30,495.23 359.27,495.51 360.25,495.79 361.23,496.06 362.21,496.33 363.19,496.59 364.17,496.86 365.14,497.11 366.12,497.37 367.10,497.62 368.08,497.87 369.06,498.11 370.03,498.35 371.01,498.59 371.99,498.82 372.97,499.05 373.95,499.28 374.93,499.51 375.90,499.73 376.88,499.95 377.86,500.16 378.84,500.37 379.82,500.58 380.79,500.79 381.77,500.99 382.75,501.19 383.73,501.39 384.71,501.59 385.68,501.78 386.66,501.97 387.64,502.15 388.62,502.34 389.60,502.52 390.57,502.70 391.55,502.88 392.53,503.05 393.51,503.22 394.49,503.39 395.47,503.56 396.44,503.73 397.42,503.89 398.40,504.05 399.38,504.21 400.36,504.36 401.33,504.52 402.31,504.67 403.29,504.82 404.27,504.97 405.25,505.11 406.23,505.25 407.20,505.40 408.18,505.54 409.16,505.67 410.14,505.81 411.12,505.94 412.09,506.07 413.07,506.20 414.05,506.33 415.03,506.46 416.01,506.58 416.98,506.71 417.96,506.83 418.94,506.95 419.92,507.06 420.90,507.18 421.88,507.30 422.85,507.41 423.83,507.52 424.81,507.63 425.79,507.74 426.77,507.84 427.74,507.95 428.72,508.05 429.70,508.16" fill="none" stroke="#a9d08a" stroke-width="0.85"/>
<line x1="281.02" y1="457.90" x2="281.02" y2="452.24" stroke="#a9d08a" stroke-width="0.85"/>
<line x1="278.82" y1="457.90" x2="283.22" y2="457.90" stroke="#a9d08a" stroke-width="0.85"/>
<line x1="278.82" y1="452.24" x2="283.22" y2="452.24" stroke="#a9d08a" stroke-width="0.85"/>
<line x1="312.32" y1="483.36" x2="312.32" y2="461.67" stroke="#a9d08a" stroke-width="0.85"/>
<line x1="310.12" y1="483.36" x2="314.52" y2="483.36" stroke="#a9d08a" stroke-width="0.85"/>
<line x1="310.12" y1="461.67" x2="314.52" y2="461.67" stroke="#a9d08a" stroke-width="0.85"/>
<line x1="351.45" y1="507.88" x2="351.45" y2="466.39" stroke="#a9d08a" stroke-width="0.85"/>
<line x1="349.25" y1="507.88" x2="353.65" y2="507.88" stroke="#a9d08a" stroke-width="0.85"/>
<line x1="349.25" y1="466.39" x2="353.65" y2="466.39" stroke="#a9d08a" stroke-width="0.85"/>
<line x1="429.70" y1="518.25" x2="429.70" y2="496.56" stroke="#a9d08a" stroke-width="0.85"/>
<line x1="427.50" y1="518.25" x2="431.90" y2="518.25" stroke="#a9d08a" stroke-width="0.85"/>
<line x1="427.50" y1="496.56" x2="431.90" y2="496.56" stroke="#a9d08a" stroke-width="0.85"/>
<polyline points="273.20,448.75 274.18,450.21 275.16,451.63 276.13,453.02 277.11,454.39 278.09,455.73 279.07,457.04 280.05,458.33 281.02,459.59 282.00,460.82 282.98,462.04 283.96,463.22 284.94,464.39 285.92,465.53 286.89,466.65 287.87,467.75 288.85,468.82 289.83,469.87 290.81,470.91 291.78,471.92 292.76,472.91 293.74,473.88 294.72,474.84 295.70,475.77 296.68,476.69 297.65,477.58 298.63,478.46 299.61,479.33 300.59,480.17 301.57,481.00 302.54,481.81 303.52,482.61 304.50,483.39 305.48,484.16 306.46,484.91 307.43,485.64 308.41,486.36 309.39,487.07 310.37,487.76 311.35,488.44 312.32,489.10 313.30,489.76 314.28,490.39 315.26,491.02 316.24,491.63 317.22,492.24 318.19,492.83 319.17,493.40 320.15,493.97 321.13,494.53 322.11,495.07 323.08,495.60 324.06,496.13 325.04,496.64 326.02,497.14 327.00,497.64 327.97,498.12 328.95,498.59 329.93,499.06 330.91,499.51 331.89,499.96 332.87,500.39 333.84,500.82 334.82,501.24 335.80,501.65 336.78,502.06 337.76,502.45 338.73,502.84 339.71,503.22 340.69,503.59 341.67,503.96 342.65,504.32 343.62,504.67 344.60,505.01 345.58,505.35 346.56,505.68 347.54,506.00 348.52,506.32 349.49,506.63 350.47,506.93 351.45,507.23 352.43,507.53 353.41,507.81 354.38,508.09 355.36,508.37 356.34,508.64 357.32,508.91 358.30,509.17 359.27,509.42 360.25,509.67 361.23,509.91 362.21,510.15 363.19,510.39 364.17,510.62 365.14,510.85 366.12,511.07 367.10,511.28 368.08,511.50 369.06,511.71 370.03,511.91 371.01,512.11 371.99,512.31 372.97,512.50 373.95,512.69 374.93,512.87 375.90,513.05 376.88,513.23 377.86,513.41 378.84,513.58 379.82,513.74 380.79,513.91 381.77,514.07 382.75,514.23 383.73,514.38 384.71,514.53 385.68,514.68 386.66,514.83 387.64,514.97 388.62,515.11 389.60,515.24 390.57,515.38 391.55,515.51 392.53,515.64 393.51,515.77 394.49,515.89 395.47,516.01 396.44,516.13 397.42,516.25 398.40,516.36 399.38,516.47 400.36,516.58 401.33,516.69 402.31,516.80 403.29,516.90 404.27,517.00 405.25,517.10 406.23,517.20 407.20,517.29 408.18,517.39 409.16,517.48 410.14,517.57 411.12,517.66 412.09,517.75 413.07,517.83 414.05,517.91 415.03,517.99 416.01,518.07 416.98,518.15 417.96,518.23 418.94,518.30 419.92,518.38 420.90,518.45 421.88,518.52 422.85,518.59 423.83,518.66 424.81,518.73 425.79,518.79 426.77,518.85 427.74,518.92 428.72,518.98 429.70,519.04" fill="none" stroke="#6cc8ec" stroke-width="0.85"/>
<line x1="281.02" y1="468.27" x2="281.02" y2="463.56" stroke="#6cc8ec" stroke-width="0.85"/>
<line x1="278.82" y1="468.27" x2="283.22" y2="468.27" stroke="#6cc8ec" stroke-width="0.85"/>
<line x1="278.82" y1="463.56" x2="283.22" y2="463.56" stroke="#6cc8ec" stroke-width="0.85"/>
<line x1="312.32" y1="503.17" x2="312.32" y2="482.42" stroke="#6cc8ec" stroke-width="0.85"/>
<line x1="310.12" y1="503.17" x2="314.52" y2="503.17" stroke="#6cc8ec" stroke-width="0.85"/>
<line x1="310.12" y1="482.42" x2="314.52" y2="482.42" stroke="#6cc8ec" stroke-width="0.85"/>
<line x1="351.45" y1="511.65" x2="351.45" y2="497.51" stroke="#6cc8ec" stroke-width="0.85"/>
<line x1="349.25" y1="511.65" x2="353.65" y2="511.65" stroke="#6cc8ec" stroke-width="0.85"/>
<line x1="349.25" y1="497.51" x2="353.65" y2="497.51" stroke="#6cc8ec" stroke-width="0.85"/>
<line x1="429.70" y1="525.61" x2="429.70" y2="515.71" stroke="#6cc8ec" stroke-width="0.85"/>
<line x1="427.50" y1="525.61" x2="431.90" y2="525.61" stroke="#6cc8ec" stroke-width="0.85"/>
<line x1="427.50" y1="515.71" x2="431.90" y2="515.71" stroke="#6cc8ec" stroke-width="0.85"/>
<rect x="270.95" y="442.45" width="4.5" height="4.5" fill="#27aae1"/>
<rect x="278.77" y="463.76" width="4.5" height="4.5" fill="#27aae1"/>
<rect x="310.07" y="485.83" width="4.5" height="4.5" fill="#27aae1"/>
<rect x="349.20" y="502.80" width="4.5" height="4.5" fill="#27aae1"/>
<rect x="427.45" y="518.55" width="4.5" height="4.5" fill="#27aae1"/>
<circle cx="273.20" cy="444.70" r="2.25" fill="#8cc163"/>
<circle cx="281.02" cy="455.07" r="2.25" fill="#8cc163"/>
<circle cx="312.32" cy="472.05" r="2.25" fill="#8cc163"/>
<circle cx="351.45" cy="488.08" r="2.25" fill="#8cc163"/>
<circle cx="429.70" cy="508.07" r="2.25" fill="#8cc163"/>
<line x1="359.70" y1="442.00" x2="371.30" y2="442.00" stroke="#a9d08a" stroke-width="0.85"/>
<circle cx="365.50" cy="442.00" r="2.25" fill="#8cc163"/>
<text x="374.30" y="445.20" font-size="8.7" text-anchor="start" fill="#3a3a3a" font-weight="normal" >Zebrafish Rel</text>
<line x1="359.70" y1="456.60" x2="371.30" y2="456.60" stroke="#6cc8ec" stroke-width="0.85"/>
<rect x="363.25" y="454.35" width="4.5" height="4.5" fill="#27aae1"/>
<text x="374.30" y="459.80" font-size="8.7" text-anchor="start" fill="#3a3a3a" font-weight="normal" >Zebrafish RelA</text>
<line x1="505.50" y1="432.40" x2="505.50" y2="542.60" stroke="#666" stroke-width="0.95"/>
<line x1="501.60" y1="539.00" x2="665.90" y2="539.00" stroke="#666" stroke-width="0.95"/>
<line x1="501.60" y1="490.55" x2="505.50" y2="490.55" stroke="#666" stroke-width="0.95"/>
<line x1="501.60" y1="442.10" x2="505.50" y2="442.10" stroke="#666" stroke-width="0.95"/>
<text x="496.80" y="542.20" font-size="8.8" text-anchor="end" fill="#3a3a3a" font-weight="normal" >0</text>
<text x="496.80" y="493.75" font-size="8.8" text-anchor="end" fill="#3a3a3a" font-weight="normal" >50</text>
<text x="496.80" y="445.30" font-size="8.8" text-anchor="end" fill="#3a3a3a" font-weight="normal" >100</text>
<line x1="545.50" y1="539.00" x2="545.50" y2="542.60" stroke="#666" stroke-width="0.95"/>
<line x1="585.50" y1="539.00" x2="585.50" y2="542.60" stroke="#666" stroke-width="0.95"/>
<line x1="625.50" y1="539.00" x2="625.50" y2="542.60" stroke="#666" stroke-width="0.95"/>
<line x1="665.50" y1="539.00" x2="665.50" y2="542.60" stroke="#666" stroke-width="0.95"/>
<text x="505.50" y="553.00" font-size="8.8" text-anchor="middle" fill="#3a3a3a" font-weight="normal" >0</text>
<text x="545.50" y="553.00" font-size="8.8" text-anchor="middle" fill="#3a3a3a" font-weight="normal" >5</text>
<text x="585.50" y="553.00" font-size="8.8" text-anchor="middle" fill="#3a3a3a" font-weight="normal" >10</text>
<text x="625.50" y="553.00" font-size="8.8" text-anchor="middle" fill="#3a3a3a" font-weight="normal" >15</text>
<text x="665.50" y="553.00" font-size="8.8" text-anchor="middle" fill="#3a3a3a" font-weight="normal" >20</text>
<text x="585.50" y="567.80" font-size="10.4" text-anchor="middle" fill="#3a3a3a" font-weight="normal" textLength="51" lengthAdjust="spacingAndGlyphs">Time (min)</text>
<text transform="translate(476.80,491.00) rotate(-90)" font-size="10.6" text-anchor="middle" fill="#3a3a3a" textLength="70.5" lengthAdjust="spacingAndGlyphs">Percent bound</text>
<polyline points="505.50,448.50 506.50,449.57 507.50,450.63 508.50,451.66 509.50,452.67 510.50,453.66 511.50,454.63 512.50,455.58 513.50,456.51 514.50,457.42 515.50,458.31 516.50,459.18 517.50,460.03 518.50,460.87 519.50,461.69 520.50,462.49 521.50,463.27 522.50,464.04 523.50,464.79 524.50,465.52 525.50,466.24 526.50,466.95 527.50,467.64 528.50,468.31 529.50,468.97 530.50,469.62 531.50,470.25 532.50,470.88 533.50,471.48 534.50,472.08 535.50,472.66 536.50,473.23 537.50,473.79 538.50,474.33 539.50,474.87 540.50,475.39 541.50,475.90 542.50,476.40 543.50,476.89 544.50,477.38 545.50,477.85 546.50,478.31 547.50,478.76 548.50,479.20 549.50,479.63 550.50,480.05 551.50,480.47 552.50,480.87 553.50,481.27 554.50,481.66 555.50,482.04 556.50,482.41 557.50,482.78 558.50,483.13 559.50,483.48 560.50,483.83 561.50,484.16 562.50,484.49 563.50,484.81 564.50,485.12 565.50,485.43 566.50,485.73 567.50,486.03 568.50,486.32 569.50,486.60 570.50,486.88 571.50,487.15 572.50,487.41 573.50,487.67 574.50,487.93 575.50,488.17 576.50,488.42 577.50,488.66 578.50,488.89 579.50,489.12 580.50,489.34 581.50,489.56 582.50,489.77 583.50,489.98 584.50,490.19 585.50,490.39 586.50,490.59 587.50,490.78 588.50,490.97 589.50,491.15 590.50,491.34 591.50,491.51 592.50,491.69 593.50,491.86 594.50,492.02 595.50,492.18 596.50,492.34 597.50,492.50 598.50,492.65 599.50,492.80 600.50,492.95 601.50,493.09 602.50,493.23 603.50,493.37 604.50,493.50 605.50,493.63 606.50,493.76 607.50,493.89 608.50,494.01 609.50,494.13 610.50,494.25 611.50,494.37 612.50,494.48 613.50,494.59 614.50,494.70 615.50,494.81 616.50,494.91 617.50,495.01 618.50,495.11 619.50,495.21 620.50,495.30 621.50,495.40 622.50,495.49 623.50,495.58 624.50,495.67 625.50,495.75 626.50,495.84 627.50,495.92 628.50,496.00 629.50,496.08 630.50,496.16 631.50,496.23 632.50,496.31 633.50,496.38 634.50,496.45 635.50,496.52 636.50,496.59 637.50,496.65 638.50,496.72 639.50,496.78 640.50,496.85 641.50,496.91 642.50,496.97 643.50,497.03 644.50,497.08 645.50,497.14 646.50,497.19 647.50,497.25 648.50,497.30 649.50,497.35 650.50,497.40 651.50,497.45 652.50,497.50 653.50,497.55 654.50,497.59 655.50,497.64 656.50,497.68 657.50,497.73 658.50,497.77 659.50,497.81 660.50,497.85 661.50,497.89 662.50,497.93 663.50,497.97 664.50,498.01 665.50,498.04" fill="none" stroke="#a9d08a" stroke-width="0.85"/>
<line x1="513.50" y1="467.29" x2="513.50" y2="461.48" stroke="#a9d08a" stroke-width="0.85"/>
<line x1="511.30" y1="467.29" x2="515.70" y2="467.29" stroke="#a9d08a" stroke-width="0.85"/>
<line x1="511.30" y1="461.48" x2="515.70" y2="461.48" stroke="#a9d08a" stroke-width="0.85"/>
<line x1="545.50" y1="492.49" x2="545.50" y2="462.45" stroke="#a9d08a" stroke-width="0.85"/>
<line x1="543.30" y1="492.49" x2="547.70" y2="492.49" stroke="#a9d08a" stroke-width="0.85"/>
<line x1="543.30" y1="462.45" x2="547.70" y2="462.45" stroke="#a9d08a" stroke-width="0.85"/>
<line x1="585.50" y1="491.52" x2="585.50" y2="480.86" stroke="#a9d08a" stroke-width="0.85"/>
<line x1="583.30" y1="491.52" x2="587.70" y2="491.52" stroke="#a9d08a" stroke-width="0.85"/>
<line x1="583.30" y1="480.86" x2="587.70" y2="480.86" stroke="#a9d08a" stroke-width="0.85"/>
<line x1="665.50" y1="509.64" x2="665.50" y2="492.58" stroke="#a9d08a" stroke-width="0.85"/>
<line x1="663.30" y1="509.64" x2="667.70" y2="509.64" stroke="#a9d08a" stroke-width="0.85"/>
<line x1="663.30" y1="492.58" x2="667.70" y2="492.58" stroke="#a9d08a" stroke-width="0.85"/>
<polyline points="505.50,448.50 506.50,449.04 507.50,449.58 508.50,450.11 509.50,450.64 510.50,451.16 511.50,451.67 512.50,452.18 513.50,452.68 514.50,453.18 515.50,453.66 516.50,454.15 517.50,454.62 518.50,455.09 519.50,455.56 520.50,456.02 521.50,456.47 522.50,456.92 523.50,457.36 524.50,457.80 525.50,458.23 526.50,458.65 527.50,459.07 528.50,459.49 529.50,459.90 530.50,460.30 531.50,460.70 532.50,461.10 533.50,461.49 534.50,461.87 535.50,462.25 536.50,462.63 537.50,463.00 538.50,463.37 539.50,463.73 540.50,464.08 541.50,464.44 542.50,464.79 543.50,465.13 544.50,465.47 545.50,465.81 546.50,466.14 547.50,466.46 548.50,466.79 549.50,467.11 550.50,467.42 551.50,467.73 552.50,468.04 553.50,468.34 554.50,468.64 555.50,468.94 556.50,469.23 557.50,469.52 558.50,469.81 559.50,470.09 560.50,470.37 561.50,470.64 562.50,470.91 563.50,471.18 564.50,471.45 565.50,471.71 566.50,471.97 567.50,472.22 568.50,472.47 569.50,472.72 570.50,472.97 571.50,473.21 572.50,473.45 573.50,473.68 574.50,473.92 575.50,474.15 576.50,474.38 577.50,474.60 578.50,474.82 579.50,475.04 580.50,475.26 581.50,475.47 582.50,475.69 583.50,475.89 584.50,476.10 585.50,476.30 586.50,476.51 587.50,476.70 588.50,476.90 589.50,477.09 590.50,477.28 591.50,477.47 592.50,477.66 593.50,477.84 594.50,478.03 595.50,478.21 596.50,478.38 597.50,478.56 598.50,478.73 599.50,478.90 600.50,479.07 601.50,479.24 602.50,479.40 603.50,479.56 604.50,479.73 605.50,479.88 606.50,480.04 607.50,480.20 608.50,480.35 609.50,480.50 610.50,480.65 611.50,480.79 612.50,480.94 613.50,481.08 614.50,481.23 615.50,481.36 616.50,481.50 617.50,481.64 618.50,481.77 619.50,481.91 620.50,482.04 621.50,482.17 622.50,482.30 623.50,482.42 624.50,482.55 625.50,482.67 626.50,482.79 627.50,482.91 628.50,483.03 629.50,483.15 630.50,483.27 631.50,483.38 632.50,483.49 633.50,483.61 634.50,483.72 635.50,483.83 636.50,483.93 637.50,484.04 638.50,484.14 639.50,484.25 640.50,484.35 641.50,484.45 642.50,484.55 643.50,484.65 644.50,484.75 645.50,484.84 646.50,484.94 647.50,485.03 648.50,485.12 649.50,485.22 650.50,485.31 651.50,485.40 652.50,485.48 653.50,485.57 654.50,485.66 655.50,485.74 656.50,485.83 657.50,485.91 658.50,485.99 659.50,486.07 660.50,486.15 661.50,486.23 662.50,486.31 663.50,486.38 664.50,486.46 665.50,486.53" fill="none" stroke="#6cc8ec" stroke-width="0.85"/>
<line x1="513.50" y1="464.39" x2="513.50" y2="457.60" stroke="#6cc8ec" stroke-width="0.85"/>
<line x1="511.30" y1="464.39" x2="515.70" y2="464.39" stroke="#6cc8ec" stroke-width="0.85"/>
<line x1="511.30" y1="457.60" x2="515.70" y2="457.60" stroke="#6cc8ec" stroke-width="0.85"/>
<line x1="545.50" y1="482.80" x2="545.50" y2="450.82" stroke="#6cc8ec" stroke-width="0.85"/>
<line x1="543.30" y1="482.80" x2="547.70" y2="482.80" stroke="#6cc8ec" stroke-width="0.85"/>
<line x1="543.30" y1="450.82" x2="547.70" y2="450.82" stroke="#6cc8ec" stroke-width="0.85"/>
<line x1="585.50" y1="491.52" x2="585.50" y2="458.57" stroke="#6cc8ec" stroke-width="0.85"/>
<line x1="583.30" y1="491.52" x2="587.70" y2="491.52" stroke="#6cc8ec" stroke-width="0.85"/>
<line x1="583.30" y1="458.57" x2="587.70" y2="458.57" stroke="#6cc8ec" stroke-width="0.85"/>
<line x1="665.50" y1="508.57" x2="665.50" y2="467.29" stroke="#6cc8ec" stroke-width="0.85"/>
<line x1="663.30" y1="508.57" x2="667.70" y2="508.57" stroke="#6cc8ec" stroke-width="0.85"/>
<line x1="663.30" y1="467.29" x2="667.70" y2="467.29" stroke="#6cc8ec" stroke-width="0.85"/>
<rect x="503.25" y="439.85" width="4.5" height="4.5" fill="#27aae1"/>
<rect x="511.25" y="458.94" width="4.5" height="4.5" fill="#27aae1"/>
<rect x="543.25" y="464.07" width="4.5" height="4.5" fill="#27aae1"/>
<rect x="583.25" y="472.80" width="4.5" height="4.5" fill="#27aae1"/>
<rect x="663.25" y="485.78" width="4.5" height="4.5" fill="#27aae1"/>
<circle cx="505.50" cy="442.10" r="2.25" fill="#8cc163"/>
<circle cx="513.50" cy="464.10" r="2.25" fill="#8cc163"/>
<circle cx="545.50" cy="476.98" r="2.25" fill="#8cc163"/>
<circle cx="585.50" cy="482.80" r="2.25" fill="#8cc163"/>
<circle cx="665.50" cy="501.21" r="2.25" fill="#8cc163"/>
<line x1="604.60" y1="439.60" x2="616.20" y2="439.60" stroke="#a9d08a" stroke-width="0.85"/>
<circle cx="610.40" cy="439.60" r="2.25" fill="#8cc163"/>
<text x="619.50" y="442.80" font-size="8.7" text-anchor="start" fill="#3a3a3a" font-weight="normal" >Shark Rel</text>
<line x1="604.60" y1="454.20" x2="616.20" y2="454.20" stroke="#6cc8ec" stroke-width="0.85"/>
<rect x="608.15" y="451.95" width="4.5" height="4.5" fill="#27aae1"/>
<text x="619.50" y="457.40" font-size="8.7" text-anchor="start" fill="#3a3a3a" font-weight="normal" >Shark RelA</text>
<defs><linearGradient id="dg1" gradientUnits="userSpaceOnUse" x1="130" y1="300" x2="580" y2="452"><stop offset="0" stop-color="#49ad45" stop-opacity="1"/><stop offset="1" stop-color="#8fd08a" stop-opacity="1"/></linearGradient><linearGradient id="dg2" gradientUnits="userSpaceOnUse" x1="440" y1="240" x2="620" y2="245"><stop offset="0" stop-color="#9fd79a" stop-opacity="1"/><stop offset="1" stop-color="#6cc266" stop-opacity="1"/></linearGradient><linearGradient id="dg3" gradientUnits="userSpaceOnUse" x1="110" y1="40" x2="35" y2="230"><stop offset="0" stop-color="#4fb04a" stop-opacity="1"/><stop offset="1" stop-color="#5cb757" stop-opacity="1"/></linearGradient><linearGradient id="dg4" gradientUnits="userSpaceOnUse" x1="240" y1="20" x2="250" y2="330"><stop offset="0" stop-color="#a8dcc0" stop-opacity="1"/><stop offset="1" stop-color="#8c9ad6" stop-opacity="1"/></linearGradient><linearGradient id="dg5" gradientUnits="userSpaceOnUse" x1="290" y1="30" x2="350" y2="290"><stop offset="0" stop-color="#4db489" stop-opacity="1"/><stop offset="1" stop-color="#5b6fc8" stop-opacity="1"/></linearGradient><linearGradient id="dg6" gradientUnits="userSpaceOnUse" x1="215" y1="150" x2="150" y2="340"><stop offset="0" stop-color="#e8f3f0" stop-opacity="1"/><stop offset="1" stop-color="#a6aee0" stop-opacity="1"/></linearGradient><linearGradient id="dg7" gradientUnits="userSpaceOnUse" x1="230" y1="420" x2="200" y2="560"><stop offset="0" stop-color="#5866c4" stop-opacity="1"/><stop offset="1" stop-color="#2b8f5e" stop-opacity="1"/></linearGradient><linearGradient id="dg8" gradientUnits="userSpaceOnUse" x1="335" y1="395" x2="330" y2="640"><stop offset="0" stop-color="#6a7ccc" stop-opacity="1"/><stop offset="1" stop-color="#7fcaa8" stop-opacity="1"/></linearGradient><linearGradient id="dg9" gradientUnits="userSpaceOnUse" x1="455" y1="410" x2="455" y2="640"><stop offset="0" stop-color="#7f8ed4" stop-opacity="1"/><stop offset="1" stop-color="#a8dcc4" stop-opacity="1"/></linearGradient><linearGradient id="dg10" gradientUnits="userSpaceOnUse" x1="560" y1="440" x2="580" y2="560"><stop offset="0" stop-color="#98a5dc" stop-opacity="1"/><stop offset="1" stop-color="#b5e1d2" stop-opacity="1"/></linearGradient><linearGradient id="dg11" gradientUnits="userSpaceOnUse" x1="655" y1="435" x2="620" y2="610"><stop offset="0" stop-color="#3848b0" stop-opacity="1"/><stop offset="1" stop-color="#1f8a4e" stop-opacity="1"/></linearGradient><linearGradient id="dg12" gradientUnits="userSpaceOnUse" x1="0" y1="470" x2="318" y2="30"><stop offset="0" stop-color="#ffffff" stop-opacity="0.2"/><stop offset="1" stop-color="#e7bf93" stop-opacity="1"/></linearGradient><linearGradient id="dg13" gradientUnits="userSpaceOnUse" x1="620" y1="100" x2="370" y2="640"><stop offset="0" stop-color="#f3cfa6" stop-opacity="1"/><stop offset="1" stop-color="#fbe6d0" stop-opacity="1"/></linearGradient><linearGradient id="dg14" gradientUnits="userSpaceOnUse" x1="325" y1="60" x2="325" y2="385"><stop offset="0" stop-color="#5bb87a" stop-opacity="1"/><stop offset="1" stop-color="#5060c0" stop-opacity="1"/></linearGradient><linearGradient id="dg15" gradientUnits="userSpaceOnUse" x1="420" y1="150" x2="430" y2="400"><stop offset="0" stop-color="#1f8a4a" stop-opacity="1"/><stop offset="1" stop-color="#3a4cb4" stop-opacity="1"/></linearGradient><linearGradient id="dg16" gradientUnits="userSpaceOnUse" x1="265" y1="125" x2="225" y2="345"><stop offset="0" stop-color="#a8dcbf" stop-opacity="1"/><stop offset="1" stop-color="#6a78cc" stop-opacity="1"/></linearGradient><linearGradient id="dg17" gradientUnits="userSpaceOnUse" x1="185" y1="270" x2="105" y2="395"><stop offset="0" stop-color="#d8eef0" stop-opacity="1"/><stop offset="1" stop-color="#8e9ad8" stop-opacity="1"/></linearGradient><linearGradient id="dg18" gradientUnits="userSpaceOnUse" x1="570" y1="205" x2="545" y2="425"><stop offset="0" stop-color="#8ed3a8" stop-opacity="1"/><stop offset="1" stop-color="#5266c4" stop-opacity="1"/></linearGradient><linearGradient id="dg19" gradientUnits="userSpaceOnUse" x1="620" y1="110" x2="665" y2="405"><stop offset="0" stop-color="#5bb888" stop-opacity="1"/><stop offset="1" stop-color="#4c5ec0" stop-opacity="1"/></linearGradient><linearGradient id="dg20" gradientUnits="userSpaceOnUse" x1="105" y1="485" x2="105" y2="640"><stop offset="0" stop-color="#4458bc" stop-opacity="1"/><stop offset="1" stop-color="#2e9d85" stop-opacity="1"/></linearGradient><linearGradient id="dg21" gradientUnits="userSpaceOnUse" x1="215" y1="455" x2="230" y2="640"><stop offset="0" stop-color="#5064c2" stop-opacity="1"/><stop offset="1" stop-color="#7fc8b0" stop-opacity="1"/></linearGradient><linearGradient id="dg22" gradientUnits="userSpaceOnUse" x1="325" y1="485" x2="375" y2="630"><stop offset="0" stop-color="#4c60c0" stop-opacity="1"/><stop offset="1" stop-color="#7ed0b0" stop-opacity="1"/></linearGradient><linearGradient id="dg23" gradientUnits="userSpaceOnUse" x1="470" y1="410" x2="440" y2="490"><stop offset="0" stop-color="#9ad3b8" stop-opacity="1"/><stop offset="1" stop-color="#4c60c0" stop-opacity="1"/></linearGradient><linearGradient id="dg24" gradientUnits="userSpaceOnUse" x1="0" y1="415" x2="60" y2="430"><stop offset="0" stop-color="#5a6cc6" stop-opacity="1"/><stop offset="1" stop-color="#ffffff" stop-opacity="1"/></linearGradient><linearGradient id="dg25" gradientUnits="userSpaceOnUse" x1="555" y1="420" x2="560" y2="430"><stop offset="0" stop-color="#3a4cb4" stop-opacity="1"/><stop offset="1" stop-color="#3a4cb4" stop-opacity="1"/></linearGradient><linearGradient id="dg26" gradientUnits="userSpaceOnUse" x1="318" y1="30" x2="460" y2="150"><stop offset="0" stop-color="#7a3a06" stop-opacity="1"/><stop offset="1" stop-color="#b95b0a" stop-opacity="1"/></linearGradient><linearGradient id="dg27" gradientUnits="userSpaceOnUse" x1="318" y1="30" x2="460" y2="150"><stop offset="0" stop-color="#9a4e0c" stop-opacity="1"/><stop offset="1" stop-color="#e8821a" stop-opacity="1"/></linearGradient><linearGradient id="dg28" gradientUnits="userSpaceOnUse" x1="64" y1="818" x2="42" y2="862"><stop offset="0" stop-color="#bfa58a" stop-opacity="1"/><stop offset="1" stop-color="#ffffff" stop-opacity="0"/></linearGradient><clipPath id="dclip"><rect x="6.4" y="674.9" width="338.6" height="313.6"/></clipPath></defs><g clip-path="url(#dclip)"><g transform="translate(0,665) scale(0.25547)" fill="none" stroke-linecap="round" stroke-linejoin="round"><path d="M60,190 L65,230 L60,270 L130,275 L160,240" stroke="#bfe6ea" stroke-width="10" opacity="0.8"/><path d="M40,235 L60,230" stroke="#f3c5c8" stroke-width="10" opacity="0.8"/><path d="M100,45 L150,80 L170,150" stroke="#cfeef0" stroke-width="10" opacity="0.7"/><path d="M300,380 L320,370 M300,400 L270,420 M300,400 L330,440 L360,470 M330,420 L380,420" stroke="#d4edd2" stroke-width="10" opacity="0.9"/><path d="M360,410 L420,460" stroke="#f5dada" stroke-width="8" opacity="0.6"/><polygon points="255,240 275,232 270,262 256,262" fill="#5ab552" stroke="none" opacity="1"/><path d="M262,255 C255,280 200,300 160,320 C130,340 125,380 140,405 C170,450 230,470 300,465 C350,462 380,420 420,400 C450,390 480,410 520,440 C540,455 560,455 580,452" stroke="url(#dg1)" stroke-width="11" fill="none" stroke-linecap="round" stroke-linejoin="round"/><path d="M470,40 C470,90 465,140 455,165 C440,180 410,185 395,190" stroke="#a9dca3" stroke-width="9" opacity="1"/><path d="M360,235 L400,190 L420,185 L440,210 L460,210 M400,190 L405,175" stroke="#70cbd6" stroke-width="10" opacity="1"/><path d="M455,212 L462,212" stroke="#e46b75" stroke-width="14" opacity="1"/><path d="M440,240 C470,270 500,295 540,295 C580,295 600,260 620,245" stroke="url(#dg2)" stroke-width="9" fill="none" stroke-linecap="round" stroke-linejoin="round"/><polygon points="600,210 685,200 685,300 600,290" fill="#7ccc6e" stroke="none" opacity="1"/><polygon points="570,75 685,55 685,110 600,100" fill="#d6eed3" stroke="none" opacity="0.9"/><path d="M650,40 C640,70 645,110 670,130 L685,135" stroke="#4fae48" stroke-width="10" opacity="1"/><path d="M565,380 L570,420 L600,440 L630,430 M600,440 L610,415 L640,415" stroke="#66c9d4" stroke-width="11" opacity="1"/><path d="M570,380 L568,398" stroke="#f19ba0" stroke-width="11" opacity="1"/><path d="M655,380 L660,420 M640,430 L660,450 L685,440 M620,425 L660,455" stroke="#3b3fae" stroke-width="11" opacity="1"/><path d="M640,460 L700,560" stroke="#3b6bd0" stroke-width="4.5" stroke-dasharray="14,10"/></g><g transform="translate(170,665) scale(0.25547)" fill="none" stroke-linecap="round" stroke-linejoin="round"><path d="M0,60 C40,50 80,40 110,40" stroke="#cfead0" stroke-width="8" opacity="0.8"/><path d="M140,40 C170,70 200,60 210,40" stroke="#a3d69d" stroke-width="8" opacity="1"/><polygon points="0,40 40,40 0,60" fill="#d8efd6" stroke="none" opacity="1"/><path d="M110,40 C150,60 170,110 210,115 C250,120 270,95 300,85 C340,70 380,110 385,170 C390,230 360,285 300,315 C250,335 180,325 120,295 C80,275 50,245 35,230" stroke="url(#dg3)" stroke-width="10" fill="none" stroke-linecap="round" stroke-linejoin="round"/><polygon points="0,215 45,225 40,210 140,322 95,318 60,300 0,300" fill="#7fc97a" stroke="none" opacity="1"/><polygon points="0,230 40,240 80,290 60,300 0,300" fill="#6cbf68" stroke="none" opacity="1"/><path d="M150,440 C190,410 230,370 290,362 C330,358 360,380 385,405 C390,380 380,330 370,290" stroke="#c3e5bf" stroke-width="9" opacity="1"/><polygon points="20,430 60,400 60,410 145,408 145,475 60,475 60,480" fill="#88cf84" stroke="none" opacity="1"/><polygon points="60,410 145,408 145,430 60,430" fill="#a5dca2" stroke="none" opacity="1"/><path d="M40,468 L230,500" stroke="#4a6fd2" stroke-width="4.5" stroke-dasharray="14,10"/><path d="M40,485 L120,525" stroke="#4a6fd2" stroke-width="4.5" stroke-dasharray="14,10"/><path d="M0,510 L50,585" stroke="#4a6fd2" stroke-width="4.5" stroke-dasharray="14,10"/></g><g transform="translate(0,825) scale(0.25547)" fill="none" stroke-linecap="round" stroke-linejoin="round"><path d="M240,20 L250,330" stroke="url(#dg4)" stroke-width="12" opacity="1" stroke-linecap="round"/><path d="M290,30 L350,290" stroke="url(#dg5)" stroke-width="12" opacity="1" stroke-linecap="round"/><path d="M215,150 L150,340" stroke="url(#dg6)" stroke-width="12" opacity="1" stroke-linecap="round"/><path d="M230,420 L200,560" stroke="url(#dg7)" stroke-width="12" opacity="1" stroke-linecap="round"/><path d="M335,395 L330,640" stroke="url(#dg8)" stroke-width="12" opacity="1" stroke-linecap="round"/><path d="M455,410 L455,640" stroke="url(#dg9)" stroke-width="12" opacity="1" stroke-linecap="round"/><path d="M560,440 L580,560" stroke="url(#dg10)" stroke-width="12" opacity="1" stroke-linecap="round"/><path d="M655,435 L620,610" stroke="url(#dg11)" stroke-width="12" opacity="1" stroke-linecap="round"/><path d="M490,385 L545,380" stroke="#1f7a4a" stroke-width="14" opacity="1"/><path d="M80,350 L120,370" stroke="#2c5b7a" stroke-width="14" opacity="1"/><path d="M0,400 L0,640" stroke="#ffffff" stroke-width="2" opacity="1"/><path d="M270,0 C300,30 340,80 390,150 C420,200 440,260 465,340 C485,410 520,480 560,535 C600,590 620,620 640,650" stroke="#b95b0a" stroke-width="36" opacity="1"/><path d="M270,0 C300,30 340,80 390,150 C420,200 440,260 465,340 C485,410 520,480 560,535 C600,590 620,620 640,650" stroke="#e8821a" stroke-width="26" opacity="1"/><path d="M276,0 C306,30 346,80 396,150 C426,200 446,260 471,340 C491,410 526,480 566,535 C606,590 626,620 646,650" stroke="#f5a54a" stroke-width="6" opacity="0.8"/><path d="M25,245 C40,290 70,360 110,430 C140,490 180,560 240,650" stroke="#b95b0a" stroke-width="34" opacity="1"/><path d="M25,245 C40,290 70,360 110,430 C140,490 180,560 240,650" stroke="#e8821a" stroke-width="24" opacity="1"/><path d="M31,250 C46,295 76,365 116,435 C146,495 186,565 246,650" stroke="#f5a54a" stroke-width="5" opacity="0.8"/><path d="M25,358 C60,345 110,360 135,395 C155,430 150,480 130,515 C115,530 100,520 85,505 C70,485 55,460 25,445" stroke="#5e9a3e" stroke-width="12" opacity="1"/><path d="M690,0 L690,0" stroke="#fff" stroke-width="1" opacity="1"/></g><g transform="translate(170,825) scale(0.25547)" fill="none" stroke-linecap="round" stroke-linejoin="round"><path d="M0,470 C40,440 80,400 120,350 C170,290 225,200 272,110 C290,75 305,45 318,30" stroke="url(#dg12)" stroke-width="24" fill="none" stroke-linecap="round" stroke-linejoin="round"/><path d="M620,100 C600,160 570,230 530,320 C490,410 430,520 370,640" stroke="url(#dg13)" stroke-width="22" fill="none" stroke-linecap="round" stroke-linejoin="round"/><path d="M325,60 L325,385" stroke="url(#dg14)" stroke-width="12" opacity="1" stroke-linecap="round"/><path d="M420,150 L430,400" stroke="url(#dg15)" stroke-width="12" opacity="1" stroke-linecap="round"/><path d="M265,125 L225,345" stroke="url(#dg16)" stroke-width="12" opacity="1" stroke-linecap="round"/><path d="M185,270 L105,395" stroke="url(#dg17)" stroke-width="12" opacity="1" stroke-linecap="round"/><path d="M570,205 L545,425" stroke="url(#dg18)" stroke-width="12" opacity="1" stroke-linecap="round"/><path d="M620,110 L665,405" stroke="url(#dg19)" stroke-width="12" opacity="1" stroke-linecap="round"/><path d="M105,485 L105,640" stroke="url(#dg20)" stroke-width="12" opacity="1" stroke-linecap="round"/><path d="M215,455 L230,640" stroke="url(#dg21)" stroke-width="12" opacity="1" stroke-linecap="round"/><path d="M325,485 L375,630" stroke="url(#dg22)" stroke-width="12" opacity="1" stroke-linecap="round"/><path d="M470,410 L440,490" stroke="url(#dg23)" stroke-width="12" opacity="1" stroke-linecap="round"/><path d="M0,415 L60,430" stroke="url(#dg24)" stroke-width="12" opacity="1" stroke-linecap="round"/><path d="M555,420 L560,430" stroke="url(#dg25)" stroke-width="12" opacity="1" stroke-linecap="round"/><path d="M318,30 C336,20 358,35 390,70 C428,110 464,170 502,230 C541,300 575,380 610,460 C640,530 665,590 685,630" stroke="url(#dg26)" stroke-width="35" fill="none" stroke-linecap="round" stroke-linejoin="round"/><path d="M318,30 C336,20 358,35 390,70 C428,110 464,170 502,230 C541,300 575,380 610,460 C640,530 665,590 685,630" stroke="url(#dg27)" stroke-width="25" fill="none" stroke-linecap="round" stroke-linejoin="round"/><path d="M404,80 C440,120 478,180 517,245 C556,315 591,395 626,475 C656,545 676,600 691,632" stroke="#f5a54a" stroke-width="6" opacity="0.8"/><circle cx="620" cy="95" r="19" fill="#c81e2a"/><circle cx="614" cy="89" r="6" fill="#ee6a70"/><path d="M0,30 C40,22 100,18 165,20 C190,20 215,10 235,0" stroke="#4fae49" stroke-width="13" opacity="1"/><path d="M165,20 L170,70 L182,130 L145,170 L160,210 L150,262 L110,275" stroke="#4fae49" stroke-width="13" opacity="1"/><path d="M150,195 L165,222" stroke="#3a3fb0" stroke-width="13" opacity="1"/><path d="M105,272 L128,280" stroke="#3a3fb0" stroke-width="13" opacity="1"/><path d="M150,290 L162,312" stroke="#3a3fb0" stroke-width="13" opacity="1"/><path d="M150,262 L155,290" stroke="#4fae49" stroke-width="13" opacity="1"/><path d="M10,130 L30,210 L20,235" stroke="#a8aee0" stroke-width="12" opacity="1"/><path d="M25,60 L15,130" stroke="#c9e7c5" stroke-width="12" opacity="1"/><path d="M30,210 L45,200" stroke="#8fd08a" stroke-width="12" opacity="1"/></g><polygon points="49.9,674 88.4,674 81.4,699.4 80.2,699.2 65,693.4 53.4,691.6 43.4,689.3 45.2,681.7" fill="#55c4d1"/><polygon points="52,674 78,674 76,684 60,683 47,686 47,681" fill="#7dd3dc" opacity="0.8"/><polygon points="88.4,674 104.7,674 104.7,677 95.4,695.7 88.4,701 81.4,699.4" fill="#4cb848"/><polygon points="43.4,689.3 63.9,693.4 68.5,702.7 70,706 47,709 45.2,705 42.8,693.4" fill="#6ccad5"/><polygon points="47,709 70,706 74.4,710.9 74.4,719 65,726 55.7,728.4 51,716.7" fill="#8ccf7e"/><path d="M66,724 L67,731" stroke="#4fae49" stroke-width="2.6" stroke-linecap="round"/><path d="M64,818.5 C58,820 54,828 50,840 C47,850 44,858 40,868" stroke="url(#dg28)" stroke-width="7" fill="none" stroke-linecap="round" stroke-linejoin="round"/><path d="M62,820 C66,816.5 70,818.5 74,826 C76,830 78,833 80,836" stroke="#b95b0a" stroke-width="9" fill="none" stroke-linecap="round"/><path d="M62,820 C66,816.5 70,818.5 74,826 C76,830 78,833 80,836" stroke="#e8821a" stroke-width="6.5" fill="none" stroke-linecap="round"/><path d="M61,820 C63,817.5 66,817 68,818" stroke="#a89a8a" stroke-width="4" fill="none" stroke-linecap="round"/><polygon points="131.7,794.9 143.8,797.5 151.5,806.3 147.1,821.6 147.1,836.9 154.7,852.3 159.6,862.8 141.6,854.4 128.5,841.3 123.6,823.8 125.2,806.3" fill="#3fae35"/><polygon points="143.8,797.5 151.5,806.3 147.1,821.6 147.1,836.9 154.7,852.3 150,850 143,838 142,822 146,806" fill="#6cc760"/><polygon points="125.2,806.3 131.7,794.9 136,797 130,808 128,824 133,840 141.6,854.4 128.5,841.3 123.6,823.8" fill="#2f9a2a"/><path d="M150,822 L165,826 L172,834" stroke="#b9e2b3" stroke-width="2.6" fill="none" stroke-linecap="round" stroke-linejoin="round"/><path d="M153,814 L160,818 L168,812" stroke="#b9e2b3" stroke-width="2.6" fill="none" stroke-linecap="round" stroke-linejoin="round"/><path d="M172,842 L174,858 L170,870 L166,884 L170,895" stroke="#b9e2b3" stroke-width="2.6" fill="none" stroke-linecap="round" stroke-linejoin="round"/><path d="M180,838 L183,852 L177,862" stroke="#b9e2b3" stroke-width="2.6" fill="none" stroke-linecap="round" stroke-linejoin="round"/><path d="M205,840 L203,852" stroke="#b9e2b3" stroke-width="2.6" fill="none" stroke-linecap="round" stroke-linejoin="round"/><path d="M220,818 L228,812 L238,818 L240,830" stroke="#b9e2b3" stroke-width="2.6" fill="none" stroke-linecap="round" stroke-linejoin="round"/><path d="M160,868 L158,880 L150,888 L152,900" stroke="#b9e2b3" stroke-width="2.6" fill="none" stroke-linecap="round" stroke-linejoin="round"/><path d="M186,842 L192,860 L186,872" stroke="#b9e2b3" stroke-width="2.6" fill="none" stroke-linecap="round" stroke-linejoin="round"/><path d="M173,870 L176,880" stroke="#aab0e0" stroke-width="2.6" fill="none" stroke-linecap="round"/><path d="M150,890 L151,897" stroke="#aab0e0" stroke-width="2.6" fill="none" stroke-linecap="round"/><path d="M186,852 L188,862" stroke="#aab0e0" stroke-width="2.6" fill="none" stroke-linecap="round"/><path d="M236,822 L238,828" stroke="#aab0e0" stroke-width="2.6" fill="none" stroke-linecap="round"/><path d="M159.6,862.8 C163,856 166,848 172.3,837 C176,832 180,830.5 186,830.2 C192,829.8 200,829.5 209.5,830.4 C213,829 216,826 218.2,821.6 C219,816 216,812.8 211,812 C206,811.5 202,813 199,817" stroke="#4fae49" stroke-width="3.2" fill="none" stroke-linecap="round" stroke-linejoin="round"/><path d="M168,838 L173,836" stroke="#3a3fb0" stroke-width="3.2" stroke-linecap="round"/><path d="M211.7,830.4 L213.9,845.7 L216,858.8" stroke="#4fae49" stroke-width="3.2" fill="none" stroke-linecap="round" stroke-linejoin="round"/><path d="M208.4,810.7 L209.5,823.8 M216,808.5 L228.1,800.8" stroke="#4fae49" stroke-width="3.0" fill="none" stroke-linecap="round"/><path d="M208.4,805.2 L208.4,810.2 M228.1,795.6 L229.0,800.6" stroke="#e05a63" stroke-width="3.0" fill="none" stroke-linecap="round"/><path d="M187,826 L188,829" stroke="#c0505a" stroke-width="3" stroke-linecap="round"/><path d="M218,815 C225,812 232,814 235,820 C237,826 232,830 226,829" stroke="#a6d9a0" stroke-width="2.6" fill="none"/></g>
<text x="5.30" y="600.00" font-size="15.5" text-anchor="start" fill="#111" font-weight="bold" >d</text>
<text x="124.70" y="665.00" font-size="11.0" text-anchor="start" fill="#3a3a3a" font-weight="normal" textLength="32.5" lengthAdjust="spacingAndGlyphs">RHR-N</text>
<text x="18.40" y="761.00" font-size="11.0" text-anchor="start" fill="#3a3a3a" font-weight="normal" >L2</text>
<text x="143.70" y="757.90" font-size="11.0" text-anchor="start" fill="#3a3a3a" font-weight="normal" textLength="33.7" lengthAdjust="spacingAndGlyphs">Arg101</text>
<text x="111.30" y="826.80" font-size="11.0" text-anchor="start" fill="#3a3a3a" font-weight="normal" >L1</text>
<text x="200.60" y="854.80" font-size="11.0" text-anchor="start" fill="#3a3a3a" font-weight="normal" textLength="30.7" lengthAdjust="spacingAndGlyphs">Arg23</text>
<text x="-1.00" y="880.80" font-size="11.0" text-anchor="start" fill="#3a3a3a" font-weight="normal" textLength="22.7" lengthAdjust="spacingAndGlyphs">DNA</text>
<text x="129.80" y="875.50" font-size="11.0" text-anchor="start" fill="#3a3a3a" font-weight="normal" textLength="28.6" lengthAdjust="spacingAndGlyphs">Arg15</text>
<text x="163.10" y="897.60" font-size="11.0" text-anchor="start" fill="#3a3a3a" font-weight="normal" textLength="28.9" lengthAdjust="spacingAndGlyphs">Arg17</text>
<text x="359.20" y="599.60" font-size="15.5" text-anchor="start" fill="#111" font-weight="bold" >e</text>
<text x="400.30" y="601.20" font-size="10.8" text-anchor="start" fill="#3a3a3a" font-weight="normal" textLength="40.9" lengthAdjust="spacingAndGlyphs">RHR 101</text>
<rect x="399.9" y="602.1" width="41.6" height="0.95" fill="#3a3a3a"/>
<text x="533.60" y="601.40" font-size="10.8" text-anchor="start" fill="#3a3a3a" font-weight="normal" textLength="41.5" lengthAdjust="spacingAndGlyphs">RHR 137</text>
<rect x="533.0" y="602.3" width="42.6" height="0.95" fill="#3a3a3a"/>
<text x="386.20" y="619.00" font-size="10.8" text-anchor="start" fill="#3a3a3a" font-weight="normal" textLength="15.6" lengthAdjust="spacingAndGlyphs">Rel</text>
<text x="443.60" y="619.00" font-size="10.8" text-anchor="start" fill="#3a3a3a" font-weight="normal" textLength="23.6" lengthAdjust="spacingAndGlyphs">RelA</text>
<text x="517.00" y="619.40" font-size="10.8" text-anchor="start" fill="#3a3a3a" font-weight="normal" textLength="15.7" lengthAdjust="spacingAndGlyphs">Rel</text>
<text x="574.80" y="619.40" font-size="10.8" text-anchor="start" fill="#3a3a3a" font-weight="normal" textLength="22.9" lengthAdjust="spacingAndGlyphs">RelA</text>
<rect x="392.90" y="624.60" width="7.5" height="236.90" fill="#dba6d7"/>
<rect x="392.90" y="876.60" width="7.5" height="164.40" fill="#9fdae3"/>
<rect x="451.20" y="624.60" width="8.4" height="236.90" fill="#9fdae3"/>
<rect x="451.20" y="876.60" width="8.4" height="164.40" fill="#9fdae3"/>
<rect x="525.10" y="624.60" width="7.4" height="236.90" fill="#dba6d7"/>
<rect x="525.10" y="876.60" width="7.4" height="164.40" fill="#9fdae3"/>
<rect x="582.80" y="624.60" width="8.2" height="236.90" fill="#9fdae3"/>
<rect x="582.80" y="876.60" width="8.2" height="164.40" fill="#9fdae3"/>
<text x="377.90" y="635.50" class="mono" font-size="12.0" fill="#3c3c3c" textLength="35.6" lengthAdjust="spacingAndGlyphs">GIRCV</text>
<text x="436.50" y="635.50" class="mono" font-size="12.0" fill="#3c3c3c" textLength="35.6" lengthAdjust="spacingAndGlyphs">GIQCV</text>
<text x="510.00" y="635.50" class="mono" font-size="12.0" fill="#3c3c3c" textLength="35.6" lengthAdjust="spacingAndGlyphs">EDCDL</text>
<text x="568.60" y="635.50" class="mono" font-size="12.0" fill="#3c3c3c" textLength="35.6" lengthAdjust="spacingAndGlyphs">GDYDL</text>
<text x="611.80" y="635.50" font-size="10.6" text-anchor="start" fill="#3a3a3a" font-weight="normal" >Human</text>
<text x="377.90" y="650.26" class="mono" font-size="12.0" fill="#3c3c3c" textLength="35.6" lengthAdjust="spacingAndGlyphs">GIRCV</text>
<text x="436.50" y="650.26" class="mono" font-size="12.0" fill="#3c3c3c" textLength="35.6" lengthAdjust="spacingAndGlyphs">GIQCV</text>
<text x="510.00" y="650.26" class="mono" font-size="12.0" fill="#3c3c3c" textLength="35.6" lengthAdjust="spacingAndGlyphs">EDCDL</text>
<text x="568.60" y="650.26" class="mono" font-size="12.0" fill="#3c3c3c" textLength="35.6" lengthAdjust="spacingAndGlyphs">GDYDL</text>
<text x="611.80" y="650.26" font-size="10.6" text-anchor="start" fill="#3a3a3a" font-weight="normal" >Chimp</text>
<text x="377.90" y="665.02" class="mono" font-size="12.0" fill="#3c3c3c" textLength="35.6" lengthAdjust="spacingAndGlyphs">GIRCV</text>
<text x="436.50" y="665.02" class="mono" font-size="12.0" fill="#3c3c3c" textLength="35.6" lengthAdjust="spacingAndGlyphs">GIQCV</text>
<text x="510.00" y="665.02" class="mono" font-size="12.0" fill="#3c3c3c" textLength="35.6" lengthAdjust="spacingAndGlyphs">EDCDL</text>
<text x="568.60" y="665.02" class="mono" font-size="12.0" fill="#3c3c3c" textLength="35.6" lengthAdjust="spacingAndGlyphs">GDYDL</text>
<text x="611.80" y="665.02" font-size="10.6" text-anchor="start" fill="#3a3a3a" font-weight="normal" >Bushbaby</text>
<text x="377.90" y="679.78" class="mono" font-size="12.0" fill="#3c3c3c" textLength="35.6" lengthAdjust="spacingAndGlyphs">GIRCV</text>
<text x="436.50" y="679.78" class="mono" font-size="12.0" fill="#3c3c3c" textLength="35.6" lengthAdjust="spacingAndGlyphs">GIQCV</text>
<text x="510.00" y="679.78" class="mono" font-size="12.0" fill="#3c3c3c" textLength="35.6" lengthAdjust="spacingAndGlyphs">EDCDL</text>
<text x="568.60" y="679.78" class="mono" font-size="12.0" fill="#3c3c3c" textLength="35.6" lengthAdjust="spacingAndGlyphs">GDYDL</text>
<text x="611.80" y="679.78" font-size="10.6" text-anchor="start" fill="#3a3a3a" font-weight="normal" >Mouse</text>
<text x="377.90" y="694.54" class="mono" font-size="12.0" fill="#3c3c3c" textLength="35.6" lengthAdjust="spacingAndGlyphs">GIRCV</text>
<text x="436.50" y="694.54" class="mono" font-size="12.0" fill="#3c3c3c" textLength="35.6" lengthAdjust="spacingAndGlyphs">GIQCV</text>
<text x="510.00" y="694.54" class="mono" font-size="12.0" fill="#3c3c3c" textLength="35.6" lengthAdjust="spacingAndGlyphs">EDCDL</text>
<text x="568.60" y="694.54" class="mono" font-size="12.0" fill="#3c3c3c" textLength="35.6" lengthAdjust="spacingAndGlyphs">GDYDL</text>
<text x="611.80" y="694.54" font-size="10.6" text-anchor="start" fill="#3a3a3a" font-weight="normal" >Rat</text>
<text x="377.90" y="709.30" class="mono" font-size="12.0" fill="#3c3c3c" textLength="35.6" lengthAdjust="spacingAndGlyphs">GIRCV</text>
<text x="436.50" y="709.30" class="mono" font-size="12.0" fill="#3c3c3c" textLength="35.6" lengthAdjust="spacingAndGlyphs">GIQCV</text>
<text x="510.00" y="709.30" class="mono" font-size="12.0" fill="#3c3c3c" textLength="35.6" lengthAdjust="spacingAndGlyphs">EDCDL</text>
<text x="568.60" y="709.30" class="mono" font-size="12.0" fill="#3c3c3c" textLength="35.6" lengthAdjust="spacingAndGlyphs">GDYDL</text>
<text x="611.80" y="709.30" font-size="10.6" text-anchor="start" fill="#3a3a3a" font-weight="normal" >Naked mole rat</text>
<text x="377.90" y="724.06" class="mono" font-size="12.0" fill="#3c3c3c" textLength="35.6" lengthAdjust="spacingAndGlyphs">GIRCV</text>
<text x="436.50" y="724.06" class="mono" font-size="12.0" fill="#3c3c3c" textLength="35.6" lengthAdjust="spacingAndGlyphs">GIQCV</text>
<text x="510.00" y="724.06" class="mono" font-size="12.0" fill="#3c3c3c" textLength="35.6" lengthAdjust="spacingAndGlyphs">EDCDL</text>
<text x="568.60" y="724.06" class="mono" font-size="12.0" fill="#3c3c3c" textLength="35.6" lengthAdjust="spacingAndGlyphs">GDYDL</text>
<text x="611.80" y="724.06" font-size="10.6" text-anchor="start" fill="#3a3a3a" font-weight="normal" >Squirrel</text>
<text x="377.90" y="738.82" class="mono" font-size="12.0" fill="#3c3c3c" textLength="35.6" lengthAdjust="spacingAndGlyphs">GIRCV</text>
<text x="436.50" y="738.82" class="mono" font-size="12.0" fill="#3c3c3c" textLength="35.6" lengthAdjust="spacingAndGlyphs">GIQCV</text>
<text x="510.00" y="738.82" class="mono" font-size="12.0" fill="#3c3c3c" textLength="35.6" lengthAdjust="spacingAndGlyphs">EDCDL</text>
<text x="568.60" y="738.82" class="mono" font-size="12.0" fill="#3c3c3c" textLength="35.6" lengthAdjust="spacingAndGlyphs">GDYDL</text>
<text x="611.80" y="738.82" font-size="10.6" text-anchor="start" fill="#3a3a3a" font-weight="normal" >Dolphin</text>
<text x="377.90" y="753.58" class="mono" font-size="12.0" fill="#3c3c3c" textLength="35.6" lengthAdjust="spacingAndGlyphs">GIRCV</text>
<text x="436.50" y="753.58" class="mono" font-size="12.0" fill="#3c3c3c" textLength="35.6" lengthAdjust="spacingAndGlyphs">GIQCV</text>
<text x="510.00" y="753.58" class="mono" font-size="12.0" fill="#3c3c3c" textLength="35.6" lengthAdjust="spacingAndGlyphs">EDCDL</text>
<text x="568.60" y="753.58" class="mono" font-size="12.0" fill="#3c3c3c" textLength="35.6" lengthAdjust="spacingAndGlyphs">GDYDL</text>
<text x="611.80" y="753.58" font-size="10.6" text-anchor="start" fill="#3a3a3a" font-weight="normal" >Cow</text>
<text x="377.90" y="768.34" class="mono" font-size="12.0" fill="#3c3c3c" textLength="35.6" lengthAdjust="spacingAndGlyphs">GIRCV</text>
<text x="436.50" y="768.34" class="mono" font-size="12.0" fill="#3c3c3c" textLength="35.6" lengthAdjust="spacingAndGlyphs">GIQCV</text>
<text x="510.00" y="768.34" class="mono" font-size="12.0" fill="#3c3c3c" textLength="35.6" lengthAdjust="spacingAndGlyphs">EDCDL</text>
<text x="568.60" y="768.34" class="mono" font-size="12.0" fill="#3c3c3c" textLength="35.6" lengthAdjust="spacingAndGlyphs">GDYDL</text>
<text x="611.80" y="768.34" font-size="10.6" text-anchor="start" fill="#3a3a3a" font-weight="normal" >Cat</text>
<text x="377.90" y="783.10" class="mono" font-size="12.0" fill="#3c3c3c" textLength="35.6" lengthAdjust="spacingAndGlyphs">GIRCV</text>
<text x="436.50" y="783.10" class="mono" font-size="12.0" fill="#3c3c3c" textLength="35.6" lengthAdjust="spacingAndGlyphs">GIQCV</text>
<text x="510.00" y="783.10" class="mono" font-size="12.0" fill="#3c3c3c" textLength="35.6" lengthAdjust="spacingAndGlyphs">EDCDL</text>
<text x="568.60" y="783.10" class="mono" font-size="12.0" fill="#3c3c3c" textLength="35.6" lengthAdjust="spacingAndGlyphs">GDYDL</text>
<text x="611.80" y="783.10" font-size="10.6" text-anchor="start" fill="#3a3a3a" font-weight="normal" >Dog</text>
<text x="377.90" y="797.86" class="mono" font-size="12.0" fill="#3c3c3c" textLength="35.6" lengthAdjust="spacingAndGlyphs">GIRCV</text>
<text x="436.50" y="797.86" class="mono" font-size="12.0" fill="#3c3c3c" textLength="35.6" lengthAdjust="spacingAndGlyphs">GIQCV</text>
<text x="510.00" y="797.86" class="mono" font-size="12.0" fill="#3c3c3c" textLength="35.6" lengthAdjust="spacingAndGlyphs">EDCDL</text>
<text x="568.60" y="797.86" class="mono" font-size="12.0" fill="#3c3c3c" textLength="35.6" lengthAdjust="spacingAndGlyphs">GDYDL</text>
<text x="611.80" y="797.86" font-size="10.6" text-anchor="start" fill="#3a3a3a" font-weight="normal" >Panda</text>
<text x="377.90" y="812.62" class="mono" font-size="12.0" fill="#3c3c3c" textLength="35.6" lengthAdjust="spacingAndGlyphs">GIRCV</text>
<text x="436.50" y="812.62" class="mono" font-size="12.0" fill="#3c3c3c" textLength="35.6" lengthAdjust="spacingAndGlyphs">GIQCV</text>
<text x="510.00" y="812.62" class="mono" font-size="12.0" fill="#3c3c3c" textLength="35.6" lengthAdjust="spacingAndGlyphs">EDCDL</text>
<text x="568.60" y="812.62" class="mono" font-size="12.0" fill="#3c3c3c" textLength="35.6" lengthAdjust="spacingAndGlyphs">GDYDL</text>
<text x="611.80" y="812.62" font-size="10.6" text-anchor="start" fill="#3a3a3a" font-weight="normal" >Armadillo</text>
<text x="377.90" y="827.38" class="mono" font-size="12.0" fill="#3c3c3c" textLength="35.6" lengthAdjust="spacingAndGlyphs">GIRCV</text>
<text x="436.50" y="827.38" class="mono" font-size="12.0" fill="#3c3c3c" textLength="35.6" lengthAdjust="spacingAndGlyphs">GIQCV</text>
<text x="510.00" y="827.38" class="mono" font-size="12.0" fill="#3c3c3c" textLength="35.6" lengthAdjust="spacingAndGlyphs">EDCDL</text>
<text x="568.60" y="827.38" class="mono" font-size="12.0" fill="#3c3c3c" textLength="35.6" lengthAdjust="spacingAndGlyphs">GDYDL</text>
<text x="611.80" y="827.38" font-size="10.6" text-anchor="start" fill="#3a3a3a" font-weight="normal" >Opossum</text>
<text x="377.90" y="842.14" class="mono" font-size="12.0" fill="#3c3c3c" textLength="35.6" lengthAdjust="spacingAndGlyphs">GIRCV</text>
<text x="436.50" y="842.14" class="mono" font-size="12.0" fill="#3c3c3c" textLength="35.6" lengthAdjust="spacingAndGlyphs">GIQCV</text>
<text x="510.00" y="842.14" class="mono" font-size="12.0" fill="#3c3c3c" textLength="35.6" lengthAdjust="spacingAndGlyphs">EDCDL</text>
<text x="568.60" y="842.14" class="mono" font-size="12.0" fill="#3c3c3c" textLength="35.6" lengthAdjust="spacingAndGlyphs">GDYDL</text>
<text x="611.80" y="842.14" font-size="10.6" text-anchor="start" fill="#3a3a3a" font-weight="normal" >Wallaby</text>
<text x="377.90" y="856.90" class="mono" font-size="12.0" fill="#3c3c3c" textLength="35.6" lengthAdjust="spacingAndGlyphs">GIRCV</text>
<text x="436.50" y="856.90" class="mono" font-size="12.0" fill="#3c3c3c" textLength="35.6" lengthAdjust="spacingAndGlyphs">GIQCV</text>
<text x="510.00" y="856.90" class="mono" font-size="12.0" fill="#3c3c3c" textLength="35.6" lengthAdjust="spacingAndGlyphs">EDCDL</text>
<text x="568.60" y="856.90" class="mono" font-size="12.0" fill="#3c3c3c" textLength="35.6" lengthAdjust="spacingAndGlyphs">GDYDL</text>
<text x="611.80" y="856.90" font-size="10.6" text-anchor="start" fill="#3a3a3a" font-weight="normal" >Platypus</text>
<text x="377.90" y="887.55" class="mono" font-size="12.0" fill="#3c3c3c" textLength="35.6" lengthAdjust="spacingAndGlyphs">GIQCV</text>
<text x="436.50" y="887.55" class="mono" font-size="12.0" fill="#3c3c3c" textLength="35.6" lengthAdjust="spacingAndGlyphs">GIQCV</text>
<text x="510.00" y="887.55" class="mono" font-size="12.0" fill="#3c3c3c" textLength="35.6" lengthAdjust="spacingAndGlyphs">DEYDL</text>
<text x="568.60" y="887.55" class="mono" font-size="12.0" fill="#3c3c3c" textLength="35.6" lengthAdjust="spacingAndGlyphs">AEYDL</text>
<text x="611.80" y="887.55" font-size="10.6" text-anchor="start" fill="#3a3a3a" font-weight="normal" >Chicken</text>
<text x="377.90" y="902.26" class="mono" font-size="12.0" fill="#3c3c3c" textLength="35.6" lengthAdjust="spacingAndGlyphs">GIQCV</text>
<text x="436.50" y="902.26" class="mono" font-size="12.0" fill="#3c3c3c" textLength="35.6" lengthAdjust="spacingAndGlyphs">GIQCV</text>
<text x="510.00" y="902.26" class="mono" font-size="12.0" fill="#3c3c3c" textLength="35.6" lengthAdjust="spacingAndGlyphs">DEYDL</text>
<text x="568.60" y="902.26" class="mono" font-size="12.0" fill="#3c3c3c" textLength="35.6" lengthAdjust="spacingAndGlyphs">DEYDL</text>
<text x="611.80" y="902.26" font-size="10.6" text-anchor="start" fill="#3a3a3a" font-weight="normal" >Zebra finch</text>
<text x="377.90" y="916.98" class="mono" font-size="12.0" fill="#3c3c3c" textLength="35.6" lengthAdjust="spacingAndGlyphs">GIQCV</text>
<text x="436.50" y="916.98" class="mono" font-size="12.0" fill="#3c3c3c" textLength="35.6" lengthAdjust="spacingAndGlyphs">GIQCV</text>
<text x="510.00" y="916.98" class="mono" font-size="12.0" fill="#3c3c3c" textLength="35.6" lengthAdjust="spacingAndGlyphs">DEYDL</text>
<text x="568.60" y="916.98" class="mono" font-size="12.0" fill="#3c3c3c" textLength="35.6" lengthAdjust="spacingAndGlyphs">GDYDL</text>
<text x="611.80" y="916.98" font-size="10.6" text-anchor="start" fill="#3a3a3a" font-weight="normal" >Lizard</text>
<text x="377.90" y="931.69" class="mono" font-size="12.0" fill="#3c3c3c" textLength="35.6" lengthAdjust="spacingAndGlyphs">GIQCV</text>
<text x="436.50" y="931.69" class="mono" font-size="12.0" fill="#3c3c3c" textLength="35.6" lengthAdjust="spacingAndGlyphs">GIQCV</text>
<text x="510.00" y="931.69" class="mono" font-size="12.0" fill="#3c3c3c" textLength="35.6" lengthAdjust="spacingAndGlyphs">DEYDL</text>
<text x="568.60" y="931.69" class="mono" font-size="12.0" fill="#3c3c3c" textLength="35.6" lengthAdjust="spacingAndGlyphs">GDYDL</text>
<text x="611.80" y="931.69" font-size="10.6" text-anchor="start" fill="#3a3a3a" font-weight="normal" >Painted turtle</text>
<text x="377.90" y="946.41" class="mono" font-size="12.0" fill="#3c3c3c" textLength="35.6" lengthAdjust="spacingAndGlyphs">GIQCV</text>
<text x="436.50" y="946.41" class="mono" font-size="12.0" fill="#3c3c3c" textLength="35.6" lengthAdjust="spacingAndGlyphs">GIQCV</text>
<text x="510.00" y="946.41" class="mono" font-size="12.0" fill="#3c3c3c" textLength="35.6" lengthAdjust="spacingAndGlyphs">EDYDL</text>
<text x="568.60" y="946.41" class="mono" font-size="12.0" fill="#3c3c3c" textLength="35.6" lengthAdjust="spacingAndGlyphs">SDYDL</text>
<text x="611.80" y="946.41" font-size="10.6" text-anchor="start" fill="#3a3a3a" font-weight="normal" >Frog</text>
<text x="377.90" y="961.12" class="mono" font-size="12.0" fill="#3c3c3c" textLength="35.6" lengthAdjust="spacingAndGlyphs">GIQCV</text>
<text x="436.50" y="961.12" class="mono" font-size="12.0" fill="#3c3c3c" textLength="35.6" lengthAdjust="spacingAndGlyphs">GIQCV</text>
<text x="510.00" y="961.12" class="mono" font-size="12.0" fill="#3c3c3c" textLength="35.6" lengthAdjust="spacingAndGlyphs">EEYDL</text>
<text x="568.60" y="961.12" class="mono" font-size="12.0" fill="#3c3c3c" textLength="35.6" lengthAdjust="spacingAndGlyphs">EEYDL</text>
<text x="611.80" y="961.12" font-size="10.6" text-anchor="start" fill="#3a3a3a" font-weight="normal" >Tetradon</text>
<text x="377.90" y="975.84" class="mono" font-size="12.0" fill="#3c3c3c" textLength="35.6" lengthAdjust="spacingAndGlyphs">GIQCV</text>
<text x="436.50" y="975.84" class="mono" font-size="12.0" fill="#3c3c3c" textLength="35.6" lengthAdjust="spacingAndGlyphs">GIQCV</text>
<text x="510.00" y="975.84" class="mono" font-size="12.0" fill="#3c3c3c" textLength="35.6" lengthAdjust="spacingAndGlyphs">EEYDL</text>
<text x="568.60" y="975.84" class="mono" font-size="12.0" fill="#3c3c3c" textLength="35.6" lengthAdjust="spacingAndGlyphs">EEFDL</text>
<text x="611.80" y="975.84" font-size="10.6" text-anchor="start" fill="#3a3a3a" font-weight="normal" >Fugu</text>
<text x="377.90" y="990.55" class="mono" font-size="12.0" fill="#3c3c3c" textLength="35.6" lengthAdjust="spacingAndGlyphs">GIQCV</text>
<text x="436.50" y="990.55" class="mono" font-size="12.0" fill="#3c3c3c" textLength="35.6" lengthAdjust="spacingAndGlyphs">GIQCV</text>
<text x="510.00" y="990.55" class="mono" font-size="12.0" fill="#3c3c3c" textLength="35.6" lengthAdjust="spacingAndGlyphs">EEYDL</text>
<text x="568.60" y="990.55" class="mono" font-size="12.0" fill="#3c3c3c" textLength="35.6" lengthAdjust="spacingAndGlyphs">DDFDL</text>
<text x="611.80" y="990.55" font-size="10.6" text-anchor="start" fill="#3a3a3a" font-weight="normal" >Nile tilapia</text>
<text x="377.90" y="1005.27" class="mono" font-size="12.0" fill="#3c3c3c" textLength="35.6" lengthAdjust="spacingAndGlyphs">GIQCV</text>
<text x="436.50" y="1005.27" class="mono" font-size="12.0" fill="#3c3c3c" textLength="35.6" lengthAdjust="spacingAndGlyphs">GIQCV</text>
<text x="510.00" y="1005.27" class="mono" font-size="12.0" fill="#3c3c3c" textLength="35.6" lengthAdjust="spacingAndGlyphs">EEYDL</text>
<text x="568.60" y="1005.27" class="mono" font-size="12.0" fill="#3c3c3c" textLength="35.6" lengthAdjust="spacingAndGlyphs">EEFDL</text>
<text x="611.80" y="1005.27" font-size="10.6" text-anchor="start" fill="#3a3a3a" font-weight="normal" >Stickleback</text>
<text x="377.90" y="1019.98" class="mono" font-size="12.0" fill="#3c3c3c" textLength="35.6" lengthAdjust="spacingAndGlyphs">GIQCV</text>
<text x="436.50" y="1019.98" class="mono" font-size="12.0" fill="#3c3c3c" textLength="35.6" lengthAdjust="spacingAndGlyphs">GIQCV</text>
<text x="510.00" y="1019.98" class="mono" font-size="12.0" fill="#3c3c3c" textLength="35.6" lengthAdjust="spacingAndGlyphs">EEYDL</text>
<text x="568.60" y="1019.98" class="mono" font-size="12.0" fill="#3c3c3c" textLength="35.6" lengthAdjust="spacingAndGlyphs">EEFDL</text>
<text x="611.80" y="1019.98" font-size="10.6" text-anchor="start" fill="#3a3a3a" font-weight="normal" >Medaka</text>
<text x="377.90" y="1034.70" class="mono" font-size="12.0" fill="#3c3c3c" textLength="35.6" lengthAdjust="spacingAndGlyphs">GIQCV</text>
<text x="436.50" y="1034.70" class="mono" font-size="12.0" fill="#3c3c3c" textLength="35.6" lengthAdjust="spacingAndGlyphs">GIQCV</text>
<text x="510.00" y="1034.70" class="mono" font-size="12.0" fill="#3c3c3c" textLength="35.6" lengthAdjust="spacingAndGlyphs">EEYDL</text>
<text x="568.60" y="1034.70" class="mono" font-size="12.0" fill="#3c3c3c" textLength="35.6" lengthAdjust="spacingAndGlyphs">EEFDL</text>
<text x="611.80" y="1034.70" font-size="10.6" text-anchor="start" fill="#3a3a3a" font-weight="normal" >Zebrafish</text>
<text transform="translate(371.1,737.7) rotate(-90)" font-size="10.8" text-anchor="middle" fill="#3a3a3a" textLength="49.1" lengthAdjust="spacingAndGlyphs">Mammals</text>
<text transform="translate(371.1,956.2) rotate(-90)" font-size="10.8" text-anchor="middle" fill="#3a3a3a" textLength="91.6" lengthAdjust="spacingAndGlyphs">Other vertebrates</text>
</svg>
</body></html>
